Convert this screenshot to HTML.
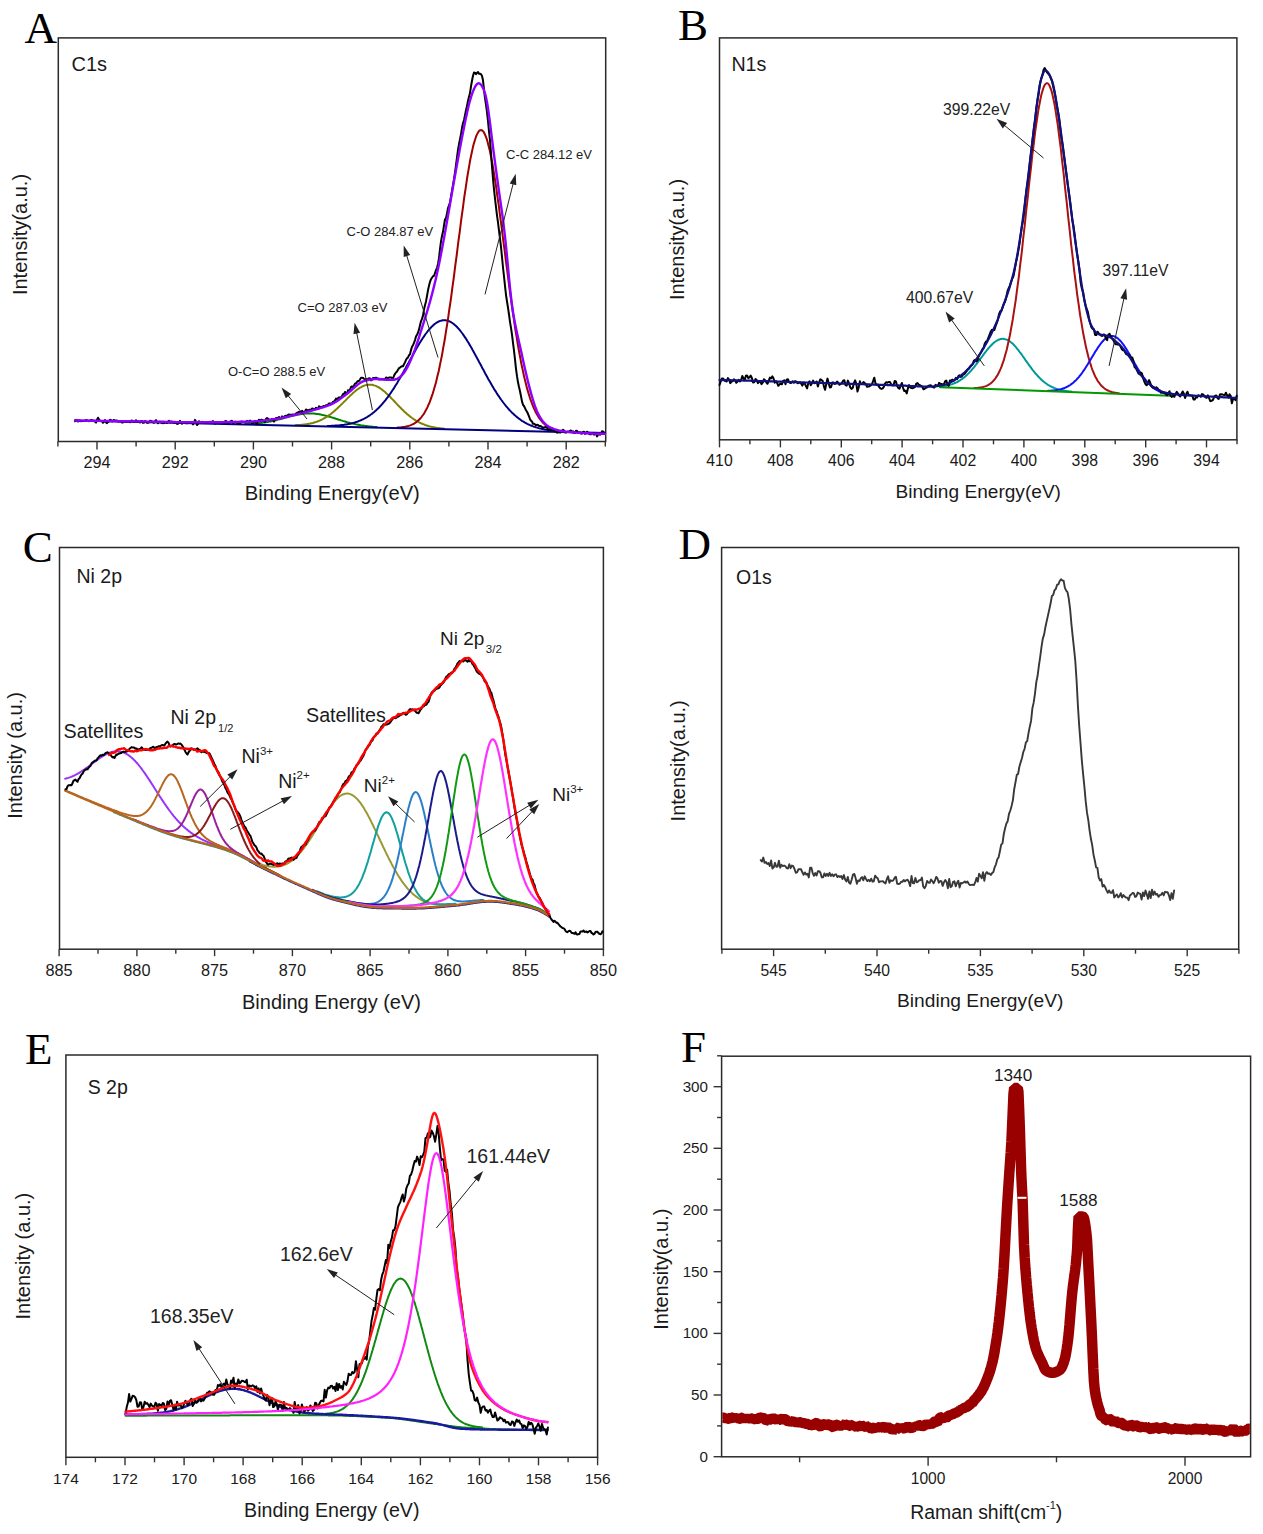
<!DOCTYPE html><html><head><meta charset="utf-8"><style>html,body{margin:0;padding:0;background:#fff;}svg{display:block}</style></head><body>
<svg width="1263" height="1534" viewBox="0 0 1263 1534">
<rect width="1263" height="1534" fill="#fff"/>
<rect x="58.3" y="37.9" width="547.4000000000001" height="403.6" fill="none" stroke="#2a2a2a" stroke-width="1.5"/>
<line x1="605.3" y1="441.5" x2="605.3" y2="446.5" stroke="#333" stroke-width="1.4"/>
<line x1="566.2" y1="441.5" x2="566.2" y2="449.5" stroke="#333" stroke-width="1.4"/>
<line x1="527.1" y1="441.5" x2="527.1" y2="446.5" stroke="#333" stroke-width="1.4"/>
<line x1="488" y1="441.5" x2="488" y2="449.5" stroke="#333" stroke-width="1.4"/>
<line x1="448.9" y1="441.5" x2="448.9" y2="446.5" stroke="#333" stroke-width="1.4"/>
<line x1="409.8" y1="441.5" x2="409.8" y2="449.5" stroke="#333" stroke-width="1.4"/>
<line x1="370.7" y1="441.5" x2="370.7" y2="446.5" stroke="#333" stroke-width="1.4"/>
<line x1="331.6" y1="441.5" x2="331.6" y2="449.5" stroke="#333" stroke-width="1.4"/>
<line x1="292.5" y1="441.5" x2="292.5" y2="446.5" stroke="#333" stroke-width="1.4"/>
<line x1="253.4" y1="441.5" x2="253.4" y2="449.5" stroke="#333" stroke-width="1.4"/>
<line x1="214.3" y1="441.5" x2="214.3" y2="446.5" stroke="#333" stroke-width="1.4"/>
<line x1="175.2" y1="441.5" x2="175.2" y2="449.5" stroke="#333" stroke-width="1.4"/>
<line x1="136.1" y1="441.5" x2="136.1" y2="446.5" stroke="#333" stroke-width="1.4"/>
<line x1="97" y1="441.5" x2="97" y2="449.5" stroke="#333" stroke-width="1.4"/>
<line x1="57.9" y1="441.5" x2="57.9" y2="446.5" stroke="#333" stroke-width="1.4"/>
<text x="566.2" y="468.4" font-family='"Liberation Sans", sans-serif' font-size="16.2" text-anchor="middle" fill="#1a1a1a">282</text>
<text x="488" y="468.4" font-family='"Liberation Sans", sans-serif' font-size="16.2" text-anchor="middle" fill="#1a1a1a">284</text>
<text x="409.8" y="468.4" font-family='"Liberation Sans", sans-serif' font-size="16.2" text-anchor="middle" fill="#1a1a1a">286</text>
<text x="331.6" y="468.4" font-family='"Liberation Sans", sans-serif' font-size="16.2" text-anchor="middle" fill="#1a1a1a">288</text>
<text x="253.4" y="468.4" font-family='"Liberation Sans", sans-serif' font-size="16.2" text-anchor="middle" fill="#1a1a1a">290</text>
<text x="175.2" y="468.4" font-family='"Liberation Sans", sans-serif' font-size="16.2" text-anchor="middle" fill="#1a1a1a">292</text>
<text x="97" y="468.4" font-family='"Liberation Sans", sans-serif' font-size="16.2" text-anchor="middle" fill="#1a1a1a">294</text>
<text x="332.3" y="500.4" font-family='"Liberation Sans", sans-serif' font-size="20.2" text-anchor="middle" fill="#1a1a1a">Binding Energy(eV)</text>
<text x="27.2" y="234.5" font-family='"Liberation Sans", sans-serif' font-size="20" text-anchor="middle" fill="#1a1a1a" transform="rotate(-90 27.2 234.5)">Intensity(a.u.)</text>
<text x="24.5" y="42.6" font-family='"Liberation Serif", serif' font-size="45" text-anchor="start" fill="#000">A</text>
<text x="71.5" y="70.5" font-family='"Liberation Sans", sans-serif' font-size="20" text-anchor="start" fill="#1a1a1a">C1s</text>
<polyline points="245.2,424.0 246.0,424.0 246.8,424.0 247.5,423.9 248.2,423.9 249.0,423.9 249.8,423.9 250.5,423.8 251.2,423.8 252.0,423.7 252.8,423.7 253.5,423.6 254.2,423.6 255.0,423.5 255.8,423.5 256.5,423.4 257.2,423.3 258.0,423.3 258.8,423.2 259.5,423.1 260.2,423.0 261.0,422.9 261.8,422.8 262.5,422.7 263.2,422.6 264.0,422.5 264.8,422.4 265.5,422.3 266.2,422.2 267.0,422.1 267.8,421.9 268.5,421.8 269.2,421.6 270.0,421.5 270.8,421.4 271.5,421.2 272.2,421.0 273.0,420.9 273.8,420.7 274.5,420.5 275.2,420.4 276.0,420.2 276.8,420.0 277.5,419.8 278.2,419.6 279.0,419.4 279.8,419.2 280.5,419.0 281.2,418.9 282.0,418.7 282.8,418.5 283.5,418.2 284.2,418.0 285.0,417.8 285.8,417.6 286.5,417.4 287.2,417.2 288.0,417.0 288.8,416.8 289.5,416.6 290.2,416.4 291.0,416.2 291.8,416.1 292.5,415.9 293.2,415.7 294.0,415.5 294.8,415.3 295.5,415.2 296.2,415.0 297.0,414.9 297.8,414.7 298.5,414.6 299.2,414.4 300.0,414.3 300.8,414.2 301.5,414.1 302.2,414.0 303.0,413.9 303.8,413.8 304.5,413.7 305.2,413.6 306.0,413.6 306.8,413.5 307.5,413.5 308.2,413.5 309.0,413.5 309.8,413.5 310.5,413.5 311.2,413.5 312.0,413.5 312.8,413.5 313.5,413.6 314.2,413.6 315.0,413.7 315.8,413.8 316.5,413.9 317.2,414.0 318.0,414.1 318.8,414.2 319.5,414.3 320.2,414.5 321.0,414.6 321.8,414.8 322.5,414.9 323.2,415.1 324.0,415.3 324.8,415.4 325.5,415.6 326.2,415.8 327.0,416.0 327.8,416.2 328.5,416.5 329.2,416.7 330.0,416.9 330.8,417.1 331.5,417.3 332.2,417.6 333.0,417.8 333.8,418.0 334.5,418.3 335.2,418.5 336.0,418.8 336.8,419.0 337.5,419.2 338.2,419.5 339.0,419.7 339.8,419.9 340.5,420.2 341.2,420.4 342.0,420.6 342.8,420.9 343.5,421.1 344.2,421.3 345.0,421.5 345.8,421.8 346.5,422.0 347.2,422.2 348.0,422.4 348.8,422.6 349.5,422.8 350.2,423.0 351.0,423.2 351.8,423.4 352.5,423.6 353.2,423.7 354.0,423.9 354.8,424.1 355.5,424.2 356.2,424.4 357.0,424.6 357.8,424.7 358.5,424.8 359.2,425.0 360.0,425.1 360.8,425.3 361.5,425.4 362.2,425.5 363.0,425.6 363.8,425.7 364.5,425.8 365.2,425.9 366.0,426.0 366.8,426.1 367.5,426.2 368.2,426.3 369.0,426.4 369.8,426.5 370.5,426.6 371.2,426.6 372.0,426.7 372.8,426.8 373.5,426.9 374.2,426.9 375.0,427.0 375.8,427.0 376.5,427.1" fill="none" stroke="#008000" stroke-width="2" stroke-linejoin="round" stroke-linecap="round"/>
<polyline points="295.5,425.2 296.2,425.2 297.0,425.1 297.8,425.1 298.5,425.0 299.2,425.0 300.0,424.9 300.8,424.9 301.5,424.8 302.2,424.8 303.0,424.7 303.8,424.6 304.5,424.5 305.2,424.4 306.0,424.3 306.8,424.2 307.5,424.1 308.2,424.0 309.0,423.8 309.8,423.7 310.5,423.5 311.2,423.3 312.0,423.2 312.8,423.0 313.5,422.8 314.2,422.5 315.0,422.3 315.8,422.1 316.5,421.8 317.2,421.6 318.0,421.3 318.8,421.0 319.5,420.7 320.2,420.3 321.0,420.0 321.8,419.6 322.5,419.2 323.2,418.9 324.0,418.4 324.8,418.0 325.5,417.6 326.2,417.1 327.0,416.6 327.8,416.1 328.5,415.6 329.2,415.1 330.0,414.6 330.8,414.0 331.5,413.4 332.2,412.8 333.0,412.2 333.8,411.6 334.5,410.9 335.2,410.3 336.0,409.6 336.8,408.9 337.5,408.2 338.2,407.5 339.0,406.8 339.8,406.1 340.5,405.4 341.2,404.6 342.0,403.9 342.8,403.1 343.5,402.4 344.2,401.6 345.0,400.9 345.8,400.1 346.5,399.3 347.2,398.6 348.0,397.8 348.8,397.1 349.5,396.4 350.2,395.6 351.0,394.9 351.8,394.2 352.5,393.5 353.2,392.8 354.0,392.2 354.8,391.5 355.5,390.9 356.2,390.3 357.0,389.7 357.8,389.2 358.5,388.7 359.2,388.2 360.0,387.7 360.8,387.3 361.5,386.9 362.2,386.5 363.0,386.1 363.8,385.8 364.5,385.6 365.2,385.3 366.0,385.1 366.8,384.9 367.5,384.8 368.2,384.7 369.0,384.7 369.8,384.7 370.5,384.7 371.2,384.7 372.0,384.8 372.8,385.0 373.5,385.2 374.2,385.4 375.0,385.6 375.8,385.9 376.5,386.2 377.2,386.6 378.0,387.0 378.8,387.4 379.5,387.9 380.2,388.3 381.0,388.9 381.8,389.4 382.5,390.0 383.2,390.6 384.0,391.2 384.8,391.8 385.5,392.5 386.2,393.2 387.0,393.9 387.8,394.6 388.5,395.3 389.2,396.1 390.0,396.8 390.8,397.6 391.5,398.4 392.2,399.1 393.0,399.9 393.8,400.7 394.5,401.5 395.2,402.3 396.0,403.1 396.8,403.9 397.5,404.7 398.2,405.5 399.0,406.2 399.8,407.0 400.5,407.8 401.2,408.5 402.0,409.3 402.8,410.0 403.5,410.7 404.2,411.5 405.0,412.2 405.8,412.8 406.5,413.5 407.2,414.2 408.0,414.8 408.8,415.4 409.5,416.0 410.2,416.6 411.0,417.2 411.8,417.8 412.5,418.3 413.2,418.8 414.0,419.3 414.8,419.8 415.5,420.3 416.2,420.8 417.0,421.2 417.8,421.6 418.5,422.0 419.2,422.4 420.0,422.8 420.8,423.2 421.5,423.5 422.2,423.8 423.0,424.1 423.8,424.4 424.5,424.7 425.2,425.0 426.0,425.3 426.8,425.5 427.5,425.7 428.2,426.0 429.0,426.2 429.8,426.4 430.5,426.6 431.2,426.8 432.0,426.9 432.8,427.1 433.5,427.2 434.2,427.4 435.0,427.5 435.8,427.6 436.5,427.8 437.2,427.9 438.0,428.0 438.8,428.1 439.5,428.2 440.2,428.3 441.0,428.4 441.8,428.4 442.5,428.5 443.2,428.6 444.0,428.7" fill="none" stroke="#808000" stroke-width="2" stroke-linejoin="round" stroke-linecap="round"/>
<polyline points="327.8,426.0 328.5,425.9 329.2,425.9 330.0,425.9 330.8,425.9 331.5,425.8 332.2,425.8 333.0,425.8 333.8,425.7 334.5,425.7 335.2,425.6 336.0,425.6 336.8,425.5 337.5,425.5 338.2,425.4 339.0,425.4 339.8,425.3 340.5,425.2 341.2,425.1 342.0,425.0 342.8,425.0 343.5,424.9 344.2,424.8 345.0,424.6 345.8,424.5 346.5,424.4 347.2,424.3 348.0,424.1 348.8,424.0 349.5,423.8 350.2,423.7 351.0,423.5 351.8,423.3 352.5,423.1 353.2,422.9 354.0,422.7 354.8,422.5 355.5,422.3 356.2,422.0 357.0,421.8 357.8,421.5 358.5,421.2 359.2,420.9 360.0,420.6 360.8,420.3 361.5,420.0 362.2,419.6 363.0,419.3 363.8,418.9 364.5,418.5 365.2,418.1 366.0,417.7 366.8,417.3 367.5,416.8 368.2,416.3 369.0,415.8 369.8,415.3 370.5,414.8 371.2,414.3 372.0,413.7 372.8,413.1 373.5,412.5 374.2,411.9 375.0,411.2 375.8,410.6 376.5,409.9 377.2,409.2 378.0,408.5 378.8,407.7 379.5,407.0 380.2,406.2 381.0,405.4 381.8,404.5 382.5,403.7 383.2,402.8 384.0,401.9 384.8,401.0 385.5,400.1 386.2,399.1 387.0,398.1 387.8,397.1 388.5,396.1 389.2,395.1 390.0,394.0 390.8,392.9 391.5,391.8 392.2,390.7 393.0,389.6 393.8,388.4 394.5,387.2 395.2,386.0 396.0,384.8 396.8,383.6 397.5,382.4 398.2,381.1 399.0,379.8 399.8,378.5 400.5,377.2 401.2,375.9 402.0,374.6 402.8,373.3 403.5,371.9 404.2,370.6 405.0,369.2 405.8,367.9 406.5,366.5 407.2,365.2 408.0,363.8 408.8,362.4 409.5,361.0 410.2,359.7 411.0,358.3 411.8,356.9 412.5,355.6 413.2,354.2 414.0,352.9 414.8,351.5 415.5,350.2 416.2,348.9 417.0,347.6 417.8,346.3 418.5,345.0 419.2,343.8 420.0,342.5 420.8,341.3 421.5,340.1 422.2,339.0 423.0,337.8 423.8,336.7 424.5,335.6 425.2,334.5 426.0,333.5 426.8,332.5 427.5,331.5 428.2,330.6 429.0,329.7 429.8,328.8 430.5,328.0 431.2,327.2 432.0,326.4 432.8,325.7 433.5,325.0 434.2,324.4 435.0,323.8 435.8,323.2 436.5,322.7 437.2,322.3 438.0,321.9 438.8,321.5 439.5,321.2 440.2,320.9 441.0,320.7 441.8,320.5 442.5,320.3 443.2,320.3 444.0,320.2 444.8,320.2 445.5,320.3 446.2,320.4 447.0,320.5 447.8,320.7 448.5,321.0 449.2,321.3 450.0,321.6 450.8,322.0 451.5,322.5 452.2,322.9 453.0,323.5 453.8,324.0 454.5,324.7 455.2,325.3 456.0,326.0 456.8,326.8 457.5,327.5 458.2,328.3 459.0,329.2 459.8,330.1 460.5,331.0 461.2,332.0 462.0,333.0 462.8,334.0 463.5,335.1 464.2,336.2 465.0,337.3 465.8,338.4 466.5,339.6 467.2,340.8 468.0,342.0 468.8,343.3 469.5,344.5 470.2,345.8 471.0,347.1 471.8,348.4 472.5,349.8 473.2,351.1 474.0,352.5 474.8,353.9 475.5,355.2 476.2,356.6 477.0,358.0 477.8,359.4 478.5,360.8 479.2,362.2 480.0,363.6 480.8,365.0 481.5,366.4 482.2,367.8 483.0,369.2 483.8,370.6 484.5,372.0 485.2,373.4 486.0,374.8 486.8,376.2 487.5,377.5 488.2,378.9 489.0,380.2 489.8,381.5 490.5,382.8 491.2,384.1 492.0,385.4 492.8,386.7 493.5,387.9 494.2,389.2 495.0,390.4 495.8,391.6 496.5,392.8 497.2,393.9 498.0,395.1 498.8,396.2 499.5,397.3 500.2,398.4 501.0,399.5 501.8,400.5 502.5,401.5 503.2,402.5 504.0,403.5 504.8,404.5 505.5,405.4 506.2,406.3 507.0,407.2 507.8,408.1 508.5,408.9 509.2,409.8 510.0,410.6 510.8,411.4 511.5,412.1 512.2,412.9 513.0,413.6 513.8,414.3 514.5,415.0 515.2,415.6 516.0,416.3 516.8,416.9 517.5,417.5 518.2,418.1 519.0,418.7 519.8,419.2 520.5,419.7 521.2,420.3 522.0,420.8 522.8,421.2 523.5,421.7 524.2,422.1 525.0,422.6 525.8,423.0 526.5,423.4 527.2,423.8 528.0,424.2 528.8,424.5 529.5,424.9 530.2,425.2 531.0,425.5 531.8,425.8 532.5,426.1 533.2,426.4 534.0,426.7 534.8,426.9 535.5,427.2 536.2,427.4 537.0,427.6 537.8,427.8 538.5,428.1 539.2,428.3 540.0,428.4 540.8,428.6 541.5,428.8 542.2,429.0 543.0,429.1 543.8,429.3 544.5,429.4 545.2,429.6 546.0,429.7 546.8,429.8 547.5,430.0 548.2,430.1 549.0,430.2 549.8,430.3 550.5,430.4 551.2,430.5 552.0,430.6 552.8,430.7 553.5,430.8 554.2,430.9 555.0,430.9 555.8,431.0 556.5,431.1 557.2,431.1 558.0,431.2 558.8,431.3 559.5,431.3 560.2,431.4 561.0,431.4" fill="none" stroke="#000080" stroke-width="2" stroke-linejoin="round" stroke-linecap="round"/>
<polyline points="397.5,427.6 398.2,427.6 399.0,427.5 399.8,427.5 400.5,427.4 401.2,427.3 402.0,427.2 402.8,427.1 403.5,427.0 404.2,426.9 405.0,426.8 405.8,426.6 406.5,426.5 407.2,426.3 408.0,426.1 408.8,425.9 409.5,425.6 410.2,425.4 411.0,425.1 411.8,424.7 412.5,424.4 413.2,424.0 414.0,423.6 414.8,423.1 415.5,422.7 416.2,422.1 417.0,421.5 417.8,420.9 418.5,420.2 419.2,419.5 420.0,418.7 420.8,417.9 421.5,417.0 422.2,416.0 423.0,415.0 423.8,413.9 424.5,412.7 425.2,411.4 426.0,410.0 426.8,408.6 427.5,407.1 428.2,405.4 429.0,403.7 429.8,401.9 430.5,399.9 431.2,397.9 432.0,395.7 432.8,393.4 433.5,391.0 434.2,388.5 435.0,385.9 435.8,383.1 436.5,380.2 437.2,377.1 438.0,374.0 438.8,370.7 439.5,367.2 440.2,363.6 441.0,359.9 441.8,356.1 442.5,352.1 443.2,347.9 444.0,343.7 444.8,339.3 445.5,334.7 446.2,330.1 447.0,325.3 447.8,320.4 448.5,315.4 449.2,310.2 450.0,305.0 450.8,299.7 451.5,294.3 452.2,288.8 453.0,283.2 453.8,277.5 454.5,271.8 455.2,266.1 456.0,260.3 456.8,254.5 457.5,248.7 458.2,242.9 459.0,237.0 459.8,231.3 460.5,225.5 461.2,219.8 462.0,214.1 462.8,208.6 463.5,203.1 464.2,197.7 465.0,192.4 465.8,187.3 466.5,182.3 467.2,177.5 468.0,172.8 468.8,168.3 469.5,164.1 470.2,160.0 471.0,156.1 471.8,152.5 472.5,149.1 473.2,146.0 474.0,143.1 474.8,140.5 475.5,138.2 476.2,136.1 477.0,134.4 477.8,132.9 478.5,131.7 479.2,130.9 480.0,130.3 480.8,130.1 481.5,130.2 482.2,130.5 483.0,131.2 483.8,132.2 484.5,133.5 485.2,135.1 486.0,137.0 486.8,139.2 487.5,141.6 488.2,144.4 489.0,147.4 489.8,150.6 490.5,154.1 491.2,157.9 492.0,161.8 492.8,166.0 493.5,170.4 494.2,175.0 495.0,179.7 495.8,184.7 496.5,189.7 497.2,195.0 498.0,200.3 498.8,205.7 499.5,211.3 500.2,216.9 501.0,222.6 501.8,228.4 502.5,234.2 503.2,240.0 504.0,245.9 504.8,251.7 505.5,257.6 506.2,263.4 507.0,269.2 507.8,275.0 508.5,280.7 509.2,286.4 510.0,292.0 510.8,297.5 511.5,302.9 512.2,308.2 513.0,313.5 513.8,318.6 514.5,323.6 515.2,328.5 516.0,333.3 516.8,337.9 517.5,342.5 518.2,346.9 519.0,351.1 519.8,355.2 520.5,359.2 521.2,363.1 522.0,366.8 522.8,370.4 523.5,373.8 524.2,377.1 525.0,380.2 525.8,383.3 526.5,386.2 527.2,388.9 528.0,391.6 528.8,394.1 529.5,396.5 530.2,398.8 531.0,400.9 531.8,403.0 532.5,404.9 533.2,406.7 534.0,408.5 534.8,410.1 535.5,411.7 536.2,413.1 537.0,414.5 537.8,415.7 538.5,416.9 539.2,418.1 540.0,419.1 540.8,420.1 541.5,421.0 542.2,421.9 543.0,422.7 543.8,423.4 544.5,424.1 545.2,424.8 546.0,425.4 546.8,425.9 547.5,426.4 548.2,426.9 549.0,427.4 549.8,427.8 550.5,428.1 551.2,428.5 552.0,428.8 552.8,429.1 553.5,429.4 554.2,429.6 555.0,429.8 555.8,430.1 556.5,430.2 557.2,430.4 558.0,430.6 558.8,430.7 559.5,430.9 560.2,431.0 561.0,431.1 561.8,431.2 562.5,431.3 563.2,431.4 564.0,431.5" fill="none" stroke="#a00000" stroke-width="2" stroke-linejoin="round" stroke-linecap="round"/>
<polyline points="75.0,420.5 605.0,433.0" fill="none" stroke="#000080" stroke-width="2" stroke-linejoin="round" stroke-linecap="round"/>
<polyline points="75.0,421.3 76.0,419.8 77.0,420.3 78.0,421.5 79.0,420.5 80.0,420.6 81.0,421.3 82.0,421.1 83.0,420.9 84.0,421.1 85.0,420.6 86.0,420.1 87.0,420.3 88.0,420.9 89.0,421.3 90.0,420.6 91.0,420.1 92.0,420.1 93.0,420.7 94.0,420.7 95.0,421.7 96.0,422.6 97.0,419.7 98.0,417.7 99.0,419.5 100.0,420.6 101.0,420.9 102.0,421.4 103.0,422.8 104.0,421.8 105.0,420.1 106.0,422.4 107.0,423.1 108.0,422.1 109.0,421.3 110.0,419.7 111.0,420.2 112.0,421.5 113.0,420.5 114.0,419.9 115.0,420.8 116.0,420.6 117.0,420.6 118.0,421.4 119.0,421.5 120.0,421.1 121.0,421.5 122.0,422.6 123.0,422.4 124.0,421.2 125.0,421.5 126.0,421.7 127.0,421.9 128.0,421.5 129.0,421.5 130.0,422.3 131.0,420.7 132.0,420.5 133.0,421.5 134.0,421.9 135.0,421.2 136.0,420.2 137.0,421.1 138.0,421.6 139.0,421.6 140.0,422.5 141.0,421.2 142.0,420.9 143.0,422.9 144.0,422.6 145.0,421.1 146.0,421.9 147.0,422.7 148.0,422.8 149.0,422.4 150.0,420.7 151.0,420.9 152.0,421.6 153.0,422.3 154.0,422.8 155.0,421.1 156.0,420.1 157.0,421.9 158.0,423.3 159.0,422.2 160.0,421.7 161.0,422.5 162.0,422.9 163.0,423.2 164.0,423.1 165.0,422.4 166.0,422.1 167.0,422.9 168.0,421.5 169.0,420.7 170.0,422.3 171.0,421.4 172.0,421.7 173.0,422.2 174.0,422.6 175.0,423.0 176.0,422.9 177.0,423.9 178.0,423.7 179.0,422.2 180.0,420.9 181.0,422.8 182.0,423.8 183.0,422.1 184.0,422.3 185.0,422.6 186.0,423.2 187.0,423.3 188.0,422.8 189.0,422.2 190.0,422.6 191.0,422.3 192.0,422.5 193.0,424.4 194.0,422.8 195.0,419.9 196.0,421.5 197.0,425.1 198.0,423.9 199.0,421.2 200.0,422.3 201.0,422.6 202.0,421.8 203.0,422.2 204.0,422.9 205.0,422.9 206.0,422.7 207.0,422.9 208.0,422.0 209.0,421.9 210.0,421.8 211.0,422.1 212.0,421.9 213.0,421.1 214.0,423.0 215.0,423.7 216.0,422.6 217.0,423.0 218.0,422.7 219.0,422.2 220.0,422.8 221.0,423.1 222.0,422.0 223.0,422.3 224.0,422.7 225.0,421.3 226.0,421.1 227.0,421.6 228.0,423.4 229.0,422.8 230.0,421.7 231.0,421.0 232.0,420.8 233.0,423.0 234.0,422.8 235.0,421.7 236.0,422.0 237.0,422.9 238.0,423.2 239.0,424.1 240.0,423.7 241.0,421.8 242.0,421.6 243.0,421.9 244.0,422.0 245.0,422.0 246.0,422.0 247.0,420.8 248.0,421.3 249.0,422.0 250.0,420.5 251.0,421.4 252.0,423.1 253.0,422.9 254.0,422.0 255.0,420.9 256.0,422.8 257.0,424.0 258.0,421.0 259.0,419.7 260.0,420.5 261.0,419.8 262.0,419.7 263.0,420.4 264.0,421.0 265.0,421.9 266.0,418.9 267.0,418.1 268.0,418.7 269.0,419.3 270.0,420.4 271.0,419.9 272.0,418.8 273.0,419.5 274.0,421.6 275.0,419.3 276.0,418.0 277.0,418.1 278.0,417.6 279.0,417.0 280.0,418.2 281.0,418.2 282.0,416.4 283.0,417.3 284.0,416.8 285.0,416.0 286.0,415.8 287.0,415.7 288.0,415.0 289.0,414.5 290.0,414.9 291.0,414.7 292.0,414.7 293.0,414.4 294.0,414.7 295.0,414.4 296.0,413.5 297.0,412.9 298.0,412.4 299.0,411.7 300.0,412.2 301.0,412.0 302.0,410.9 303.0,411.7 304.0,412.3 305.0,411.5 306.0,409.5 307.0,409.9 308.0,411.3 309.0,409.7 310.0,409.8 311.0,410.1 312.0,408.5 313.0,408.8 314.0,409.2 315.0,409.0 316.0,407.7 317.0,408.6 318.0,409.0 319.0,406.3 320.0,406.8 321.0,407.4 322.0,406.8 323.0,406.5 324.0,405.9 325.0,406.0 326.0,405.2 327.0,405.1 328.0,404.9 329.0,403.4 330.0,403.4 331.0,403.9 332.0,403.2 333.0,401.7 334.0,401.7 335.0,400.5 336.0,398.6 337.0,399.2 338.0,398.2 339.0,397.4 340.0,397.6 341.0,397.4 342.0,396.0 343.0,394.1 344.0,394.2 345.0,392.0 346.0,393.2 347.0,393.7 348.0,390.2 349.0,390.4 350.0,389.9 351.0,387.0 352.0,386.5 353.0,387.3 354.0,385.5 355.0,383.6 356.0,383.3 357.0,381.9 358.0,381.0 359.0,381.0 360.0,379.5 361.0,377.8 362.0,377.8 363.0,377.9 364.0,378.7 365.0,379.4 366.0,379.3 367.0,379.3 368.0,378.9 369.0,378.2 370.0,378.5 371.0,380.4 372.0,379.7 373.0,377.9 374.0,378.1 375.0,378.1 376.0,377.7 377.0,378.2 378.0,378.5 379.0,379.4 380.0,379.6 381.0,378.8 382.0,379.5 383.0,379.1 384.0,379.4 385.0,379.2 386.0,377.6 387.0,377.8 388.0,378.3 389.0,377.5 390.0,377.6 391.0,377.4 392.0,378.1 393.0,378.5 394.0,375.8 395.0,373.8 396.0,372.5 397.0,371.6 398.0,369.8 399.0,368.2 400.0,367.6 401.0,366.7 402.0,366.3 403.0,366.3 404.0,364.3 405.0,362.4 406.0,359.9 407.0,358.3 408.0,357.4 409.0,355.3 410.0,354.3 411.0,350.1 412.0,346.8 413.0,345.2 414.0,342.9 415.0,340.1 416.0,336.6 417.0,334.8 418.0,332.7 419.0,329.4 420.0,325.2 421.0,321.3 422.0,318.9 423.0,315.6 424.0,309.6 425.0,305.3 426.0,301.4 427.0,296.0 428.0,290.3 429.0,285.8 430.0,281.8 431.0,279.2 432.0,277.7 433.0,276.2 434.0,275.8 435.0,273.0 436.0,270.1 437.0,267.8 438.0,264.0 439.0,258.1 440.0,249.1 441.0,241.4 442.0,236.0 443.0,231.8 444.0,225.5 445.0,219.5 446.0,217.9 447.0,213.6 448.0,208.0 449.0,205.4 450.0,202.5 451.0,196.6 452.0,190.6 453.0,185.0 454.0,179.2 455.0,172.3 456.0,165.1 457.0,157.5 458.0,150.0 459.0,144.1 460.0,139.1 461.0,134.1 462.0,127.8 463.0,123.3 464.0,120.0 465.0,115.2 466.0,110.3 467.0,106.1 468.0,100.8 469.0,96.7 470.0,93.1 471.0,86.4 472.0,80.8 473.0,75.8 474.0,72.6 475.0,72.7 476.0,74.1 477.0,73.0 478.0,72.0 479.0,73.8 480.0,73.8 481.0,74.1 482.0,76.0 483.0,80.3 484.0,89.9 485.0,98.2 486.0,104.6 487.0,112.1 488.0,121.1 489.0,131.4 490.0,140.4 491.0,152.9 492.0,166.8 493.0,178.7 494.0,189.4 495.0,198.5 496.0,207.2 497.0,215.4 498.0,222.4 499.0,230.6 500.0,238.6 501.0,246.9 502.0,257.0 503.0,267.5 504.0,276.4 505.0,285.8 506.0,295.0 507.0,301.5 508.0,307.6 509.0,314.5 510.0,321.8 511.0,327.9 512.0,334.7 513.0,342.8 514.0,350.6 515.0,359.4 516.0,368.8 517.0,376.2 518.0,382.3 519.0,387.0 520.0,391.2 521.0,396.2 522.0,401.4 523.0,404.8 524.0,406.0 525.0,408.1 526.0,410.2 527.0,411.7 528.0,413.8 529.0,416.3 530.0,419.3 531.0,420.7 532.0,421.5 533.0,423.8 534.0,423.7 535.0,424.4 536.0,425.5 537.0,424.7 538.0,425.0 539.0,425.9 540.0,426.0 541.0,426.3 542.0,427.0 543.0,427.8 544.0,427.3 545.0,427.3 546.0,427.1 547.0,427.6 548.0,429.4 549.0,429.6 550.0,429.6 551.0,430.1 552.0,429.6 553.0,429.2 554.0,430.2 555.0,431.3 556.0,431.4 557.0,432.7 558.0,432.5 559.0,431.5 560.0,432.6 561.0,431.9 562.0,430.5 563.0,429.8 564.0,430.6 565.0,432.4 566.0,432.6 567.0,432.0 568.0,431.6 569.0,432.0 570.0,430.8 571.0,430.6 572.0,432.3 573.0,431.2 574.0,432.9 575.0,432.9 576.0,430.7 577.0,430.9 578.0,432.5 579.0,432.8 580.0,432.6 581.0,433.7 582.0,433.5 583.0,432.2 584.0,431.7 585.0,433.9 586.0,433.4 587.0,431.7 588.0,432.6 589.0,433.8 590.0,434.2 591.0,434.2 592.0,433.2 593.0,433.4 594.0,434.7 595.0,432.9 596.0,433.6 597.0,436.4 598.0,434.8 599.0,433.2 600.0,434.8 601.0,433.7 602.0,431.3 603.0,431.4 604.0,432.5 605.0,433.0" fill="none" stroke="#000" stroke-width="2" stroke-linejoin="round" stroke-linecap="round"/>
<polyline points="75.0,420.5 76.0,420.5 77.0,420.5 78.0,420.5 79.0,420.6 80.0,420.6 81.0,420.6 82.0,420.6 83.0,420.6 84.0,420.6 85.0,420.7 86.0,420.7 87.0,420.7 88.0,420.7 89.0,420.7 90.0,420.7 91.0,420.7 92.0,420.8 93.0,420.8 94.0,420.8 95.0,420.8 96.0,420.8 97.0,420.8 98.0,420.8 99.0,420.9 100.0,420.9 101.0,420.9 102.0,420.9 103.0,420.9 104.0,420.9 105.0,420.9 106.0,421.0 107.0,421.0 108.0,421.0 109.0,421.0 110.0,421.0 111.0,421.0 112.0,421.0 113.0,421.1 114.0,421.1 115.0,421.1 116.0,421.1 117.0,421.1 118.0,421.1 119.0,421.2 120.0,421.2 121.0,421.2 122.0,421.2 123.0,421.2 124.0,421.2 125.0,421.2 126.0,421.3 127.0,421.3 128.0,421.3 129.0,421.3 130.0,421.3 131.0,421.3 132.0,421.3 133.0,421.4 134.0,421.4 135.0,421.4 136.0,421.4 137.0,421.4 138.0,421.4 139.0,421.4 140.0,421.5 141.0,421.5 142.0,421.5 143.0,421.5 144.0,421.5 145.0,421.5 146.0,421.5 147.0,421.6 148.0,421.6 149.0,421.6 150.0,421.6 151.0,421.6 152.0,421.6 153.0,421.6 154.0,421.7 155.0,421.7 156.0,421.7 157.0,421.7 158.0,421.7 159.0,421.7 160.0,421.8 161.0,421.8 162.0,421.8 163.0,421.8 164.0,421.8 165.0,421.9 166.0,421.9 167.0,421.9 168.0,421.9 169.0,421.9 170.0,421.9 171.0,422.0 172.0,422.0 173.0,422.0 174.0,422.0 175.0,422.0 176.0,422.1 177.0,422.1 178.0,422.1 179.0,422.1 180.0,422.1 181.0,422.1 182.0,422.2 183.0,422.2 184.0,422.2 185.0,422.2 186.0,422.2 187.0,422.2 188.0,422.2 189.0,422.2 190.0,422.2 191.0,422.3 192.0,422.3 193.0,422.3 194.0,422.3 195.0,422.3 196.0,422.3 197.0,422.3 198.0,422.3 199.0,422.3 200.0,422.3 201.0,422.3 202.0,422.3 203.0,422.3 204.0,422.3 205.0,422.3 206.0,422.3 207.0,422.3 208.0,422.3 209.0,422.3 210.0,422.3 211.0,422.3 212.0,422.3 213.0,422.2 214.0,422.2 215.0,422.2 216.0,422.2 217.0,422.2 218.0,422.2 219.0,422.2 220.0,422.2 221.0,422.2 222.0,422.2 223.0,422.1 224.0,422.1 225.0,422.1 226.0,422.1 227.0,422.1 228.0,422.1 229.0,422.1 230.0,422.0 231.0,422.0 232.0,422.0 233.0,422.0 234.0,422.0 235.0,421.9 236.0,421.9 237.0,421.9 238.0,421.9 239.0,421.9 240.0,421.8 241.0,421.8 242.0,421.8 243.0,421.8 244.0,421.8 245.0,421.7 246.0,421.7 247.0,421.7 248.0,421.6 249.0,421.6 250.0,421.6 251.0,421.6 252.0,421.5 253.0,421.5 254.0,421.4 255.0,421.4 256.0,421.3 257.0,421.2 258.0,421.1 259.0,421.0 260.0,420.9 261.0,420.8 262.0,420.7 263.0,420.6 264.0,420.5 265.0,420.4 266.0,420.3 267.0,420.2 268.0,420.0 269.0,419.9 270.0,419.8 271.0,419.6 272.0,419.5 273.0,419.3 274.0,419.2 275.0,419.0 276.0,418.9 277.0,418.7 278.0,418.6 279.0,418.4 280.0,418.3 281.0,418.1 282.0,417.9 283.0,417.7 284.0,417.5 285.0,417.3 286.0,417.1 287.0,416.8 288.0,416.6 289.0,416.3 290.0,416.1 291.0,415.8 292.0,415.6 293.0,415.3 294.0,415.1 295.0,414.8 296.0,414.6 297.0,414.3 298.0,414.1 299.0,413.8 300.0,413.6 301.0,413.3 302.0,413.1 303.0,412.8 304.0,412.6 305.0,412.3 306.0,412.0 307.0,411.8 308.0,411.5 309.0,411.3 310.0,411.0 311.0,410.8 312.0,410.5 313.0,410.2 314.0,409.9 315.0,409.7 316.0,409.4 317.0,409.1 318.0,408.8 319.0,408.5 320.0,408.2 321.0,407.9 322.0,407.6 323.0,407.3 324.0,407.0 325.0,406.6 326.0,406.3 327.0,405.9 328.0,405.6 329.0,405.2 330.0,404.8 331.0,404.4 332.0,403.9 333.0,403.4 334.0,402.9 335.0,402.3 336.0,401.7 337.0,401.1 338.0,400.4 339.0,399.7 340.0,399.0 341.0,398.3 342.0,397.6 343.0,396.8 344.0,396.1 345.0,395.4 346.0,394.6 347.0,393.8 348.0,393.1 349.0,392.2 350.0,391.4 351.0,390.5 352.0,389.6 353.0,388.7 354.0,387.8 355.0,386.9 356.0,386.0 357.0,385.2 358.0,384.4 359.0,383.6 360.0,383.0 361.0,382.4 362.0,381.9 363.0,381.4 364.0,381.0 365.0,380.7 366.0,380.5 367.0,380.2 368.0,380.0 369.0,379.8 370.0,379.6 371.0,379.5 372.0,379.3 373.0,379.2 374.0,379.1 375.0,379.0 376.0,379.0 377.0,379.0 378.0,379.0 379.0,379.0 380.0,379.1 381.0,379.1 382.0,379.2 383.0,379.3 384.0,379.5 385.0,379.6 386.0,379.7 387.0,379.8 388.0,379.8 389.0,379.9 390.0,379.9 391.0,379.9 392.0,379.9 393.0,379.8 394.0,379.7 395.0,379.5 396.0,379.2 397.0,378.9 398.0,378.4 399.0,377.7 400.0,377.0 401.0,376.1 402.0,375.1 403.0,374.0 404.0,372.7 405.0,371.3 406.0,369.7 407.0,368.0 408.0,366.1 409.0,364.0 410.0,361.8 411.0,359.5 412.0,357.1 413.0,354.6 414.0,352.0 415.0,349.3 416.0,346.4 417.0,343.5 418.0,340.4 419.0,337.3 420.0,334.2 421.0,331.0 422.0,327.9 423.0,324.7 424.0,321.6 425.0,318.4 426.0,315.1 427.0,311.8 428.0,308.5 429.0,305.1 430.0,301.6 431.0,297.9 432.0,294.2 433.0,290.4 434.0,286.4 435.0,282.3 436.0,278.1 437.0,273.6 438.0,269.0 439.0,264.2 440.0,259.2 441.0,254.1 442.0,248.9 443.0,243.6 444.0,238.2 445.0,232.6 446.0,227.1 447.0,221.4 448.0,215.7 449.0,209.9 450.0,204.2 451.0,198.4 452.0,192.7 453.0,187.0 454.0,181.3 455.0,175.7 456.0,170.1 457.0,164.5 458.0,159.0 459.0,153.5 460.0,148.1 461.0,142.8 462.0,137.6 463.0,132.5 464.0,127.4 465.0,122.4 466.0,117.5 467.0,112.9 468.0,108.4 469.0,104.3 470.0,100.6 471.0,97.2 472.0,94.1 473.0,91.4 474.0,89.0 475.0,86.9 476.0,85.2 477.0,84.1 478.0,83.4 479.0,83.3 480.0,83.8 481.0,84.7 482.0,86.1 483.0,88.0 484.0,90.4 485.0,93.4 486.0,97.3 487.0,102.2 488.0,108.2 489.0,115.3 490.0,123.0 491.0,131.1 492.0,139.1 493.0,147.0 494.0,154.7 495.0,162.3 496.0,169.7 497.0,177.0 498.0,184.2 499.0,191.4 500.0,198.4 501.0,205.4 502.0,212.5 503.0,219.9 504.0,227.9 505.0,236.6 506.0,246.1 507.0,256.4 508.0,267.2 509.0,277.8 510.0,287.9 511.0,297.0 512.0,304.9 513.0,311.8 514.0,317.9 515.0,323.3 516.0,328.3 517.0,332.9 518.0,337.5 519.0,341.9 520.0,346.3 521.0,350.8 522.0,355.3 523.0,359.9 524.0,364.4 525.0,368.9 526.0,373.3 527.0,377.6 528.0,381.7 529.0,385.6 530.0,389.4 531.0,393.1 532.0,396.7 533.0,400.0 534.0,403.2 535.0,406.2 536.0,408.8 537.0,411.3 538.0,413.4 539.0,415.4 540.0,417.1 541.0,418.8 542.0,420.2 543.0,421.5 544.0,422.7 545.0,423.7 546.0,424.6 547.0,425.4 548.0,426.1 549.0,426.7 550.0,427.2 551.0,427.7 552.0,428.2 553.0,428.6 554.0,429.0 555.0,429.4 556.0,429.7 557.0,430.0 558.0,430.3 559.0,430.6 560.0,430.8 561.0,431.0 562.0,431.1 563.0,431.3 564.0,431.4 565.0,431.5 566.0,431.6 567.0,431.7 568.0,431.8 569.0,431.9 570.0,432.0 571.0,432.1 572.0,432.2 573.0,432.3 574.0,432.4 575.0,432.5 576.0,432.6 577.0,432.6 578.0,432.7 579.0,432.8 580.0,432.9 581.0,432.9 582.0,433.0 583.0,433.1 584.0,433.1 585.0,433.2 586.0,433.2 587.0,433.3 588.0,433.3 589.0,433.4 590.0,433.4 591.0,433.5 592.0,433.5 593.0,433.6 594.0,433.6 595.0,433.6 596.0,433.7 597.0,433.7 598.0,433.7 599.0,433.7 600.0,433.7 601.0,433.8 602.0,433.8 603.0,433.8 604.0,433.8 605.0,433.8" fill="none" stroke="#8f00ff" stroke-width="2.4" stroke-linejoin="round" stroke-linecap="round"/>
<text x="506" y="159.3" font-family='"Liberation Sans", sans-serif' font-size="13" text-anchor="start" fill="#222">C-C 284.12 eV</text>
<line x1="485" y1="294.4" x2="513.2" y2="183.5" stroke="#222" stroke-width="1"/>
<polygon points="515.7,173.8 516.3,185.3 509.7,183.6" fill="#222"/>
<text x="346.5" y="236.3" font-family='"Liberation Sans", sans-serif' font-size="13" text-anchor="start" fill="#222">C-O 284.87 eV</text>
<line x1="438" y1="357.5" x2="406.6" y2="255.2" stroke="#222" stroke-width="1"/>
<polygon points="403.7,245.6 410.2,255.1 403.7,257.1" fill="#222"/>
<text x="297.5" y="311.7" font-family='"Liberation Sans", sans-serif' font-size="13" text-anchor="start" fill="#222">C=O 287.03 eV</text>
<line x1="372.4" y1="410" x2="356.6" y2="332.5" stroke="#222" stroke-width="1"/>
<polygon points="354.6,322.7 360.1,332.8 353.5,334.2" fill="#222"/>
<text x="228" y="375.5" font-family='"Liberation Sans", sans-serif' font-size="13" text-anchor="start" fill="#222">O-C=O 288.5 eV</text>
<line x1="307" y1="419" x2="287.8" y2="395.3" stroke="#222" stroke-width="1"/>
<polygon points="281.5,387.5 291.1,393.9 285.8,398.2" fill="#222"/>
<rect x="719.5" y="37.9" width="517.4000000000001" height="401.90000000000003" fill="none" stroke="#2a2a2a" stroke-width="1.5"/>
<line x1="1206.5" y1="439.8" x2="1206.5" y2="447.4" stroke="#333" stroke-width="1.4"/>
<line x1="1145.7" y1="439.8" x2="1145.7" y2="447.4" stroke="#333" stroke-width="1.4"/>
<line x1="1084.8" y1="439.8" x2="1084.8" y2="447.4" stroke="#333" stroke-width="1.4"/>
<line x1="1023.9" y1="439.8" x2="1023.9" y2="447.4" stroke="#333" stroke-width="1.4"/>
<line x1="963" y1="439.8" x2="963" y2="447.4" stroke="#333" stroke-width="1.4"/>
<line x1="902.1" y1="439.8" x2="902.1" y2="447.4" stroke="#333" stroke-width="1.4"/>
<line x1="841.3" y1="439.8" x2="841.3" y2="447.4" stroke="#333" stroke-width="1.4"/>
<line x1="780.4" y1="439.8" x2="780.4" y2="447.4" stroke="#333" stroke-width="1.4"/>
<line x1="719.5" y1="439.8" x2="719.5" y2="447.4" stroke="#333" stroke-width="1.4"/>
<line x1="1237" y1="439.8" x2="1237" y2="444.3" stroke="#333" stroke-width="1.4"/>
<line x1="1176.1" y1="439.8" x2="1176.1" y2="444.3" stroke="#333" stroke-width="1.4"/>
<line x1="1115.2" y1="439.8" x2="1115.2" y2="444.3" stroke="#333" stroke-width="1.4"/>
<line x1="1054.3" y1="439.8" x2="1054.3" y2="444.3" stroke="#333" stroke-width="1.4"/>
<line x1="993.5" y1="439.8" x2="993.5" y2="444.3" stroke="#333" stroke-width="1.4"/>
<line x1="932.6" y1="439.8" x2="932.6" y2="444.3" stroke="#333" stroke-width="1.4"/>
<line x1="871.7" y1="439.8" x2="871.7" y2="444.3" stroke="#333" stroke-width="1.4"/>
<line x1="810.8" y1="439.8" x2="810.8" y2="444.3" stroke="#333" stroke-width="1.4"/>
<line x1="749.9" y1="439.8" x2="749.9" y2="444.3" stroke="#333" stroke-width="1.4"/>
<text x="1206.5" y="466.4" font-family='"Liberation Sans", sans-serif' font-size="15.8" text-anchor="middle" fill="#1a1a1a">394</text>
<text x="1145.7" y="466.4" font-family='"Liberation Sans", sans-serif' font-size="15.8" text-anchor="middle" fill="#1a1a1a">396</text>
<text x="1084.8" y="466.4" font-family='"Liberation Sans", sans-serif' font-size="15.8" text-anchor="middle" fill="#1a1a1a">398</text>
<text x="1023.9" y="466.4" font-family='"Liberation Sans", sans-serif' font-size="15.8" text-anchor="middle" fill="#1a1a1a">400</text>
<text x="963" y="466.4" font-family='"Liberation Sans", sans-serif' font-size="15.8" text-anchor="middle" fill="#1a1a1a">402</text>
<text x="902.1" y="466.4" font-family='"Liberation Sans", sans-serif' font-size="15.8" text-anchor="middle" fill="#1a1a1a">404</text>
<text x="841.3" y="466.4" font-family='"Liberation Sans", sans-serif' font-size="15.8" text-anchor="middle" fill="#1a1a1a">406</text>
<text x="780.4" y="466.4" font-family='"Liberation Sans", sans-serif' font-size="15.8" text-anchor="middle" fill="#1a1a1a">408</text>
<text x="719.5" y="466.4" font-family='"Liberation Sans", sans-serif' font-size="15.8" text-anchor="middle" fill="#1a1a1a">410</text>
<text x="978.2" y="498.3" font-family='"Liberation Sans", sans-serif' font-size="19.1" text-anchor="middle" fill="#1a1a1a">Binding Energy(eV)</text>
<text x="683.6" y="239.5" font-family='"Liberation Sans", sans-serif' font-size="20" text-anchor="middle" fill="#1a1a1a" transform="rotate(-90 683.6 239.5)">Intensity(a.u.)</text>
<text x="678" y="40" font-family='"Liberation Serif", serif' font-size="45" text-anchor="start" fill="#000">B</text>
<text x="731.4" y="70.5" font-family='"Liberation Sans", sans-serif' font-size="19.7" text-anchor="start" fill="#1a1a1a">N1s</text>
<polyline points="940.0,386.3 940.8,386.3 941.5,386.2 942.2,386.1 943.0,386.1 943.8,386.0 944.5,385.9 945.2,385.8 946.0,385.6 946.8,385.5 947.5,385.3 948.2,385.2 949.0,385.0 949.8,384.8 950.5,384.6 951.2,384.4 952.0,384.2 952.8,383.9 953.5,383.6 954.2,383.3 955.0,383.0 955.8,382.7 956.5,382.3 957.2,382.0 958.0,381.6 958.8,381.1 959.5,380.7 960.2,380.2 961.0,379.7 961.8,379.2 962.5,378.7 963.2,378.1 964.0,377.5 964.8,376.9 965.5,376.2 966.2,375.6 967.0,374.9 967.8,374.1 968.5,373.4 969.2,372.6 970.0,371.8 970.8,371.0 971.5,370.2 972.2,369.3 973.0,368.4 973.8,367.5 974.5,366.6 975.2,365.6 976.0,364.7 976.8,363.7 977.5,362.7 978.2,361.7 979.0,360.7 979.8,359.7 980.5,358.7 981.2,357.7 982.0,356.6 982.8,355.6 983.5,354.6 984.2,353.6 985.0,352.6 985.8,351.7 986.5,350.7 987.2,349.8 988.0,348.8 988.8,348.0 989.5,347.1 990.2,346.3 991.0,345.5 991.8,344.7 992.5,344.0 993.2,343.3 994.0,342.6 994.8,342.0 995.5,341.5 996.2,341.0 997.0,340.5 997.8,340.1 998.5,339.8 999.2,339.5 1000.0,339.2 1000.8,339.0 1001.5,338.9 1002.2,338.8 1003.0,338.8 1003.8,338.9 1004.5,339.0 1005.2,339.2 1006.0,339.4 1006.8,339.7 1007.5,340.0 1008.2,340.4 1009.0,340.8 1009.8,341.3 1010.5,341.9 1011.2,342.5 1012.0,343.1 1012.8,343.8 1013.5,344.5 1014.2,345.3 1015.0,346.1 1015.8,347.0 1016.5,347.9 1017.2,348.8 1018.0,349.7 1018.8,350.7 1019.5,351.7 1020.2,352.7 1021.0,353.7 1021.8,354.7 1022.5,355.8 1023.2,356.8 1024.0,357.9 1024.8,359.0 1025.5,360.1 1026.2,361.1 1027.0,362.2 1027.8,363.3 1028.5,364.3 1029.2,365.4 1030.0,366.4 1030.8,367.4 1031.5,368.4 1032.2,369.4 1033.0,370.4 1033.8,371.3 1034.5,372.2 1035.2,373.2 1036.0,374.0 1036.8,374.9 1037.5,375.7 1038.2,376.6 1039.0,377.3 1039.8,378.1 1040.5,378.8 1041.2,379.5 1042.0,380.2 1042.8,380.9 1043.5,381.5 1044.2,382.1 1045.0,382.7 1045.8,383.3 1046.5,383.8 1047.2,384.3 1048.0,384.8 1048.8,385.2 1049.5,385.7 1050.2,386.1 1051.0,386.5 1051.8,386.9 1052.5,387.2 1053.2,387.5 1054.0,387.9 1054.8,388.2 1055.5,388.4 1056.2,388.7 1057.0,389.0 1057.8,389.2 1058.5,389.4 1059.2,389.6 1060.0,389.8 1060.8,390.0 1061.5,390.2 1062.2,390.3 1063.0,390.5 1063.8,390.6 1064.5,390.7 1065.2,390.9 1066.0,391.0 1066.8,391.1 1067.5,391.2 1068.2,391.3 1069.0,391.4 1069.8,391.5 1070.5,391.5 1071.2,391.6" fill="none" stroke="#009999" stroke-width="2" stroke-linejoin="round" stroke-linecap="round"/>
<polyline points="974.5,388.1 975.2,388.0 976.0,388.0 976.8,387.9 977.5,387.9 978.2,387.8 979.0,387.7 979.8,387.6 980.5,387.5 981.2,387.4 982.0,387.2 982.8,387.1 983.5,386.9 984.2,386.6 985.0,386.4 985.8,386.1 986.5,385.8 987.2,385.5 988.0,385.1 988.8,384.6 989.5,384.2 990.2,383.7 991.0,383.1 991.8,382.4 992.5,381.7 993.2,381.0 994.0,380.1 994.8,379.2 995.5,378.2 996.2,377.1 997.0,375.9 997.8,374.7 998.5,373.3 999.2,371.8 1000.0,370.2 1000.8,368.4 1001.5,366.6 1002.2,364.6 1003.0,362.4 1003.8,360.1 1004.5,357.7 1005.2,355.1 1006.0,352.3 1006.8,349.4 1007.5,346.2 1008.2,342.9 1009.0,339.5 1009.8,335.8 1010.5,332.0 1011.2,327.9 1012.0,323.7 1012.8,319.2 1013.5,314.6 1014.2,309.8 1015.0,304.8 1015.8,299.6 1016.5,294.2 1017.2,288.6 1018.0,282.9 1018.8,277.0 1019.5,270.9 1020.2,264.7 1021.0,258.4 1021.8,251.9 1022.5,245.3 1023.2,238.5 1024.0,231.7 1024.8,224.9 1025.5,217.9 1026.2,211.0 1027.0,204.0 1027.8,197.0 1028.5,190.0 1029.2,183.1 1030.0,176.2 1030.8,169.4 1031.5,162.8 1032.2,156.2 1033.0,149.8 1033.8,143.6 1034.5,137.5 1035.2,131.7 1036.0,126.1 1036.8,120.8 1037.5,115.8 1038.2,111.1 1039.0,106.6 1039.8,102.6 1040.5,98.8 1041.2,95.5 1042.0,92.5 1042.8,89.9 1043.5,87.7 1044.2,86.0 1045.0,84.6 1045.8,83.7 1046.5,83.2 1047.2,83.2 1048.0,83.6 1048.8,84.4 1049.5,85.7 1050.2,87.3 1051.0,89.4 1051.8,91.9 1052.5,94.8 1053.2,98.1 1054.0,101.8 1054.8,105.8 1055.5,110.2 1056.2,114.9 1057.0,119.9 1057.8,125.1 1058.5,130.7 1059.2,136.5 1060.0,142.5 1060.8,148.7 1061.5,155.1 1062.2,161.7 1063.0,168.4 1063.8,175.2 1064.5,182.1 1065.2,189.1 1066.0,196.1 1066.8,203.1 1067.5,210.2 1068.2,217.2 1069.0,224.2 1069.8,231.1 1070.5,238.0 1071.2,244.8 1072.0,251.5 1072.8,258.1 1073.5,264.6 1074.2,270.9 1075.0,277.1 1075.8,283.1 1076.5,288.9 1077.2,294.6 1078.0,300.1 1078.8,305.4 1079.5,310.6 1080.2,315.5 1081.0,320.2 1081.8,324.8 1082.5,329.1 1083.2,333.3 1084.0,337.3 1084.8,341.1 1085.5,344.7 1086.2,348.1 1087.0,351.3 1087.8,354.4 1088.5,357.2 1089.2,359.9 1090.0,362.5 1090.8,364.9 1091.5,367.2 1092.2,369.3 1093.0,371.2 1093.8,373.1 1094.5,374.8 1095.2,376.4 1096.0,377.8 1096.8,379.2 1097.5,380.5 1098.2,381.7 1099.0,382.7 1099.8,383.7 1100.5,384.7 1101.2,385.5 1102.0,386.3 1102.8,387.0 1103.5,387.6 1104.2,388.2 1105.0,388.8 1105.8,389.3 1106.5,389.7 1107.2,390.2 1108.0,390.5 1108.8,390.9 1109.5,391.2 1110.2,391.5 1111.0,391.7 1111.8,392.0 1112.5,392.2 1113.2,392.4 1114.0,392.5 1114.8,392.7 1115.5,392.8 1116.2,393.0 1117.0,393.1 1117.8,393.2 1118.5,393.3 1119.2,393.4" fill="none" stroke="#aa1111" stroke-width="2" stroke-linejoin="round" stroke-linecap="round"/>
<polyline points="1048.0,390.8 1048.8,390.8 1049.5,390.7 1050.2,390.7 1051.0,390.7 1051.8,390.6 1052.5,390.5 1053.2,390.5 1054.0,390.4 1054.8,390.3 1055.5,390.2 1056.2,390.1 1057.0,390.0 1057.8,389.9 1058.5,389.7 1059.2,389.6 1060.0,389.4 1060.8,389.2 1061.5,389.0 1062.2,388.8 1063.0,388.5 1063.8,388.3 1064.5,388.0 1065.2,387.7 1066.0,387.3 1066.8,387.0 1067.5,386.6 1068.2,386.2 1069.0,385.7 1069.8,385.3 1070.5,384.8 1071.2,384.2 1072.0,383.7 1072.8,383.1 1073.5,382.5 1074.2,381.8 1075.0,381.1 1075.8,380.4 1076.5,379.6 1077.2,378.8 1078.0,378.0 1078.8,377.1 1079.5,376.2 1080.2,375.3 1081.0,374.3 1081.8,373.3 1082.5,372.3 1083.2,371.2 1084.0,370.1 1084.8,369.0 1085.5,367.8 1086.2,366.7 1087.0,365.5 1087.8,364.3 1088.5,363.1 1089.2,361.8 1090.0,360.6 1090.8,359.3 1091.5,358.1 1092.2,356.8 1093.0,355.6 1093.8,354.3 1094.5,353.1 1095.2,351.8 1096.0,350.6 1096.8,349.5 1097.5,348.3 1098.2,347.2 1099.0,346.1 1099.8,345.0 1100.5,344.0 1101.2,343.0 1102.0,342.1 1102.8,341.3 1103.5,340.4 1104.2,339.7 1105.0,339.0 1105.8,338.4 1106.5,337.8 1107.2,337.3 1108.0,336.9 1108.8,336.6 1109.5,336.3 1110.2,336.1 1111.0,336.0 1111.8,336.0 1112.5,336.0 1113.2,336.1 1114.0,336.3 1114.8,336.6 1115.5,336.9 1116.2,337.4 1117.0,337.9 1117.8,338.4 1118.5,339.1 1119.2,339.8 1120.0,340.5 1120.8,341.4 1121.5,342.2 1122.2,343.2 1123.0,344.2 1123.8,345.2 1124.5,346.3 1125.2,347.4 1126.0,348.6 1126.8,349.8 1127.5,351.0 1128.2,352.2 1129.0,353.5 1129.8,354.8 1130.5,356.1 1131.2,357.4 1132.0,358.7 1132.8,360.0 1133.5,361.3 1134.2,362.6 1135.0,363.9 1135.8,365.2 1136.5,366.5 1137.2,367.8 1138.0,369.0 1138.8,370.2 1139.5,371.4 1140.2,372.6 1141.0,373.7 1141.8,374.8 1142.5,375.9 1143.2,376.9 1144.0,377.9 1144.8,378.9 1145.5,379.9 1146.2,380.8 1147.0,381.7 1147.8,382.5 1148.5,383.3 1149.2,384.1 1150.0,384.8 1150.8,385.5 1151.5,386.2 1152.2,386.9 1153.0,387.5 1153.8,388.0 1154.5,388.6 1155.2,389.1 1156.0,389.6 1156.8,390.0 1157.5,390.5 1158.2,390.9 1159.0,391.3 1159.8,391.6 1160.5,392.0 1161.2,392.3 1162.0,392.6 1162.8,392.8 1163.5,393.1 1164.2,393.3 1165.0,393.6 1165.8,393.8 1166.5,394.0 1167.2,394.1 1168.0,394.3 1168.8,394.5 1169.5,394.6" fill="none" stroke="#1010ff" stroke-width="2" stroke-linejoin="round" stroke-linecap="round"/>
<polyline points="940.0,387.2 1170.0,395.7" fill="none" stroke="#009900" stroke-width="2" stroke-linejoin="round" stroke-linecap="round"/>
<polyline points="719.5,385.0 720.7,381.4 721.9,378.5 723.1,378.5 724.3,380.2 725.5,381.1 726.7,381.5 727.9,378.1 729.1,379.7 730.3,383.1 731.5,381.4 732.7,381.3 733.9,379.3 735.1,380.5 736.3,382.8 737.5,381.6 738.7,379.8 739.9,381.5 741.1,380.1 742.3,376.0 743.5,378.4 744.7,380.1 745.9,375.7 747.1,375.4 748.3,378.2 749.5,377.5 750.7,375.6 751.9,378.0 753.1,382.6 754.3,382.1 755.5,379.0 756.7,380.2 757.9,383.1 759.1,381.8 760.3,381.5 761.5,384.1 762.7,382.7 763.9,379.2 765.1,380.3 766.3,382.3 767.5,383.8 768.7,380.9 769.9,377.6 771.1,378.5 772.3,376.4 773.5,378.3 774.7,382.7 775.9,381.1 777.1,382.8 778.3,385.8 779.5,384.4 780.7,383.6 781.9,384.3 783.1,381.0 784.3,380.4 785.5,384.2 786.7,379.6 787.9,379.2 789.1,382.1 790.3,383.0 791.5,382.7 792.7,381.2 793.9,382.7 795.1,381.1 796.3,381.7 797.5,383.2 798.7,383.0 799.9,382.2 801.1,383.4 802.3,385.6 803.5,383.2 804.7,383.3 805.9,386.1 807.1,388.4 808.3,383.0 809.5,381.3 810.7,385.2 811.9,383.4 813.1,380.6 814.3,383.2 815.5,382.8 816.7,381.5 817.9,386.4 819.1,382.3 820.3,379.3 821.5,379.9 822.7,380.9 823.9,386.4 825.1,389.8 826.3,383.6 827.5,378.6 828.7,383.4 829.9,387.6 831.1,387.1 832.3,382.6 833.5,382.4 834.7,383.9 835.9,382.9 837.1,381.6 838.3,382.8 839.5,384.8 840.7,383.9 841.9,382.9 843.1,380.7 844.3,380.2 845.5,385.0 846.7,385.6 847.9,380.6 849.1,383.6 850.3,387.4 851.5,388.9 852.7,388.0 853.9,383.2 855.1,380.3 856.3,383.8 857.5,391.5 858.7,387.4 859.9,381.3 861.1,384.1 862.3,383.8 863.5,382.1 864.7,383.1 865.9,384.0 867.1,386.8 868.3,386.5 869.5,386.2 870.7,385.4 871.9,384.3 873.1,381.1 874.3,377.7 875.5,383.4 876.7,385.1 877.9,384.7 879.1,386.9 880.3,388.4 881.5,388.9 882.7,388.4 883.9,386.7 885.1,383.4 886.3,382.3 887.5,382.7 888.7,382.0 889.9,381.9 891.1,384.0 892.3,385.5 893.5,385.1 894.7,381.0 895.9,381.5 897.1,385.7 898.3,387.9 899.5,388.7 900.7,385.4 901.9,383.0 903.1,388.1 904.3,391.0 905.5,390.7 906.7,393.4 907.9,388.4 909.1,385.1 910.3,387.6 911.5,388.0 912.7,388.2 913.9,387.6 915.1,386.9 916.3,383.7 917.5,383.1 918.7,384.6 919.9,385.2 921.1,385.8 922.3,386.8 923.5,389.3 924.7,388.7 925.9,387.8 927.1,387.4 928.3,385.9 929.5,385.4 930.7,385.3 931.9,386.3 933.1,387.2 934.3,387.5 935.5,384.8 936.7,385.3 937.9,386.2 939.1,382.9 940.3,383.8 941.5,383.9 942.7,384.6 943.9,384.3 945.1,381.4 946.3,380.5 947.5,384.7 948.7,385.9 949.9,380.5 951.1,380.8 952.3,379.6 953.5,380.9 954.7,380.1 955.9,377.8 957.1,379.3 958.3,376.3 959.5,375.2 960.7,377.0 961.9,376.3 963.1,374.5 964.3,374.0 965.5,372.8 966.7,370.9 967.9,369.4 969.1,368.5 970.3,366.3 971.5,365.1 972.7,364.2 973.9,360.6 975.1,360.0 976.3,361.4 977.5,360.4 978.7,356.2 979.9,354.1 981.1,352.3 982.3,349.5 983.5,348.2 984.7,343.7 985.9,341.7 987.1,341.0 988.3,337.8 989.5,335.0 990.7,331.7 991.9,329.8 993.1,329.9 994.3,330.1 995.5,326.5 996.7,323.1 997.9,320.0 999.1,313.8 1000.3,311.2 1001.5,310.8 1002.7,307.0 1003.9,303.7 1005.1,301.6 1006.3,296.9 1007.5,291.2 1008.7,288.2 1009.9,285.8 1011.1,281.6 1012.3,278.5 1013.5,276.1 1014.7,269.5 1015.9,262.6 1017.1,257.7 1018.3,250.9 1019.5,243.7 1020.7,234.7 1021.9,226.1 1023.1,220.0 1024.3,210.8 1025.5,198.3 1026.7,188.3 1027.9,180.6 1029.1,170.4 1030.3,158.3 1031.5,149.6 1032.7,138.9 1033.9,128.0 1035.1,119.8 1036.3,108.2 1037.5,100.2 1038.7,93.5 1039.9,83.9 1041.1,78.9 1042.3,75.7 1043.5,70.1 1044.7,68.1 1045.9,70.2 1047.1,72.4 1048.3,73.8 1049.5,75.2 1050.7,78.0 1051.9,80.8 1053.1,85.7 1054.3,91.5 1055.5,97.2 1056.7,104.9 1057.9,111.0 1059.1,117.5 1060.3,128.6 1061.5,138.4 1062.7,145.5 1063.9,154.8 1065.1,164.0 1066.3,173.2 1067.5,182.2 1068.7,191.3 1069.9,199.5 1071.1,209.8 1072.3,220.1 1073.5,225.9 1074.7,235.0 1075.9,244.9 1077.1,253.7 1078.3,261.1 1079.5,269.6 1080.7,282.9 1081.9,288.7 1083.1,292.2 1084.3,299.6 1085.5,305.3 1086.7,308.9 1087.9,312.2 1089.1,318.8 1090.3,323.5 1091.5,327.5 1092.7,329.0 1093.9,329.3 1095.1,334.9 1096.3,335.1 1097.5,331.7 1098.7,333.1 1099.9,334.4 1101.1,335.6 1102.3,336.0 1103.5,334.4 1104.7,334.7 1105.9,338.7 1107.1,340.2 1108.3,334.7 1109.5,333.7 1110.7,336.4 1111.9,338.1 1113.1,339.7 1114.3,342.1 1115.5,344.3 1116.7,344.2 1117.9,344.5 1119.1,344.5 1120.3,345.9 1121.5,348.7 1122.7,350.2 1123.9,349.8 1125.1,352.2 1126.3,354.3 1127.5,354.4 1128.7,355.0 1129.9,356.1 1131.1,358.1 1132.3,357.6 1133.5,361.5 1134.7,367.3 1135.9,368.0 1137.1,370.5 1138.3,373.2 1139.5,374.2 1140.7,372.6 1141.9,373.4 1143.1,378.1 1144.3,381.5 1145.5,384.2 1146.7,385.3 1147.9,383.1 1149.1,380.1 1150.3,383.0 1151.5,386.4 1152.7,387.6 1153.9,388.2 1155.1,388.1 1156.3,387.3 1157.5,388.2 1158.7,390.0 1159.9,390.5 1161.1,392.7 1162.3,392.2 1163.5,392.4 1164.7,392.9 1165.9,394.1 1167.1,395.3 1168.3,393.1 1169.5,391.2 1170.7,395.8 1171.9,396.9 1173.1,395.7 1174.3,396.8 1175.5,394.0 1176.7,391.9 1177.9,393.4 1179.1,395.4 1180.3,396.5 1181.5,393.7 1182.7,391.5 1183.9,393.8 1185.1,398.1 1186.3,393.8 1187.5,391.7 1188.7,395.2 1189.9,395.3 1191.1,395.5 1192.3,395.4 1193.5,399.4 1194.7,399.4 1195.9,397.3 1197.1,397.4 1198.3,395.2 1199.5,395.6 1200.7,396.7 1201.9,394.1 1203.1,394.5 1204.3,395.7 1205.5,397.3 1206.7,397.7 1207.9,395.3 1209.1,398.2 1210.3,401.2 1211.5,400.9 1212.7,400.2 1213.9,397.7 1215.1,395.8 1216.3,395.5 1217.5,398.2 1218.7,399.0 1219.9,394.4 1221.1,394.2 1222.3,394.4 1223.5,394.9 1224.7,395.3 1225.9,392.7 1227.1,395.3 1228.3,397.6 1229.5,394.3 1230.7,395.9 1231.9,403.3 1233.1,399.1 1234.3,398.5 1235.5,400.1 1236.7,395.7" fill="none" stroke="#000" stroke-width="2" stroke-linejoin="round" stroke-linecap="round"/>
<polyline points="719.5,380.0 720.5,380.0 721.5,380.0 722.5,380.1 723.5,380.1 724.5,380.1 725.5,380.1 726.5,380.2 727.5,380.2 728.5,380.2 729.5,380.2 730.5,380.2 731.5,380.3 732.5,380.3 733.5,380.3 734.5,380.3 735.5,380.4 736.5,380.4 737.5,380.4 738.5,380.4 739.5,380.5 740.5,380.5 741.5,380.5 742.5,380.5 743.5,380.6 744.5,380.6 745.5,380.6 746.5,380.6 747.5,380.7 748.5,380.7 749.5,380.7 750.5,380.7 751.5,380.8 752.5,380.8 753.5,380.8 754.5,380.8 755.5,380.9 756.5,380.9 757.5,380.9 758.5,381.0 759.5,381.0 760.5,381.0 761.5,381.0 762.5,381.1 763.5,381.1 764.5,381.1 765.5,381.2 766.5,381.2 767.5,381.2 768.5,381.3 769.5,381.3 770.5,381.3 771.5,381.4 772.5,381.4 773.5,381.4 774.5,381.4 775.5,381.5 776.5,381.5 777.5,381.5 778.5,381.6 779.5,381.6 780.5,381.7 781.5,381.7 782.5,381.7 783.5,381.8 784.5,381.8 785.5,381.8 786.5,381.9 787.5,381.9 788.5,381.9 789.5,382.0 790.5,382.0 791.5,382.0 792.5,382.1 793.5,382.1 794.5,382.1 795.5,382.2 796.5,382.2 797.5,382.2 798.5,382.3 799.5,382.3 800.5,382.3 801.5,382.3 802.5,382.4 803.5,382.4 804.5,382.4 805.5,382.5 806.5,382.5 807.5,382.5 808.5,382.6 809.5,382.6 810.5,382.6 811.5,382.6 812.5,382.7 813.5,382.7 814.5,382.7 815.5,382.8 816.5,382.8 817.5,382.8 818.5,382.9 819.5,382.9 820.5,382.9 821.5,382.9 822.5,383.0 823.5,383.0 824.5,383.0 825.5,383.1 826.5,383.1 827.5,383.1 828.5,383.1 829.5,383.2 830.5,383.2 831.5,383.2 832.5,383.3 833.5,383.3 834.5,383.3 835.5,383.4 836.5,383.4 837.5,383.4 838.5,383.4 839.5,383.5 840.5,383.5 841.5,383.5 842.5,383.6 843.5,383.6 844.5,383.6 845.5,383.7 846.5,383.7 847.5,383.7 848.5,383.8 849.5,383.8 850.5,383.8 851.5,383.8 852.5,383.9 853.5,383.9 854.5,383.9 855.5,384.0 856.5,384.0 857.5,384.0 858.5,384.1 859.5,384.1 860.5,384.1 861.5,384.2 862.5,384.2 863.5,384.2 864.5,384.3 865.5,384.3 866.5,384.3 867.5,384.4 868.5,384.4 869.5,384.4 870.5,384.5 871.5,384.5 872.5,384.5 873.5,384.6 874.5,384.6 875.5,384.6 876.5,384.7 877.5,384.7 878.5,384.7 879.5,384.8 880.5,384.8 881.5,384.9 882.5,384.9 883.5,384.9 884.5,385.0 885.5,385.0 886.5,385.0 887.5,385.1 888.5,385.1 889.5,385.1 890.5,385.2 891.5,385.2 892.5,385.2 893.5,385.3 894.5,385.3 895.5,385.3 896.5,385.4 897.5,385.4 898.5,385.4 899.5,385.5 900.5,385.5 901.5,385.6 902.5,385.6 903.5,385.6 904.5,385.7 905.5,385.7 906.5,385.8 907.5,385.8 908.5,385.9 909.5,385.9 910.5,386.0 911.5,386.0 912.5,386.1 913.5,386.1 914.5,386.2 915.5,386.2 916.5,386.2 917.5,386.3 918.5,386.3 919.5,386.4 920.5,386.4 921.5,386.4 922.5,386.5 923.5,386.5 924.5,386.5 925.5,386.6 926.5,386.6 927.5,386.6 928.5,386.6 929.5,386.6 930.5,386.6 931.5,386.6 932.5,386.5 933.5,386.4 934.5,386.4 935.5,386.3 936.5,386.1 937.5,386.0 938.5,385.8 939.5,385.7 940.5,385.5 941.5,385.3 942.5,385.1 943.5,384.9 944.5,384.7 945.5,384.5 946.5,384.2 947.5,383.8 948.5,383.4 949.5,382.9 950.5,382.4 951.5,381.8 952.5,381.2 953.5,380.6 954.5,379.9 955.5,379.3 956.5,378.6 957.5,377.9 958.5,377.2 959.5,376.5 960.5,375.8 961.5,375.0 962.5,374.2 963.5,373.3 964.5,372.5 965.5,371.5 966.5,370.6 967.5,369.6 968.5,368.6 969.5,367.5 970.5,366.4 971.5,365.3 972.5,364.1 973.5,362.9 974.5,361.6 975.5,360.3 976.5,358.9 977.5,357.5 978.5,356.0 979.5,354.6 980.5,353.0 981.5,351.5 982.5,349.8 983.5,348.2 984.5,346.5 985.5,344.8 986.5,343.0 987.5,341.2 988.5,339.3 989.5,337.4 990.5,335.4 991.5,333.4 992.5,331.3 993.5,329.2 994.5,327.0 995.5,324.7 996.5,322.4 997.5,320.1 998.5,317.7 999.5,315.2 1000.5,312.7 1001.5,310.2 1002.5,307.6 1003.5,304.9 1004.5,302.2 1005.5,299.5 1006.5,296.7 1007.5,293.8 1008.5,290.8 1009.5,287.6 1010.5,284.3 1011.5,280.8 1012.5,277.1 1013.5,273.2 1014.5,269.0 1015.5,264.4 1016.5,259.3 1017.5,253.8 1018.5,247.9 1019.5,241.8 1020.5,235.4 1021.5,228.6 1022.5,221.5 1023.5,214.0 1024.5,206.1 1025.5,198.1 1026.5,190.0 1027.5,181.9 1028.5,173.7 1029.5,165.3 1030.5,156.9 1031.5,148.4 1032.5,140.1 1033.5,132.1 1034.5,124.1 1035.5,116.0 1036.5,107.9 1037.5,100.0 1038.5,92.8 1039.5,86.6 1040.5,81.7 1041.5,77.9 1042.5,74.8 1043.5,72.5 1044.5,70.9 1045.5,70.4 1046.5,70.8 1047.5,71.7 1048.5,73.1 1049.5,74.9 1050.5,76.9 1051.5,79.3 1052.5,82.2 1053.5,86.1 1054.5,90.9 1055.5,96.6 1056.5,102.7 1057.5,109.0 1058.5,115.5 1059.5,122.1 1060.5,129.0 1061.5,136.3 1062.5,143.8 1063.5,151.6 1064.5,159.4 1065.5,167.2 1066.5,175.0 1067.5,182.6 1068.5,190.2 1069.5,197.9 1070.5,205.5 1071.5,213.2 1072.5,220.8 1073.5,228.2 1074.5,235.6 1075.5,242.7 1076.5,249.8 1077.5,256.7 1078.5,263.6 1079.5,270.5 1080.5,277.2 1081.5,283.7 1082.5,289.8 1083.5,295.5 1084.5,300.7 1085.5,305.5 1086.5,309.9 1087.5,314.0 1088.5,317.7 1089.5,321.0 1090.5,323.6 1091.5,325.8 1092.5,327.7 1093.5,329.3 1094.5,330.7 1095.5,332.0 1096.5,332.9 1097.5,333.6 1098.5,334.1 1099.5,334.4 1100.5,334.6 1101.5,334.8 1102.5,335.0 1103.5,335.1 1104.5,335.3 1105.5,335.5 1106.5,335.7 1107.5,336.0 1108.5,336.4 1109.5,336.9 1110.5,337.4 1111.5,338.1 1112.5,338.8 1113.5,339.5 1114.5,340.3 1115.5,341.2 1116.5,342.0 1117.5,342.9 1118.5,343.8 1119.5,344.8 1120.5,345.8 1121.5,346.8 1122.5,348.0 1123.5,349.1 1124.5,350.4 1125.5,351.6 1126.5,353.0 1127.5,354.3 1128.5,355.6 1129.5,357.0 1130.5,358.5 1131.5,360.1 1132.5,361.7 1133.5,363.4 1134.5,365.2 1135.5,366.9 1136.5,368.6 1137.5,370.3 1138.5,371.9 1139.5,373.3 1140.5,374.7 1141.5,375.9 1142.5,377.1 1143.5,378.2 1144.5,379.4 1145.5,380.4 1146.5,381.5 1147.5,382.4 1148.5,383.3 1149.5,384.2 1150.5,385.0 1151.5,385.7 1152.5,386.4 1153.5,387.0 1154.5,387.7 1155.5,388.3 1156.5,388.8 1157.5,389.4 1158.5,389.9 1159.5,390.4 1160.5,390.9 1161.5,391.3 1162.5,391.7 1163.5,392.0 1164.5,392.3 1165.5,392.5 1166.5,392.8 1167.5,393.0 1168.5,393.2 1169.5,393.4 1170.5,393.6 1171.5,393.7 1172.5,393.9 1173.5,394.0 1174.5,394.2 1175.5,394.3 1176.5,394.4 1177.5,394.6 1178.5,394.7 1179.5,394.8 1180.5,394.8 1181.5,394.9 1182.5,395.0 1183.5,395.1 1184.5,395.2 1185.5,395.2 1186.5,395.3 1187.5,395.4 1188.5,395.4 1189.5,395.5 1190.5,395.5 1191.5,395.6 1192.5,395.6 1193.5,395.7 1194.5,395.7 1195.5,395.8 1196.5,395.8 1197.5,395.9 1198.5,395.9 1199.5,396.0 1200.5,396.0 1201.5,396.1 1202.5,396.1 1203.5,396.2 1204.5,396.2 1205.5,396.3 1206.5,396.3 1207.5,396.4 1208.5,396.4 1209.5,396.5 1210.5,396.5 1211.5,396.6 1212.5,396.6 1213.5,396.7 1214.5,396.8 1215.5,396.8 1216.5,396.9 1217.5,396.9 1218.5,397.0 1219.5,397.0 1220.5,397.1 1221.5,397.1 1222.5,397.2 1223.5,397.3 1224.5,397.3 1225.5,397.4 1226.5,397.4 1227.5,397.5 1228.5,397.5 1229.5,397.6 1230.5,397.6 1231.5,397.7 1232.5,397.8 1233.5,397.8 1234.5,397.9 1235.5,397.9 1236.5,398.0" fill="none" stroke="#101080" stroke-width="2.2" stroke-linejoin="round" stroke-linecap="round"/>
<text x="943" y="115.2" font-family='"Liberation Sans", sans-serif' font-size="15.7" text-anchor="start" fill="#222">399.22eV</text>
<line x1="1043.5" y1="158" x2="1004.2" y2="125.1" stroke="#222" stroke-width="1"/>
<polygon points="996.5,118.7 1007.1,123.1 1002.8,128.4" fill="#222"/>
<text x="906" y="303.1" font-family='"Liberation Sans", sans-serif' font-size="15.7" text-anchor="start" fill="#222">400.67eV</text>
<line x1="984.3" y1="365.9" x2="951.3" y2="319.6" stroke="#222" stroke-width="1"/>
<polygon points="945.5,311.5 954.7,318.5 949.1,322.4" fill="#222"/>
<text x="1102.5" y="275.6" font-family='"Liberation Sans", sans-serif' font-size="15.7" text-anchor="start" fill="#222">397.11eV</text>
<line x1="1109.1" y1="365.9" x2="1124" y2="298.1" stroke="#222" stroke-width="1"/>
<polygon points="1126.1,288.3 1127.1,299.8 1120.4,298.3" fill="#222"/>
<rect x="59.5" y="547.5" width="543.9" height="401.70000000000005" fill="none" stroke="#2a2a2a" stroke-width="1.5"/>
<line x1="603.4" y1="949.2" x2="603.4" y2="956.2" stroke="#333" stroke-width="1.4"/>
<line x1="525.6" y1="949.2" x2="525.6" y2="956.2" stroke="#333" stroke-width="1.4"/>
<line x1="447.9" y1="949.2" x2="447.9" y2="956.2" stroke="#333" stroke-width="1.4"/>
<line x1="370.1" y1="949.2" x2="370.1" y2="956.2" stroke="#333" stroke-width="1.4"/>
<line x1="292.4" y1="949.2" x2="292.4" y2="956.2" stroke="#333" stroke-width="1.4"/>
<line x1="214.6" y1="949.2" x2="214.6" y2="956.2" stroke="#333" stroke-width="1.4"/>
<line x1="136.9" y1="949.2" x2="136.9" y2="956.2" stroke="#333" stroke-width="1.4"/>
<line x1="59.1" y1="949.2" x2="59.1" y2="956.2" stroke="#333" stroke-width="1.4"/>
<line x1="564.5" y1="949.2" x2="564.5" y2="953.7" stroke="#333" stroke-width="1.4"/>
<line x1="486.8" y1="949.2" x2="486.8" y2="953.7" stroke="#333" stroke-width="1.4"/>
<line x1="409" y1="949.2" x2="409" y2="953.7" stroke="#333" stroke-width="1.4"/>
<line x1="331.3" y1="949.2" x2="331.3" y2="953.7" stroke="#333" stroke-width="1.4"/>
<line x1="253.5" y1="949.2" x2="253.5" y2="953.7" stroke="#333" stroke-width="1.4"/>
<line x1="175.8" y1="949.2" x2="175.8" y2="953.7" stroke="#333" stroke-width="1.4"/>
<line x1="98" y1="949.2" x2="98" y2="953.7" stroke="#333" stroke-width="1.4"/>
<text x="603.4" y="976.3" font-family='"Liberation Sans", sans-serif' font-size="16.3" text-anchor="middle" fill="#1a1a1a">850</text>
<text x="525.6" y="976.3" font-family='"Liberation Sans", sans-serif' font-size="16.3" text-anchor="middle" fill="#1a1a1a">855</text>
<text x="447.9" y="976.3" font-family='"Liberation Sans", sans-serif' font-size="16.3" text-anchor="middle" fill="#1a1a1a">860</text>
<text x="370.1" y="976.3" font-family='"Liberation Sans", sans-serif' font-size="16.3" text-anchor="middle" fill="#1a1a1a">865</text>
<text x="292.4" y="976.3" font-family='"Liberation Sans", sans-serif' font-size="16.3" text-anchor="middle" fill="#1a1a1a">870</text>
<text x="214.6" y="976.3" font-family='"Liberation Sans", sans-serif' font-size="16.3" text-anchor="middle" fill="#1a1a1a">875</text>
<text x="136.9" y="976.3" font-family='"Liberation Sans", sans-serif' font-size="16.3" text-anchor="middle" fill="#1a1a1a">880</text>
<text x="59.1" y="976.3" font-family='"Liberation Sans", sans-serif' font-size="16.3" text-anchor="middle" fill="#1a1a1a">885</text>
<text x="331.5" y="1008.5" font-family='"Liberation Sans", sans-serif' font-size="20" text-anchor="middle" fill="#1a1a1a">Binding Energy (eV)</text>
<text x="21.7" y="755.4" font-family='"Liberation Sans", sans-serif' font-size="20" text-anchor="middle" fill="#1a1a1a" transform="rotate(-90 21.7 755.4)">Intensity (a.u.)</text>
<text x="22.7" y="562" font-family='"Liberation Serif", serif' font-size="45" text-anchor="start" fill="#000">C</text>
<text x="76.5" y="583" font-family='"Liberation Sans", sans-serif' font-size="19.5" text-anchor="start" fill="#1a1a1a">Ni 2p</text>
<polyline points="114.0,812.2 115.0,812.6 116.0,813.0 117.0,813.4 118.0,813.8 119.0,814.3 120.0,814.7 121.0,815.1 122.0,815.5 123.0,815.9 124.0,816.3 125.0,816.7 126.0,817.2 127.0,817.6 128.0,818.0 129.0,818.4 130.0,818.8 131.0,819.2 132.0,819.7 133.0,820.1 134.0,820.5 135.0,820.9 136.0,821.3 137.0,821.8 138.0,822.2 139.0,822.6 140.0,823.0 141.0,823.4 142.0,823.9 143.0,824.3 144.0,824.7 145.0,825.1 146.0,825.5 147.0,825.9 148.0,826.4 149.0,826.8 150.0,827.2 151.0,827.6 152.0,828.0 153.0,828.4 154.0,828.8 155.0,829.2 156.0,829.6 157.0,829.9 158.0,830.3 159.0,830.7 160.0,831.1 161.0,831.5 162.0,831.8 163.0,832.2 164.0,832.6 165.0,832.9 166.0,833.3 167.0,833.6 168.0,834.0 169.0,834.3 170.0,834.6 171.0,835.0 172.0,835.3 173.0,835.6 174.0,835.9 175.0,836.2 176.0,836.5 177.0,836.8 178.0,837.1 179.0,837.4 180.0,837.7 181.0,838.0 182.0,838.2 183.0,838.5 184.0,838.8 185.0,839.0 186.0,839.3 187.0,839.6 188.0,839.8 189.0,840.1 190.0,840.3 191.0,840.6 192.0,840.9 193.0,841.1 194.0,841.4 195.0,841.6 196.0,841.9 197.0,842.1 198.0,842.4 199.0,842.6 200.0,842.9 201.0,843.1 202.0,843.4 203.0,843.6 204.0,843.9 205.0,844.1 206.0,844.4 207.0,844.6 208.0,844.9 209.0,845.2 210.0,845.4 211.0,845.7 212.0,846.0 213.0,846.3 214.0,846.5 215.0,846.8 216.0,847.1 217.0,847.4 218.0,847.7 219.0,848.0 220.0,848.3 221.0,848.6 222.0,848.9 223.0,849.3 224.0,849.6 225.0,849.9 226.0,850.3 227.0,850.6 228.0,851.0 229.0,851.3 230.0,851.7 231.0,852.1 232.0,852.5 233.0,852.9 234.0,853.3 235.0,853.7 236.0,854.2 237.0,854.6 238.0,855.1 239.0,855.6 240.0,856.1 241.0,856.6 242.0,857.1 243.0,857.6 244.0,858.1 245.0,858.6 246.0,859.2 247.0,859.7 248.0,860.2 249.0,860.8 250.0,861.3 251.0,861.8 252.0,862.4 253.0,862.9 254.0,863.5 255.0,864.0 256.0,864.6 257.0,865.1 258.0,865.6 259.0,866.2 260.0,866.7 261.0,867.2 262.0,867.7 263.0,868.2 264.0,868.7 265.0,869.2 266.0,869.7 267.0,870.2" fill="none" stroke="#119999" stroke-width="2" stroke-linejoin="round" stroke-linecap="round"/>
<polyline points="250.0,861.5 251.0,862.0 252.0,862.6 253.0,863.1 254.0,863.7 255.0,864.2 256.0,864.8 257.0,865.3 258.0,865.8 259.0,866.4 260.0,866.9 261.0,867.4 262.0,867.9 263.0,868.4 264.0,868.9 265.0,869.4 266.0,869.9 267.0,870.4 268.0,870.9 269.0,871.3 270.0,871.8 271.0,872.3 272.0,872.8 273.0,873.3 274.0,873.7 275.0,874.2 276.0,874.7 277.0,875.2 278.0,875.7 279.0,876.1 280.0,876.6 281.0,877.1 282.0,877.5 283.0,878.0 284.0,878.5 285.0,879.0 286.0,879.4 287.0,879.9 288.0,880.3 289.0,880.8 290.0,881.3 291.0,881.7 292.0,882.2 293.0,882.6 294.0,883.1 295.0,883.5 296.0,884.0 297.0,884.4 298.0,884.9 299.0,885.3 300.0,885.7 301.0,886.2 302.0,886.6 303.0,887.0 304.0,887.5 305.0,887.9 306.0,888.4 307.0,888.8 308.0,889.3 309.0,889.7 310.0,890.2 311.0,890.6 312.0,891.1 313.0,891.5 314.0,892.0 315.0,892.4 316.0,892.9 317.0,893.3 318.0,893.8 319.0,894.2 320.0,894.6 321.0,895.1 322.0,895.5 323.0,895.9 324.0,896.3 325.0,896.7 326.0,897.1 327.0,897.5 328.0,897.8 329.0,898.2 330.0,898.5 331.0,898.9 332.0,899.2 333.0,899.5 334.0,899.8 335.0,900.1 336.0,900.4 337.0,900.6 338.0,900.9 339.0,901.1 340.0,901.4 341.0,901.6 342.0,901.9 343.0,902.1 344.0,902.4 345.0,902.6 346.0,902.9 347.0,903.1 348.0,903.4 349.0,903.6 350.0,903.8 351.0,904.1 352.0,904.3 353.0,904.5 354.0,904.7 355.0,905.0 356.0,905.2 357.0,905.4 358.0,905.6 359.0,905.8 360.0,906.0 361.0,906.2 362.0,906.4 363.0,906.5 364.0,906.7 365.0,906.9 366.0,907.0 367.0,907.2 368.0,907.3 369.0,907.4 370.0,907.6 371.0,907.7 372.0,907.8 373.0,907.9 374.0,908.0 375.0,908.1 376.0,908.1 377.0,908.2 378.0,908.2 379.0,908.3 380.0,908.3 381.0,908.3 382.0,908.3 383.0,908.4 384.0,908.4 385.0,908.4 386.0,908.4 387.0,908.4 388.0,908.5 389.0,908.5 390.0,908.5 391.0,908.5 392.0,908.5 393.0,908.5 394.0,908.6 395.0,908.6 396.0,908.6 397.0,908.6 398.0,908.6 399.0,908.6 400.0,908.6 401.0,908.6 402.0,908.7 403.0,908.7 404.0,908.7 405.0,908.7 406.0,908.7 407.0,908.7 408.0,908.7 409.0,908.7 410.0,908.7 411.0,908.7 412.0,908.7 413.0,908.7 414.0,908.7 415.0,908.7 416.0,908.7 417.0,908.6 418.0,908.6 419.0,908.6 420.0,908.6 421.0,908.5 422.0,908.5 423.0,908.4 424.0,908.4 425.0,908.3 426.0,908.3 427.0,908.2 428.0,908.1 429.0,908.1 430.0,908.0 431.0,907.9 432.0,907.8 433.0,907.8 434.0,907.7 435.0,907.6 436.0,907.5 437.0,907.4 438.0,907.3 439.0,907.3 440.0,907.2 441.0,907.1 442.0,907.0 443.0,906.9 444.0,906.8 445.0,906.7 446.0,906.6 447.0,906.5 448.0,906.4 449.0,906.3 450.0,906.3 451.0,906.2 452.0,906.1 453.0,906.0 454.0,905.9 455.0,905.8 456.0,905.7 457.0,905.6 458.0,905.5 459.0,905.4 460.0,905.2 461.0,905.1 462.0,905.0 463.0,904.8 464.0,904.7 465.0,904.5 466.0,904.4 467.0,904.2 468.0,904.0 469.0,903.9 470.0,903.7 471.0,903.6 472.0,903.4 473.0,903.3 474.0,903.1 475.0,903.0 476.0,902.8 477.0,902.7 478.0,902.6 479.0,902.4 480.0,902.3 481.0,902.2 482.0,902.1 483.0,902.0 484.0,901.9 485.0,901.9 486.0,901.8 487.0,901.8 488.0,901.7 489.0,901.7 490.0,901.7 491.0,901.7 492.0,901.7 493.0,901.8 494.0,901.8 495.0,901.9 496.0,901.9 497.0,902.0 498.0,902.1 499.0,902.2 500.0,902.3 501.0,902.4 502.0,902.5 503.0,902.7 504.0,902.8 505.0,903.0 506.0,903.1 507.0,903.2 508.0,903.4 509.0,903.6 510.0,903.7 511.0,903.9 512.0,904.0 513.0,904.2 514.0,904.3 515.0,904.5 516.0,904.7 517.0,904.8 518.0,905.0 519.0,905.2 520.0,905.4 521.0,905.6 522.0,905.8 523.0,906.0 524.0,906.2 525.0,906.5 526.0,906.7 527.0,907.0 528.0,907.2 529.0,907.5 530.0,907.8 531.0,908.1 532.0,908.4 533.0,908.7 534.0,909.0 535.0,909.4 536.0,909.7 537.0,910.1 538.0,910.4 539.0,910.9 540.0,911.3 541.0,911.8 542.0,912.3 543.0,912.9 544.0,913.5 545.0,914.1 546.0,914.7 547.0,915.3 548.0,916.0 549.0,916.6" fill="none" stroke="#2020a0" stroke-width="2" stroke-linejoin="round" stroke-linecap="round"/>
<polyline points="65.2,778.7 66.0,778.5 66.7,778.3 67.5,778.1 68.2,777.9 69.0,777.6 69.7,777.4 70.5,777.1 71.2,776.8 72.0,776.5 72.7,776.2 73.5,775.8 74.2,775.5 75.0,775.1 75.7,774.7 76.5,774.3 77.2,773.9 78.0,773.5 78.7,773.1 79.5,772.6 80.2,772.2 81.0,771.7 81.7,771.2 82.5,770.7 83.2,770.2 84.0,769.7 84.7,769.2 85.5,768.6 86.2,768.1 87.0,767.6 87.7,767.0 88.5,766.5 89.2,765.9 90.0,765.3 90.7,764.8 91.5,764.2 92.2,763.6 93.0,763.1 93.7,762.5 94.5,761.9 95.2,761.4 96.0,760.8 96.7,760.3 97.5,759.7 98.2,759.2 99.0,758.7 99.7,758.1 100.5,757.6 101.2,757.1 102.0,756.7 102.7,756.2 103.5,755.7 104.2,755.3 105.0,754.9 105.7,754.5 106.5,754.1 107.2,753.7 108.0,753.4 108.7,753.1 109.5,752.8 110.2,752.5 111.0,752.3 111.7,752.0 112.5,751.8 113.2,751.7 114.0,751.5 114.7,751.4 115.5,751.4 116.2,751.3 117.0,751.3 117.7,751.3 118.5,751.4 119.2,751.4 120.0,751.5 120.7,751.7 121.5,751.9 122.2,752.1 123.0,752.3 123.7,752.6 124.5,752.9 125.2,753.3 126.0,753.6 126.7,754.1 127.5,754.5 128.2,755.0 128.9,755.5 129.7,756.1 130.4,756.7 131.2,757.3 131.9,757.9 132.7,758.6 133.4,759.3 134.2,760.1 134.9,760.8 135.7,761.6 136.4,762.5 137.2,763.3 137.9,764.2 138.7,765.1 139.4,766.0 140.2,767.0 140.9,767.9 141.7,768.9 142.4,770.0 143.2,771.0 143.9,772.0 144.7,773.1 145.4,774.2 146.2,775.3 146.9,776.4 147.7,777.5 148.4,778.7 149.2,779.8 149.9,780.9 150.7,782.1 151.4,783.3 152.2,784.4 152.9,785.6 153.7,786.8 154.4,788.0 155.2,789.2 155.9,790.3 156.7,791.5 157.4,792.7 158.2,793.9 158.9,795.0 159.7,796.2 160.4,797.4 161.2,798.5 161.9,799.7 162.7,800.8 163.4,801.9 164.2,803.0 164.9,804.1 165.7,805.2 166.4,806.3 167.2,807.4 167.9,808.4 168.7,809.5 169.4,810.5 170.2,811.5 170.9,812.5 171.7,813.5 172.4,814.4 173.2,815.4 173.9,816.3 174.7,817.2 175.4,818.1 176.2,818.9 176.9,819.8 177.7,820.6 178.4,821.5 179.2,822.3 179.9,823.0 180.7,823.8 181.4,824.6 182.2,825.3 182.9,826.0 183.7,826.7 184.4,827.4 185.2,828.1 185.9,828.7 186.7,829.3 187.4,830.0 188.2,830.6 188.9,831.2 189.7,831.7 190.4,832.3 191.2,832.8 191.9,833.4 192.7,833.9 193.4,834.4 194.2,834.9 194.9,835.4 195.7,835.8 196.4,836.3 197.2,836.7 197.9,837.2 198.7,837.6 199.4,838.0 200.2,838.4 200.9,838.8 201.7,839.2 202.4,839.6 203.2,840.0 203.9,840.3 204.7,840.7 205.4,841.0 206.2,841.4 206.9,841.7 207.7,842.0 208.4,842.4 209.2,842.7 209.9,843.0 210.7,843.3 211.4,843.6 212.2,843.9 212.9,844.2 213.7,844.5 214.4,844.8 215.2,845.1 215.9,845.4 216.7,845.7 217.4,846.0 218.2,846.3 218.9,846.6 219.7,846.8 220.4,847.1 221.2,847.4 221.9,847.7 222.7,848.0 223.4,848.3 224.2,848.6 224.9,848.8 225.7,849.1 226.4,849.4" fill="none" stroke="#9933ff" stroke-width="2" stroke-linejoin="round" stroke-linecap="round"/>
<polyline points="65.2,790.3 66.0,790.6 66.7,790.9 67.5,791.3 68.2,791.6 69.0,791.9 69.7,792.2 70.5,792.5 71.2,792.9 72.0,793.2 72.7,793.5 73.5,793.8 74.2,794.1 75.0,794.5 75.7,794.8 76.5,795.1 77.2,795.4 78.0,795.7 78.7,796.1 79.5,796.4 80.2,796.7 81.0,797.0 81.7,797.3 82.5,797.6 83.2,797.9 84.0,798.3 84.7,798.6 85.5,798.9 86.2,799.2 87.0,799.5 87.7,799.8 88.5,800.1 89.2,800.4 90.0,800.7 90.7,801.0 91.5,801.4 92.2,801.7 93.0,802.0 93.7,802.3 94.5,802.6 95.2,802.9 96.0,803.2 96.7,803.5 97.5,803.8 98.2,804.1 99.0,804.4 99.7,804.7 100.5,805.0 101.2,805.3 102.0,805.6 102.7,805.9 103.5,806.2 104.2,806.5 105.0,806.8 105.7,807.1 106.5,807.4 107.2,807.6 108.0,807.9 108.7,808.2 109.5,808.5 110.2,808.8 111.0,809.1 111.7,809.4 112.5,809.6 113.2,809.9 114.0,810.2 114.7,810.5 115.5,810.8 116.2,811.0 117.0,811.3 117.7,811.6 118.5,811.8 119.2,812.1 120.0,812.4 120.7,812.6 121.5,812.9 122.2,813.1 123.0,813.4 123.7,813.6 124.5,813.8 125.2,814.1 126.0,814.3 126.7,814.5 127.5,814.7 128.2,814.9 128.9,815.1 129.7,815.3 130.4,815.4 131.2,815.6 131.9,815.7 132.7,815.8 133.4,815.9 134.2,816.0 134.9,816.0 135.7,816.0 136.4,816.0 137.2,816.0 137.9,815.9 138.7,815.8 139.4,815.7 140.2,815.5 140.9,815.2 141.7,814.9 142.4,814.6 143.2,814.2 143.9,813.7 144.7,813.2 145.4,812.6 146.2,812.0 146.9,811.3 147.7,810.5 148.4,809.7 149.2,808.8 149.9,807.8 150.7,806.8 151.4,805.7 152.2,804.5 152.9,803.2 153.7,801.9 154.4,800.6 155.2,799.2 155.9,797.7 156.7,796.2 157.4,794.7 158.2,793.2 158.9,791.6 159.7,790.0 160.4,788.5 161.2,786.9 161.9,785.4 162.7,783.9 163.4,782.5 164.2,781.1 164.9,779.8 165.7,778.6 166.4,777.5 167.2,776.6 167.9,775.8 168.7,775.1 169.4,774.7 170.2,774.4 170.9,774.2 171.7,774.3 172.4,774.6 173.2,775.0 173.9,775.7 174.7,776.5 175.4,777.5 176.2,778.6 176.9,779.9 177.7,781.4 178.4,783.0 179.2,784.7 179.9,786.4 180.7,788.3 181.4,790.2 182.2,792.2 182.9,794.2 183.7,796.3 184.4,798.3 185.2,800.4 185.9,802.4 186.7,804.5 187.4,806.5 188.2,808.4 188.9,810.4 189.7,812.2 190.4,814.1 191.2,815.9 191.9,817.6 192.7,819.2 193.4,820.8 194.2,822.3 194.9,823.8 195.7,825.2 196.4,826.5 197.2,827.8 197.9,828.9 198.7,830.1 199.4,831.1 200.2,832.1 200.9,833.1 201.7,834.0 202.4,834.8 203.2,835.6 203.9,836.3 204.7,837.0 205.4,837.7 206.2,838.3 206.9,838.9 207.7,839.4 208.4,839.9 209.2,840.4 209.9,840.9 210.7,841.3 211.4,841.7 212.2,842.1 212.9,842.5 213.7,842.9 214.4,843.3 215.2,843.6 215.9,844.0 216.7,844.3 217.4,844.6 218.2,844.9 218.9,845.2 219.7,845.6 220.4,845.9 221.2,846.2 221.9,846.5 222.7,846.8 223.4,847.1 224.2,847.4 224.9,847.7 225.7,848.0 226.4,848.3 227.2,848.6 227.9,848.9 228.7,849.2 229.4,849.5 230.2,849.8 230.9,850.1 231.7,850.5 232.4,850.8 233.2,851.1 233.9,851.5 234.7,851.8 235.4,852.2 236.2,852.6 236.9,852.9 237.7,853.3 238.4,853.7 239.2,854.1 239.9,854.4 240.7,854.8 241.4,855.2 242.2,855.6 242.9,856.0 243.7,856.4 244.4,856.8 245.2,857.3 245.9,857.7 246.7,858.1 247.4,858.5 248.2,858.9 248.9,859.3 249.7,859.8 250.4,860.2 251.2,860.6 251.9,861.0 252.7,861.4 253.4,861.9 254.2,862.3 254.9,862.7 255.7,863.1 256.4,863.5 257.2,863.9 257.9,864.4 258.7,864.8 259.4,865.2 260.2,865.6 260.9,866.0 261.7,866.4 262.4,866.8 263.2,867.1 263.9,867.5 264.7,867.9 265.4,868.3 266.2,868.7 266.9,869.0 267.7,869.4 268.4,869.8 269.2,870.1 269.9,870.5 270.7,870.9 271.4,871.2 272.2,871.6 272.9,872.0 273.7,872.3 274.4,872.7 275.2,873.1 275.9,873.4 276.7,873.8 277.4,874.2 278.2,874.5 278.9,874.9 279.7,875.2 280.4,875.6 281.2,876.0" fill="none" stroke="#b8661e" stroke-width="2" stroke-linejoin="round" stroke-linecap="round"/>
<polyline points="133.6,819.3 134.3,819.6 135.1,819.9 135.8,820.2 136.6,820.6 137.3,820.9 138.1,821.2 138.8,821.5 139.6,821.8 140.3,822.1 141.1,822.4 141.8,822.7 142.6,823.0 143.3,823.3 144.1,823.6 144.8,823.9 145.6,824.2 146.3,824.5 147.1,824.8 147.8,825.0 148.6,825.3 149.3,825.6 150.1,825.9 150.8,826.2 151.6,826.5 152.3,826.8 153.1,827.0 153.8,827.3 154.6,827.6 155.3,827.8 156.1,828.1 156.8,828.4 157.6,828.6 158.3,828.9 159.1,829.1 159.8,829.3 160.6,829.6 161.3,829.8 162.1,830.0 162.8,830.2 163.6,830.4 164.3,830.6 165.1,830.7 165.8,830.9 166.6,831.0 167.3,831.1 168.1,831.2 168.8,831.3 169.6,831.3 170.3,831.3 171.1,831.2 171.8,831.1 172.6,831.0 173.3,830.8 174.1,830.6 174.8,830.3 175.6,829.9 176.3,829.5 177.1,829.0 177.8,828.4 178.6,827.7 179.3,827.0 180.1,826.1 180.8,825.2 181.6,824.1 182.3,823.0 183.1,821.8 183.8,820.5 184.6,819.1 185.3,817.6 186.1,816.0 186.8,814.4 187.6,812.7 188.3,810.9 189.1,809.1 189.8,807.3 190.6,805.5 191.3,803.7 192.1,801.9 192.8,800.1 193.6,798.4 194.3,796.8 195.1,795.3 195.8,793.9 196.6,792.7 197.3,791.7 198.1,790.8 198.8,790.2 199.6,789.7 200.3,789.6 201.1,789.6 201.8,789.9 202.6,790.5 203.3,791.3 204.1,792.3 204.8,793.6 205.6,795.0 206.3,796.6 207.1,798.3 207.8,800.2 208.6,802.2 209.3,804.3 210.1,806.4 210.8,808.6 211.6,810.9 212.3,813.1 213.1,815.3 213.8,817.5 214.6,819.7 215.3,821.8 216.1,823.8 216.8,825.8 217.6,827.7 218.3,829.5 219.1,831.3 219.8,832.9 220.6,834.5 221.3,836.0 222.1,837.4 222.8,838.7 223.6,839.9 224.3,841.0 225.1,842.1 225.8,843.1 226.6,844.0 227.3,844.8 228.1,845.6 228.8,846.4 229.6,847.1 230.3,847.7 231.1,848.4 231.8,848.9 232.6,849.5 233.3,850.0 234.1,850.6 234.8,851.1 235.6,851.5 236.3,852.0 237.1,852.5 237.8,852.9 238.6,853.4 239.3,853.8 240.1,854.3 240.8,854.7 241.6,855.1 242.3,855.6 243.1,856.0 243.8,856.4 244.6,856.9 245.3,857.3 246.1,857.7 246.8,858.1 247.6,858.6 248.3,859.0 249.1,859.4 249.8,859.9 250.6,860.3 251.3,860.7 252.1,861.1 252.8,861.6 253.6,862.0 254.3,862.4 255.1,862.8 255.8,863.3 256.6,863.7 257.4,864.1 258.1,864.5 258.9,864.9 259.6,865.3 260.4,865.7 261.1,866.1 261.9,866.5 262.6,866.9 263.4,867.3 264.1,867.7 264.9,868.1 265.6,868.5 266.4,868.8 267.1,869.2 267.9,869.6 268.6,869.9" fill="none" stroke="#9b1f9b" stroke-width="2" stroke-linejoin="round" stroke-linecap="round"/>
<polyline points="168.7,833.2 169.4,833.4 170.2,833.7 170.9,833.9 171.7,834.1 172.4,834.3 173.2,834.5 173.9,834.8 174.7,835.0 175.4,835.2 176.2,835.4 176.9,835.5 177.7,835.7 178.4,835.9 179.2,836.1 179.9,836.2 180.7,836.4 181.4,836.5 182.2,836.6 182.9,836.7 183.7,836.8 184.4,836.9 185.2,837.0 185.9,837.0 186.7,837.0 187.4,837.0 188.2,837.0 188.9,836.9 189.7,836.8 190.4,836.7 191.2,836.6 191.9,836.4 192.7,836.1 193.4,835.8 194.2,835.5 194.9,835.1 195.7,834.7 196.4,834.2 197.2,833.7 197.9,833.0 198.7,832.4 199.4,831.6 200.2,830.8 200.9,830.0 201.7,829.0 202.4,828.0 203.2,827.0 203.9,825.9 204.7,824.7 205.4,823.4 206.2,822.2 206.9,820.8 207.7,819.4 208.4,818.0 209.2,816.6 209.9,815.2 210.7,813.7 211.4,812.2 212.2,810.8 212.9,809.4 213.7,808.0 214.4,806.6 215.2,805.4 215.9,804.1 216.7,803.0 217.4,802.0 218.2,801.0 218.9,800.2 219.7,799.5 220.4,799.0 221.2,798.5 221.9,798.3 222.7,798.2 223.4,798.2 224.2,798.5 224.9,798.8 225.7,799.4 226.4,800.1 227.2,801.0 227.9,802.0 228.7,803.1 229.4,804.4 230.2,805.8 230.9,807.3 231.7,808.9 232.4,810.6 233.2,812.4 233.9,814.3 234.7,816.2 235.4,818.1 236.2,820.1 236.9,822.1 237.7,824.1 238.4,826.1 239.2,828.1 239.9,830.1 240.7,832.1 241.4,834.0 242.2,835.9 242.9,837.7 243.7,839.5 244.4,841.2 245.2,842.9 245.9,844.5 246.7,846.0 247.4,847.5 248.2,848.9 248.9,850.2 249.7,851.5 250.4,852.8 251.2,853.9 251.9,855.0 252.7,856.1 253.4,857.1 254.2,858.0 254.9,858.9 255.7,859.8 256.4,860.6 257.1,861.3 257.9,862.1 258.6,862.8 259.4,863.4 260.1,864.0 260.9,864.6 261.6,865.2 262.4,865.7 263.1,866.3 263.9,866.8 264.6,867.3 265.4,867.7 266.1,868.2 266.9,868.6 267.6,869.0 268.4,869.5 269.1,869.9 269.9,870.3 270.6,870.7 271.4,871.1 272.1,871.5 272.9,871.9 273.6,872.2 274.4,872.6 275.1,873.0 275.9,873.4 276.6,873.8 277.4,874.1 278.1,874.5 278.9,874.9" fill="none" stroke="#8b1a1a" stroke-width="2" stroke-linejoin="round" stroke-linecap="round"/>
<polyline points="261.0,864.5 261.8,864.7 262.5,864.9 263.2,865.2 264.0,865.4 264.8,865.5 265.5,865.7 266.2,865.9 267.0,866.0 267.8,866.1 268.5,866.3 269.2,866.4 270.0,866.5 270.8,866.5 271.5,866.6 272.2,866.7 273.0,866.7 273.8,866.7 274.5,866.7 275.2,866.7 276.0,866.7 276.8,866.6 277.5,866.5 278.2,866.4 279.0,866.3 279.8,866.2 280.5,866.0 281.2,865.9 282.0,865.7 282.8,865.4 283.5,865.2 284.2,864.9 285.0,864.6 285.8,864.3 286.5,864.0 287.2,863.6 288.0,863.2 288.8,862.8 289.5,862.3 290.2,861.8 291.0,861.3 291.8,860.8 292.5,860.2 293.2,859.6 294.0,859.0 294.8,858.3 295.5,857.6 296.2,856.9 297.0,856.2 297.8,855.4 298.5,854.6 299.2,853.8 300.0,852.9 300.8,852.1 301.5,851.1 302.2,850.2 303.0,849.2 303.8,848.3 304.5,847.3 305.2,846.2 306.0,845.2 306.8,844.1 307.5,843.1 308.2,842.0 309.0,840.8 309.8,839.7 310.5,838.5 311.2,837.4 312.0,836.2 312.8,835.0 313.5,833.8 314.2,832.6 315.0,831.4 315.8,830.1 316.5,828.9 317.2,827.6 318.0,826.4 318.8,825.1 319.5,823.9 320.2,822.6 321.0,821.4 321.8,820.2 322.5,818.9 323.2,817.7 324.0,816.5 324.8,815.3 325.5,814.1 326.2,812.9 327.0,811.7 327.8,810.6 328.5,809.5 329.2,808.4 330.0,807.3 330.8,806.2 331.5,805.2 332.2,804.2 333.0,803.3 333.8,802.3 334.5,801.5 335.2,800.6 336.0,799.8 336.8,799.0 337.5,798.2 338.2,797.6 339.0,796.9 339.8,796.3 340.5,795.8 341.2,795.3 342.0,794.9 342.8,794.5 343.5,794.2 344.2,794.0 345.0,793.8 345.8,793.7 346.5,793.6 347.2,793.6 348.0,793.6 348.8,793.7 349.5,793.9 350.2,794.1 351.0,794.4 351.8,794.8 352.5,795.2 353.2,795.7 354.0,796.2 354.8,796.8 355.5,797.4 356.2,798.1 357.0,798.9 357.8,799.7 358.5,800.6 359.2,801.5 360.0,802.4 360.8,803.4 361.5,804.5 362.2,805.6 363.0,806.7 363.8,807.9 364.5,809.2 365.2,810.4 366.0,811.7 366.8,813.1 367.5,814.4 368.2,815.8 369.0,817.3 369.8,818.7 370.5,820.2 371.2,821.7 372.0,823.2 372.8,824.7 373.5,826.3 374.2,827.9 375.0,829.4 375.8,831.0 376.5,832.6 377.2,834.2 378.0,835.8 378.8,837.4 379.5,839.0 380.2,840.6 381.0,842.2 381.8,843.8 382.5,845.4 383.2,847.0 384.0,848.5 384.8,850.1 385.5,851.7 386.2,853.2 387.0,854.8 387.8,856.3 388.5,857.8 389.2,859.3 390.0,860.8 390.8,862.2 391.5,863.7 392.2,865.1 393.0,866.5 393.8,867.9 394.5,869.2 395.2,870.5 396.0,871.8 396.8,873.1 397.5,874.4 398.2,875.6 399.0,876.8 399.8,877.9 400.5,879.1 401.2,880.2 402.0,881.3 402.8,882.3 403.5,883.4 404.2,884.4 405.0,885.3 405.8,886.3 406.5,887.2 407.2,888.1 408.0,889.0 408.8,889.8 409.5,890.6 410.2,891.4 411.0,892.1 411.8,892.9 412.5,893.6 413.2,894.2 414.0,894.9 414.8,895.5 415.5,896.1 416.2,896.7 417.0,897.2 417.8,897.7 418.5,898.2 419.2,898.7 420.0,899.1 420.8,899.6 421.5,900.0 422.2,900.3 423.0,900.7 423.8,901.0 424.5,901.4 425.2,901.7 426.0,902.0 426.8,902.2 427.5,902.5 428.2,902.7 429.0,902.9 429.8,903.1 430.5,903.3 431.2,903.5 432.0,903.7 432.8,903.8 433.5,903.9 434.2,904.1 435.0,904.2 435.8,904.3 436.5,904.4 437.2,904.5 438.0,904.5 438.8,904.6 439.5,904.7 440.2,904.7 441.0,904.7 441.8,904.8 442.5,904.8 443.2,904.8 444.0,904.9 444.8,904.9 445.5,904.9 446.2,904.9 447.0,904.9 447.8,904.9 448.5,904.8 449.2,904.8 450.0,904.8 450.8,904.8 451.5,904.8 452.2,904.7 453.0,904.7 453.8,904.7" fill="none" stroke="#999933" stroke-width="2" stroke-linejoin="round" stroke-linecap="round"/>
<polyline points="317.5,891.5 318.2,891.8 319.0,892.1 319.8,892.4 320.5,892.7 321.2,893.0 322.0,893.3 322.8,893.6 323.5,893.8 324.2,894.1 325.0,894.4 325.8,894.6 326.5,894.9 327.2,895.1 328.0,895.3 328.8,895.6 329.5,895.8 330.2,896.0 331.0,896.2 331.8,896.3 332.5,896.5 333.2,896.7 334.0,896.8 334.8,896.9 335.5,897.0 336.2,897.1 337.0,897.2 337.8,897.3 338.5,897.3 339.2,897.4 340.0,897.4 340.8,897.4 341.5,897.4 342.2,897.3 343.0,897.2 343.8,897.2 344.5,897.0 345.2,896.9 346.0,896.7 346.8,896.5 347.5,896.2 348.2,895.9 349.0,895.5 349.8,895.1 350.5,894.7 351.2,894.1 352.0,893.5 352.8,892.9 353.5,892.2 354.2,891.4 355.0,890.5 355.8,889.5 356.5,888.5 357.2,887.4 358.0,886.1 358.8,884.8 359.5,883.4 360.2,881.9 361.0,880.3 361.8,878.6 362.5,876.8 363.2,874.9 364.0,872.9 364.8,870.9 365.5,868.7 366.2,866.5 367.0,864.1 367.8,861.7 368.5,859.3 369.2,856.8 370.0,854.2 370.8,851.6 371.5,848.9 372.2,846.3 373.0,843.6 373.8,841.0 374.5,838.4 375.2,835.8 376.0,833.2 376.8,830.8 377.5,828.4 378.2,826.1 379.0,823.9 379.8,821.9 380.5,820.0 381.2,818.3 382.0,816.8 382.8,815.5 383.5,814.4 384.2,813.5 385.0,812.9 385.8,812.5 386.5,812.3 387.2,812.4 388.0,812.8 388.8,813.4 389.5,814.2 390.2,815.3 391.0,816.6 391.8,818.1 392.5,819.8 393.2,821.6 394.0,823.6 394.8,825.8 395.5,828.1 396.2,830.5 397.0,833.0 397.8,835.6 398.5,838.2 399.2,840.9 400.0,843.6 400.8,846.4 401.5,849.1 402.2,851.9 403.0,854.6 403.8,857.2 404.5,859.9 405.2,862.5 406.0,865.0 406.8,867.4 407.5,869.8 408.2,872.1 409.0,874.4 409.8,876.5 410.5,878.5 411.2,880.5 412.0,882.4 412.8,884.1 413.5,885.8 414.2,887.4 415.0,888.8 415.8,890.2 416.5,891.5 417.2,892.7 418.0,893.9 418.8,894.9 419.5,895.9 420.2,896.7 421.0,897.6 421.8,898.3 422.5,899.0 423.2,899.6 424.0,900.2 424.8,900.7 425.5,901.1 426.2,901.5 427.0,901.9 427.8,902.2 428.5,902.5 429.2,902.8 430.0,903.0 430.8,903.2 431.5,903.4 432.2,903.6 433.0,903.7 433.8,903.8 434.5,903.9 435.2,904.0 436.0,904.1 436.8,904.1 437.5,904.2 438.2,904.2 439.0,904.2 439.8,904.2 440.5,904.3 441.2,904.3 442.0,904.3 442.8,904.3 443.5,904.2 444.2,904.2 445.0,904.2 445.8,904.2 446.5,904.2 447.2,904.1 448.0,904.1 448.8,904.1 449.5,904.0 450.2,904.0 451.0,904.0 451.8,903.9 452.5,903.9 453.2,903.9 454.0,903.8 454.8,903.8 455.5,903.7" fill="none" stroke="#11a0a0" stroke-width="2" stroke-linejoin="round" stroke-linecap="round"/>
<polyline points="347.7,901.3 348.4,901.4 349.2,901.6 349.9,901.7 350.7,901.9 351.4,902.0 352.2,902.2 352.9,902.3 353.7,902.4 354.4,902.6 355.2,902.7 355.9,902.8 356.7,902.9 357.4,903.0 358.2,903.2 358.9,903.3 359.7,903.4 360.4,903.5 361.2,903.5 361.9,903.6 362.7,903.7 363.4,903.8 364.2,903.8 364.9,903.9 365.7,903.9 366.4,903.9 367.2,904.0 367.9,904.0 368.7,904.0 369.4,903.9 370.2,903.9 370.9,903.8 371.7,903.8 372.4,903.7 373.2,903.5 373.9,903.4 374.7,903.2 375.4,903.0 376.2,902.7 376.9,902.4 377.7,902.1 378.4,901.7 379.2,901.2 379.9,900.7 380.7,900.2 381.4,899.5 382.2,898.8 382.9,898.0 383.7,897.2 384.4,896.2 385.2,895.1 385.9,894.0 386.7,892.7 387.4,891.4 388.2,889.9 388.9,888.2 389.7,886.5 390.4,884.6 391.2,882.6 391.9,880.4 392.7,878.1 393.4,875.6 394.2,873.0 394.9,870.3 395.7,867.4 396.4,864.4 397.2,861.2 397.9,858.0 398.7,854.6 399.4,851.1 400.2,847.6 400.9,843.9 401.7,840.2 402.4,836.5 403.2,832.8 403.9,829.1 404.7,825.4 405.4,821.8 406.2,818.2 406.9,814.8 407.7,811.5 408.4,808.3 409.2,805.4 409.9,802.7 410.7,800.2 411.4,798.0 412.2,796.2 412.9,794.6 413.7,793.4 414.4,792.6 415.2,792.2 415.9,792.1 416.7,792.4 417.4,793.1 418.2,794.1 418.9,795.5 419.7,797.3 420.4,799.3 421.2,801.6 421.9,804.2 422.7,807.1 423.4,810.1 424.2,813.3 424.9,816.7 425.7,820.2 426.4,823.7 427.2,827.4 427.9,831.0 428.7,834.7 429.4,838.4 430.2,842.0 430.9,845.6 431.7,849.2 432.4,852.6 433.2,856.0 433.9,859.2 434.7,862.4 435.4,865.4 436.2,868.2 436.9,871.0 437.7,873.6 438.4,876.0 439.2,878.3 439.9,880.5 440.7,882.5 441.4,884.4 442.2,886.1 442.9,887.8 443.7,889.2 444.4,890.6 445.2,891.8 445.9,893.0 446.7,894.0 447.4,895.0 448.2,895.8 448.9,896.6 449.7,897.2 450.4,897.8 451.2,898.4 451.9,898.9 452.7,899.3 453.4,899.7 454.2,900.0 454.9,900.3 455.7,900.5 456.4,900.7 457.2,900.9 457.9,901.0 458.7,901.2 459.4,901.3 460.2,901.3 460.9,901.4 461.7,901.4 462.4,901.4 463.2,901.4 463.9,901.4 464.7,901.4 465.4,901.4 466.2,901.3 466.9,901.3 467.7,901.2 468.4,901.2 469.2,901.1 469.9,901.0 470.7,901.0 471.4,900.9 472.2,900.8 472.9,900.8 473.7,900.7 474.4,900.6 475.2,900.6 475.9,900.5 476.7,900.4 477.4,900.4 478.2,900.3 478.9,900.2 479.7,900.2 480.4,900.1 481.2,900.1 481.9,900.0 482.7,900.0 483.4,900.0" fill="none" stroke="#2a7fc8" stroke-width="2" stroke-linejoin="round" stroke-linecap="round"/>
<polyline points="312.7,889.9 313.4,890.2 314.2,890.5 314.9,890.9 315.7,891.2 316.4,891.5 317.2,891.8 317.9,892.2 318.7,892.5 319.4,892.8 320.2,893.1 320.9,893.4 321.7,893.7 322.4,894.0 323.2,894.3 323.9,894.6 324.7,894.9 325.4,895.2 326.2,895.5 326.9,895.7 327.7,896.0 328.4,896.3 329.2,896.5 329.9,896.8 330.7,897.0 331.4,897.2 332.2,897.5 332.9,897.7 333.7,897.9 334.4,898.1 335.2,898.3 335.9,898.5 336.7,898.7 337.4,898.8 338.2,899.0 338.9,899.2 339.7,899.3 340.4,899.5 341.2,899.7 341.9,899.9 342.7,900.0 343.4,900.2 344.2,900.4 344.9,900.5 345.7,900.7 346.4,900.9 347.2,901.0 347.9,901.2 348.7,901.3 349.4,901.5 350.2,901.6 350.9,901.8 351.7,901.9 352.4,902.1 353.2,902.2 353.9,902.4 354.7,902.5 355.4,902.6 356.2,902.8 356.9,902.9 357.7,903.0 358.4,903.2 359.2,903.3 359.9,903.4 360.7,903.5 361.4,903.6 362.2,903.7 362.9,903.8 363.7,903.9 364.4,904.0 365.2,904.1 365.9,904.1 366.7,904.2 367.4,904.3 368.2,904.3 368.9,904.4 369.7,904.4 370.4,904.5 371.2,904.5 371.9,904.5 372.7,904.6 373.4,904.6 374.2,904.6 374.9,904.6 375.7,904.6 376.4,904.6 377.2,904.6 377.9,904.5 378.7,904.5 379.4,904.5 380.2,904.4 380.9,904.3 381.7,904.3 382.4,904.2 383.2,904.2 383.9,904.1 384.7,904.0 385.4,903.9 386.2,903.8 386.9,903.8 387.7,903.7 388.4,903.6 389.2,903.4 389.9,903.3 390.7,903.2 391.4,903.1 392.2,902.9 392.9,902.8 393.7,902.6 394.4,902.4 395.2,902.2 395.9,902.0 396.7,901.8 397.4,901.5 398.2,901.3 398.9,901.0 399.7,900.6 400.4,900.3 401.2,899.9 401.9,899.4 402.7,899.0 403.4,898.4 404.2,897.9 404.9,897.2 405.7,896.5 406.4,895.7 407.2,894.9 407.9,893.9 408.7,892.9 409.4,891.8 410.2,890.6 410.9,889.3 411.7,887.8 412.4,886.3 413.2,884.6 413.9,882.7 414.7,880.8 415.4,878.7 416.2,876.4 416.9,874.0 417.7,871.4 418.4,868.6 419.2,865.7 419.9,862.7 420.7,859.5 421.4,856.1 422.2,852.6 422.9,848.9 423.7,845.1 424.4,841.2 425.2,837.2 425.9,833.1 426.7,828.9 427.4,824.6 428.2,820.3 428.9,816.0 429.7,811.7 430.4,807.4 431.2,803.2 431.9,799.1 432.7,795.1 433.4,791.4 434.2,787.8 434.9,784.5 435.7,781.4 436.4,778.7 437.2,776.3 437.9,774.4 438.7,772.9 439.4,771.8 440.2,771.2 440.9,771.0 441.7,771.3 442.4,772.1 443.2,773.4 443.9,775.1 444.7,777.2 445.4,779.6 446.2,782.4 446.9,785.5 447.7,788.9 448.4,792.5 449.2,796.3 449.9,800.2 450.7,804.3 451.4,808.4 452.2,812.6 452.9,816.8 453.7,820.9 454.4,825.1 455.2,829.2 455.9,833.2 456.7,837.2 457.4,841.0 458.2,844.7 458.9,848.3 459.7,851.7 460.4,855.0 461.2,858.2 461.9,861.1 462.7,864.0 463.4,866.6 464.2,869.1 464.9,871.5 465.7,873.6 466.4,875.7 467.2,877.6 467.9,879.3 468.7,880.9 469.4,882.4 470.2,883.8 470.9,885.0 471.7,886.2 472.4,887.2 473.2,888.2 473.9,889.0 474.7,889.8 475.4,890.5 476.2,891.1 476.9,891.7 477.7,892.2 478.4,892.6 479.2,893.0 479.9,893.4 480.7,893.8 481.4,894.1 482.2,894.3 482.9,894.6 483.7,894.8 484.4,895.0 485.2,895.2 485.9,895.4 486.7,895.6 487.4,895.7 488.2,895.9 488.9,896.1 489.7,896.2 490.4,896.4 491.2,896.5 491.9,896.6 492.7,896.8 493.4,896.9 494.2,897.1 494.9,897.2 495.7,897.4 496.4,897.5 497.2,897.7 497.9,897.9 498.7,898.0 499.4,898.2 500.2,898.3 500.9,898.5 501.7,898.7 502.4,898.8 503.2,899.0 503.9,899.2 504.7,899.3 505.4,899.5 506.2,899.7 506.9,899.8 507.7,900.0 508.4,900.2 509.2,900.3 509.9,900.5 510.7,900.7 511.4,900.8 512.2,901.0 513.0,901.2 513.7,901.3 514.5,901.5 515.2,901.6 516.0,901.8 516.7,902.0 517.5,902.1 518.2,902.3 519.0,902.5 519.7,902.7 520.5,902.8 521.2,903.0 522.0,903.2 522.7,903.4 523.5,903.6 524.2,903.8 525.0,904.0 525.7,904.2 526.5,904.4 527.2,904.7 528.0,904.9 528.7,905.1 529.5,905.4 530.2,905.6 531.0,905.8 531.7,906.1 532.5,906.3 533.2,906.6 534.0,906.9 534.7,907.1 535.5,907.4 536.2,907.7 537.0,908.0 537.7,908.3 538.5,908.6 539.2,908.9 540.0,909.3 540.7,909.7 541.5,910.1 542.2,910.5 543.0,910.9 543.7,911.4 544.5,911.8 545.2,912.3 546.0,912.8 546.7,913.3 547.5,913.8 548.2,914.3 549.0,914.8" fill="none" stroke="#1a1a8c" stroke-width="2" stroke-linejoin="round" stroke-linecap="round"/>
<polyline points="342.2,900.7 342.9,900.9 343.7,901.0 344.4,901.2 345.2,901.4 345.9,901.6 346.7,901.7 347.4,901.9 348.2,902.1 348.9,902.3 349.7,902.4 350.4,902.6 351.2,902.8 351.9,902.9 352.7,903.1 353.4,903.3 354.2,903.4 354.9,903.6 355.7,903.7 356.4,903.9 357.2,904.0 357.9,904.2 358.7,904.3 359.4,904.5 360.2,904.6 360.9,904.7 361.7,904.9 362.4,905.0 363.2,905.1 363.9,905.2 364.7,905.3 365.4,905.4 366.2,905.5 366.9,905.6 367.7,905.7 368.4,905.8 369.2,905.9 369.9,906.0 370.7,906.1 371.4,906.1 372.2,906.2 372.9,906.3 373.7,906.3 374.4,906.4 375.2,906.4 375.9,906.5 376.7,906.5 377.4,906.5 378.2,906.5 378.9,906.5 379.7,906.6 380.4,906.6 381.2,906.6 381.9,906.5 382.7,906.5 383.4,906.5 384.2,906.5 384.9,906.5 385.7,906.5 386.4,906.5 387.2,906.5 387.9,906.5 388.7,906.5 389.4,906.5 390.2,906.5 390.9,906.5 391.7,906.5 392.4,906.4 393.2,906.4 393.9,906.4 394.7,906.4 395.4,906.4 396.2,906.4 396.9,906.3 397.7,906.3 398.4,906.3 399.2,906.3 399.9,906.2 400.7,906.2 401.4,906.2 402.2,906.1 402.9,906.1 403.7,906.1 404.4,906.0 405.2,906.0 405.9,906.0 406.7,905.9 407.4,905.9 408.2,905.8 408.9,905.8 409.7,905.7 410.4,905.7 411.2,905.6 411.9,905.5 412.7,905.4 413.4,905.4 414.2,905.3 414.9,905.2 415.7,905.1 416.4,905.0 417.2,904.8 417.9,904.7 418.7,904.5 419.4,904.4 420.2,904.2 420.9,904.0 421.7,903.7 422.4,903.5 423.2,903.2 423.9,902.9 424.7,902.5 425.4,902.1 426.2,901.7 426.9,901.2 427.7,900.7 428.4,900.0 429.2,899.4 429.9,898.6 430.7,897.8 431.4,896.9 432.2,895.8 432.9,894.7 433.7,893.5 434.4,892.1 435.2,890.6 435.9,888.9 436.7,887.1 437.4,885.1 438.2,882.9 438.9,880.6 439.7,878.1 440.4,875.4 441.2,872.4 441.9,869.3 442.7,866.0 443.4,862.5 444.2,858.7 444.9,854.8 445.7,850.7 446.4,846.4 447.2,841.9 447.9,837.2 448.7,832.5 449.4,827.6 450.2,822.6 450.9,817.5 451.7,812.4 452.4,807.3 453.2,802.2 453.9,797.1 454.7,792.2 455.4,787.4 456.2,782.7 456.9,778.2 457.7,774.1 458.4,770.2 459.2,766.6 459.9,763.5 460.7,760.7 461.4,758.4 462.2,756.6 462.9,755.4 463.7,754.6 464.4,754.4 465.2,754.8 465.9,755.6 466.7,757.0 467.4,758.9 468.2,761.3 468.9,764.1 469.7,767.3 470.4,770.9 471.2,774.8 471.9,778.9 472.7,783.3 473.4,787.9 474.2,792.7 474.9,797.5 475.7,802.4 476.4,807.4 477.2,812.3 477.9,817.3 478.7,822.1 479.4,826.9 480.2,831.5 480.9,836.1 481.7,840.5 482.4,844.7 483.2,848.7 483.9,852.6 484.7,856.3 485.4,859.8 486.2,863.1 486.9,866.1 487.7,869.0 488.4,871.7 489.2,874.2 489.9,876.6 490.7,878.7 491.4,880.7 492.2,882.5 492.9,884.2 493.7,885.8 494.4,887.2 495.2,888.4 495.9,889.6 496.7,890.7 497.4,891.6 498.2,892.5 498.9,893.3 499.7,894.0 500.4,894.7 501.2,895.3 501.9,895.8 502.7,896.3 503.4,896.8 504.2,897.2 504.9,897.6 505.7,898.0 506.4,898.3 507.2,898.7 507.9,899.0 508.7,899.2 509.4,899.5 510.2,899.8 510.9,900.0 511.7,900.2 512.5,900.5 513.2,900.7 514.0,900.9 514.7,901.1 515.5,901.3 516.2,901.5 517.0,901.7 517.7,901.9 518.5,902.1 519.2,902.3 520.0,902.5 520.7,902.7 521.5,902.9 522.2,903.1 523.0,903.3 523.7,903.5 524.5,903.7 525.2,904.0 526.0,904.2 526.7,904.4 527.5,904.7 528.2,904.9 529.0,905.1 529.7,905.4 530.5,905.6 531.2,905.9 532.0,906.1 532.7,906.4 533.5,906.7 534.2,906.9 535.0,907.2 535.7,907.5 536.5,907.8 537.2,908.1 538.0,908.4 538.7,908.7 539.5,909.1 540.2,909.5 541.0,909.8 541.7,910.3 542.5,910.7 543.2,911.1 544.0,911.6 544.7,912.0 545.5,912.5 546.2,913.0 547.0,913.5 547.7,914.0 548.5,914.5 549.2,915.0" fill="none" stroke="#119911" stroke-width="2" stroke-linejoin="round" stroke-linecap="round"/>
<polyline points="348.8,902.0 349.6,902.2 350.3,902.3 351.1,902.5 351.8,902.7 352.6,902.8 353.3,903.0 354.1,903.2 354.8,903.3 355.6,903.5 356.3,903.6 357.1,903.8 357.8,903.9 358.6,904.0 359.3,904.2 360.1,904.3 360.8,904.4 361.6,904.6 362.3,904.7 363.1,904.8 363.8,904.9 364.6,905.1 365.3,905.2 366.1,905.3 366.8,905.4 367.6,905.5 368.3,905.6 369.1,905.6 369.8,905.7 370.6,905.8 371.3,905.9 372.1,905.9 372.8,906.0 373.6,906.1 374.3,906.1 375.1,906.2 375.8,906.2 376.6,906.2 377.3,906.3 378.1,906.3 378.8,906.3 379.6,906.3 380.3,906.3 381.1,906.3 381.8,906.3 382.6,906.3 383.3,906.3 384.1,906.3 384.8,906.3 385.6,906.3 386.3,906.3 387.1,906.3 387.8,906.3 388.6,906.3 389.3,906.3 390.1,906.3 390.8,906.2 391.6,906.2 392.3,906.2 393.1,906.2 393.8,906.2 394.6,906.2 395.3,906.2 396.1,906.2 396.8,906.2 397.6,906.1 398.3,906.1 399.1,906.1 399.8,906.1 400.6,906.1 401.3,906.0 402.1,906.0 402.8,906.0 403.6,906.0 404.3,905.9 405.1,905.9 405.8,905.9 406.6,905.9 407.3,905.8 408.1,905.8 408.8,905.8 409.6,905.7 410.3,905.7 411.1,905.7 411.8,905.6 412.6,905.6 413.3,905.5 414.1,905.5 414.8,905.4 415.6,905.4 416.3,905.3 417.1,905.3 417.8,905.2 418.6,905.1 419.3,905.0 420.1,905.0 420.8,904.9 421.6,904.8 422.3,904.7 423.1,904.6 423.8,904.5 424.6,904.4 425.3,904.3 426.1,904.2 426.8,904.0 427.6,903.9 428.3,903.8 429.1,903.7 429.8,903.5 430.6,903.4 431.3,903.2 432.1,903.1 432.8,902.9 433.6,902.8 434.3,902.6 435.1,902.4 435.8,902.2 436.6,902.0 437.3,901.8 438.1,901.6 438.8,901.4 439.6,901.2 440.3,900.9 441.1,900.7 441.8,900.4 442.6,900.1 443.3,899.8 444.1,899.5 444.8,899.1 445.6,898.8 446.3,898.4 447.1,897.9 447.8,897.5 448.6,897.0 449.3,896.5 450.1,895.9 450.8,895.3 451.6,894.6 452.3,893.9 453.1,893.1 453.8,892.2 454.6,891.3 455.3,890.3 456.1,889.2 456.8,888.1 457.6,886.8 458.3,885.4 459.1,883.9 459.8,882.3 460.6,880.6 461.3,878.8 462.1,876.8 462.8,874.7 463.6,872.5 464.3,870.1 465.1,867.6 465.8,864.9 466.6,862.1 467.3,859.1 468.1,856.0 468.8,852.7 469.6,849.2 470.3,845.7 471.1,841.9 471.8,838.1 472.6,834.1 473.3,830.0 474.1,825.7 474.8,821.4 475.6,817.0 476.3,812.5 477.1,807.9 477.8,803.3 478.6,798.6 479.3,794.0 480.1,789.3 480.8,784.7 481.6,780.2 482.3,775.8 483.1,771.4 483.8,767.2 484.6,763.2 485.3,759.4 486.1,755.9 486.8,752.6 487.6,749.6 488.3,747.0 489.1,744.7 489.8,742.8 490.6,741.3 491.3,740.2 492.1,739.5 492.8,739.4 493.6,739.6 494.3,740.3 495.1,741.4 495.8,743.0 496.6,744.9 497.3,747.3 498.1,750.0 498.8,753.0 499.6,756.3 500.3,759.9 501.1,763.8 501.8,767.8 502.6,772.0 503.3,776.4 504.1,780.9 504.8,785.4 505.6,790.1 506.3,794.7 507.1,799.4 507.8,804.1 508.6,808.7 509.3,813.3 510.1,817.8 510.8,822.2 511.6,826.6 512.3,830.8 513.0,834.9 513.8,838.9 514.5,842.8 515.3,846.5 516.0,850.1 516.8,853.6 517.5,856.8 518.3,860.0 519.0,863.0 519.8,865.8 520.5,868.6 521.3,871.1 522.0,873.6 522.8,875.8 523.5,878.0 524.3,880.0 525.0,882.0 525.8,883.8 526.5,885.4 527.3,887.0 528.0,888.5 528.8,889.9 529.5,891.2 530.3,892.4 531.0,893.6 531.8,894.7 532.5,895.7 533.3,896.6 534.0,897.5 534.8,898.4 535.5,899.2 536.3,900.0 537.0,900.7 537.8,901.4 538.5,902.1 539.3,902.8 540.0,903.4 540.8,904.1 541.5,904.8 542.3,905.4 543.0,906.1 543.8,906.7 544.5,907.4 545.3,908.0 546.0,908.7 546.8,909.3 547.5,909.9 548.3,910.6 549.0,911.2" fill="none" stroke="#ff33ff" stroke-width="2.2" stroke-linejoin="round" stroke-linecap="round"/>
<polyline points="65.2,790.7 66.2,791.1 67.2,791.6 68.2,792.0 69.2,792.5 70.2,792.9 71.2,793.3 72.2,793.8 73.2,794.2 74.2,794.6 75.2,795.1 76.2,795.5 77.2,795.9 78.2,796.4 79.2,796.8 80.2,797.2 81.2,797.7 82.2,798.1 83.2,798.5 84.2,799.0 85.2,799.4 86.2,799.8 87.2,800.3 88.2,800.7 89.2,801.1 90.2,801.6 91.2,802.0 92.2,802.4 93.2,802.8 94.2,803.3 95.2,803.7 96.2,804.1 97.2,804.5 98.2,805.0 99.2,805.4 100.2,805.8 101.2,806.2 102.2,806.6 103.2,807.1 104.2,807.5 105.2,807.9 106.2,808.3 107.2,808.7 108.2,809.2 109.2,809.6 110.2,810.0 111.2,810.4 112.2,810.8 113.2,811.3 114.2,811.7 115.2,812.1 116.2,812.5 117.2,812.9 118.2,813.3 119.2,813.7 120.2,814.2 121.2,814.6 122.2,815.0 123.2,815.4 124.2,815.8 125.2,816.2 126.2,816.6 127.2,817.0 128.2,817.5 129.2,817.9 130.2,818.3 131.2,818.7 132.2,819.1 133.2,819.6 134.2,820.0 135.2,820.4 136.2,820.8 137.2,821.3 138.2,821.7 139.2,822.1 140.2,822.5 141.2,822.9 142.2,823.3 143.2,823.8 144.2,824.2 145.2,824.6 146.2,825.0 147.2,825.4 148.2,825.8 149.2,826.2 150.2,826.6 151.2,827.0 152.2,827.5 153.2,827.9 154.2,828.2 155.2,828.6 156.2,829.0 157.2,829.4 158.2,829.8 159.2,830.2 160.2,830.6 161.2,830.9 162.2,831.3 163.2,831.7 164.2,832.0 165.2,832.4 166.2,832.7 167.2,833.1 168.2,833.4 169.2,833.8 170.2,834.1 171.2,834.4 172.2,834.7 173.2,835.1 174.2,835.4 175.2,835.7 176.2,836.0 177.2,836.3 178.2,836.6 179.2,836.9 180.2,837.1 181.2,837.4 182.2,837.7 183.2,838.0 184.2,838.2 185.2,838.5 186.2,838.8 187.2,839.0 188.2,839.3 189.2,839.5 190.2,839.8 191.2,840.1 192.2,840.3 193.2,840.6 194.2,840.8 195.2,841.1 196.2,841.3 197.2,841.6 198.2,841.8 199.2,842.1 200.2,842.3 201.2,842.6 202.2,842.8 203.2,843.1 204.2,843.3 205.2,843.6 206.2,843.8 207.2,844.1 208.2,844.4 209.2,844.6 210.2,844.9 211.2,845.2 212.2,845.4 213.2,845.7 214.2,846.0 215.2,846.3 216.2,846.6 217.2,846.9 218.2,847.2 219.2,847.5 220.2,847.8 221.2,848.1 222.2,848.4 223.2,848.7 224.2,849.1 225.2,849.4 226.2,849.7 227.2,850.1 228.2,850.4 229.2,850.8 230.2,851.2 231.2,851.6 232.2,852.0 233.2,852.4 234.2,852.8 235.2,853.2 236.2,853.7 237.2,854.1 238.2,854.6 239.2,855.1 240.2,855.6 241.2,856.1 242.2,856.6 243.2,857.1 244.2,857.6 245.2,858.1 246.2,858.7 247.2,859.2 248.2,859.7 249.2,860.3 250.2,860.8 251.2,861.3 252.2,861.9 253.2,862.4 254.2,863.0 255.2,863.5 256.2,864.1 257.2,864.6 258.2,865.1 259.2,865.7 260.2,866.2 261.2,866.7 262.2,867.2 263.2,867.7 264.2,868.2 265.2,868.7 266.2,869.2 267.2,869.7 268.2,870.2 269.2,870.6 270.2,871.1 271.2,871.6 272.2,872.1 273.2,872.6 274.2,873.0 275.2,873.5 276.2,874.0 277.2,874.5 278.2,874.9 279.2,875.4 280.2,875.9 281.2,876.4 282.2,876.8 283.2,877.3 284.2,877.8 285.2,878.2 286.2,878.7 287.2,879.2 288.2,879.6 289.2,880.1 290.2,880.6 291.2,881.0 292.2,881.5 293.2,881.9 294.2,882.4 295.2,882.8 296.2,883.3 297.2,883.7 298.2,884.2 299.2,884.6 300.2,885.0 301.2,885.5 302.2,885.9 303.2,886.3 304.2,886.8 305.2,887.2 306.2,887.7 307.2,888.1 308.2,888.6 309.2,889.0 310.2,889.5 311.2,889.9 312.2,890.4 313.2,890.8 314.2,891.3 315.2,891.7 316.2,892.2 317.2,892.6 318.2,893.1 319.2,893.5 320.2,893.9 321.2,894.3 322.2,894.8 323.2,895.2 324.2,895.6 325.2,896.0 326.2,896.4 327.2,896.7 328.2,897.1 329.2,897.5 330.2,897.8 331.2,898.1 332.2,898.5 333.2,898.8 334.2,899.1 335.2,899.4 336.2,899.6 337.2,899.9 338.2,900.1 339.2,900.4 340.2,900.6 341.2,900.9 342.2,901.1 343.2,901.4 344.2,901.6 345.2,901.9 346.2,902.1 347.2,902.4 348.2,902.6 349.2,902.8 350.2,903.1 351.2,903.3 352.2,903.5 353.2,903.8 354.2,904.0 355.2,904.2 356.2,904.4 357.2,904.6 358.2,904.8 359.2,905.0 360.2,905.2 361.2,905.4 362.2,905.6 363.2,905.8 364.2,905.9 365.2,906.1 366.2,906.2 367.2,906.4 368.2,906.5 369.2,906.7 370.2,906.8 371.2,906.9 372.2,907.0 373.2,907.1 374.2,907.2 375.2,907.3 376.2,907.3 377.2,907.4 378.2,907.4 379.2,907.5 380.2,907.5 381.2,907.5 382.2,907.5 383.2,907.6 384.2,907.6 385.2,907.6 386.2,907.6 387.2,907.6 388.2,907.7 389.2,907.7 390.2,907.7 391.2,907.7 392.2,907.7 393.2,907.7 394.2,907.8 395.2,907.8 396.2,907.8 397.2,907.8 398.2,907.8 399.2,907.8 400.2,907.8 401.2,907.8 402.2,907.9 403.2,907.9 404.2,907.9 405.2,907.9 406.2,907.9 407.2,907.9 408.2,907.9 409.2,907.9 410.2,907.9 411.2,907.9 412.2,907.9 413.2,907.9 414.2,907.9 415.2,907.9 416.2,907.9 417.2,907.8 418.2,907.8 419.2,907.8 420.2,907.7 421.2,907.7 422.2,907.7 423.2,907.6 424.2,907.6 425.2,907.5 426.2,907.4 427.2,907.4 428.2,907.3 429.2,907.2 430.2,907.2 431.2,907.1 432.2,907.0 433.2,906.9 434.2,906.9 435.2,906.8 436.2,906.7 437.2,906.6 438.2,906.5 439.2,906.4 440.2,906.3 441.2,906.3 442.2,906.2 443.2,906.1 444.2,906.0 445.2,905.9 446.2,905.8 447.2,905.7 448.2,905.6 449.2,905.5 450.2,905.4 451.2,905.3 452.2,905.3 453.2,905.2 454.2,905.1 455.2,905.0 456.2,904.9 457.2,904.8 458.2,904.7 459.2,904.5 460.2,904.4 461.2,904.3 462.2,904.1 463.2,904.0 464.2,903.8 465.2,903.7 466.2,903.5 467.2,903.4 468.2,903.2 469.2,903.1 470.2,902.9 471.2,902.7 472.2,902.6 473.2,902.4 474.2,902.3 475.2,902.1 476.2,902.0 477.2,901.9 478.2,901.7 479.2,901.6 480.2,901.5 481.2,901.4 482.2,901.3 483.2,901.2 484.2,901.1 485.2,901.1 486.2,901.0 487.2,901.0 488.2,900.9 489.2,900.9 490.2,900.9 491.2,900.9 492.2,900.9 493.2,901.0 494.2,901.0 495.2,901.1 496.2,901.2 497.2,901.2 498.2,901.3 499.2,901.4 500.2,901.5 501.2,901.6 502.2,901.8 503.2,901.9 504.2,902.0 505.2,902.2 506.2,902.3 507.2,902.5 508.2,902.6 509.2,902.8 510.2,902.9 511.2,903.1 512.2,903.3 513.2,903.4 514.2,903.6 515.2,903.7 516.2,903.9 517.2,904.1 518.2,904.2 519.2,904.4 520.2,904.6 521.2,904.8 522.2,905.0 523.2,905.3 524.2,905.5 525.2,905.7 526.2,906.0 527.2,906.2 528.2,906.5 529.2,906.8 530.2,907.1 531.2,907.4 532.2,907.7 533.2,908.0 534.2,908.3 535.2,908.6 536.2,909.0 537.2,909.3 538.2,909.7 539.2,910.1 540.2,910.6 541.2,911.1 542.2,911.6 543.2,912.2 544.2,912.8 545.2,913.4 546.2,914.0 547.2,914.6 548.2,915.3 549.2,915.9" fill="none" stroke="#b8661e" stroke-width="2.2" stroke-linejoin="round" stroke-linecap="round"/>
<polyline points="65.5,789.2 66.5,789.1 67.5,786.3 68.5,785.2 69.5,785.2 70.5,785.1 71.5,785.2 72.5,783.3 73.5,780.7 74.5,780.3 75.5,779.5 76.5,781.0 77.5,781.8 78.5,779.2 79.5,778.3 80.5,776.3 81.5,774.6 82.5,773.7 83.5,771.8 84.5,770.3 85.5,769.7 86.5,769.3 87.5,769.3 88.5,767.9 89.5,766.7 90.5,766.0 91.5,763.5 92.5,762.4 93.5,761.8 94.5,761.0 95.5,760.5 96.5,760.5 97.5,758.5 98.5,757.4 99.5,756.2 100.5,755.3 101.5,755.7 102.5,754.7 103.5,755.2 104.5,754.2 105.5,753.2 106.5,752.6 107.5,752.3 108.5,753.3 109.5,753.7 110.5,754.9 111.5,756.2 112.5,757.4 113.5,757.0 114.5,758.0 115.5,756.0 116.5,754.4 117.5,754.7 118.5,753.6 119.5,753.6 120.5,753.1 121.5,752.9 122.5,751.9 123.5,751.6 124.5,751.9 125.5,751.8 126.5,751.5 127.5,751.3 128.5,750.3 129.5,748.8 130.5,748.1 131.5,747.1 132.5,747.4 133.5,747.6 134.5,747.8 135.5,748.6 136.5,748.5 137.5,749.5 138.5,749.4 139.5,749.0 140.5,748.8 141.5,747.3 142.5,748.3 143.5,749.2 144.5,749.5 145.5,750.0 146.5,749.6 147.5,749.7 148.5,749.6 149.5,749.5 150.5,747.9 151.5,747.8 152.5,747.2 153.5,746.8 154.5,748.3 155.5,747.8 156.5,746.9 157.5,747.2 158.5,746.2 159.5,746.3 160.5,745.8 161.5,745.3 162.5,745.1 163.5,745.2 164.5,745.4 165.5,743.5 166.5,742.5 167.5,741.6 168.5,742.6 169.5,745.5 170.5,746.5 171.5,745.7 172.5,745.6 173.5,744.4 174.5,743.9 175.5,744.3 176.5,744.5 177.5,743.9 178.5,743.4 179.5,743.7 180.5,743.6 181.5,744.7 182.5,746.1 183.5,747.7 184.5,749.8 185.5,751.9 186.5,753.6 187.5,754.5 188.5,752.4 189.5,750.9 190.5,750.0 191.5,748.4 192.5,748.9 193.5,749.9 194.5,749.4 195.5,749.8 196.5,749.0 197.5,748.3 198.5,749.9 199.5,749.7 200.5,751.2 201.5,752.2 202.5,751.0 203.5,751.8 204.5,751.9 205.5,752.3 206.5,753.0 207.5,752.7 208.5,753.0 209.5,753.4 210.5,755.5 211.5,757.7 212.5,759.8 213.5,761.9 214.5,764.2 215.5,766.0 216.5,769.4 217.5,771.0 218.5,772.1 219.5,775.4 220.5,777.0 221.5,779.5 222.5,781.9 223.5,783.0 224.5,785.3 225.5,788.2 226.5,789.8 227.5,792.5 228.5,793.8 229.5,795.4 230.5,797.9 231.5,799.3 232.5,801.8 233.5,804.2 234.5,806.4 235.5,809.5 236.5,811.1 237.5,811.8 238.5,813.2 239.5,814.6 240.5,816.8 241.5,820.0 242.5,822.8 243.5,824.6 244.5,826.5 245.5,827.5 246.5,829.7 247.5,831.6 248.5,833.0 249.5,834.9 250.5,836.0 251.5,839.0 252.5,842.1 253.5,843.5 254.5,845.3 255.5,846.1 256.5,847.5 257.5,850.3 258.5,851.4 259.5,853.0 260.5,853.7 261.5,853.6 262.5,855.0 263.5,855.7 264.5,858.1 265.5,861.5 266.5,862.5 267.5,864.1 268.5,864.5 269.5,863.7 270.5,863.7 271.5,864.0 272.5,864.3 273.5,864.9 274.5,864.4 275.5,864.3 276.5,863.7 277.5,863.3 278.5,864.5 279.5,863.5 280.5,863.7 281.5,864.0 282.5,863.4 283.5,863.9 284.5,863.0 285.5,861.4 286.5,861.2 287.5,860.1 288.5,858.4 289.5,858.4 290.5,858.3 291.5,857.5 292.5,858.9 293.5,859.8 294.5,858.4 295.5,858.3 296.5,857.8 297.5,855.3 298.5,853.9 299.5,852.1 300.5,848.7 301.5,846.8 302.5,846.4 303.5,845.0 304.5,844.7 305.5,844.5 306.5,842.2 307.5,840.8 308.5,838.8 309.5,836.3 310.5,834.7 311.5,833.4 312.5,832.0 313.5,831.2 314.5,831.1 315.5,830.1 316.5,828.1 317.5,825.9 318.5,823.7 319.5,821.7 320.5,821.8 321.5,820.3 322.5,818.8 323.5,817.4 324.5,816.2 325.5,816.3 326.5,814.4 327.5,812.4 328.5,809.4 329.5,807.4 330.5,806.7 331.5,805.0 332.5,803.4 333.5,801.4 334.5,800.2 335.5,798.4 336.5,797.0 337.5,795.4 338.5,793.2 339.5,792.5 340.5,790.5 341.5,788.4 342.5,785.4 343.5,783.7 344.5,783.6 345.5,781.1 346.5,780.5 347.5,779.6 348.5,777.2 349.5,775.8 350.5,775.5 351.5,772.3 352.5,771.8 353.5,771.1 354.5,768.3 355.5,767.7 356.5,765.1 357.5,764.3 358.5,763.5 359.5,761.6 360.5,760.8 361.5,759.1 362.5,757.2 363.5,755.6 364.5,752.8 365.5,750.4 366.5,748.9 367.5,747.4 368.5,745.9 369.5,745.0 370.5,742.8 371.5,741.2 372.5,740.4 373.5,737.6 374.5,736.3 375.5,735.9 376.5,733.5 377.5,733.8 378.5,732.1 379.5,730.1 380.5,728.9 381.5,726.5 382.5,725.9 383.5,724.2 384.5,724.7 385.5,724.7 386.5,724.6 387.5,724.3 388.5,723.9 389.5,723.2 390.5,722.0 391.5,720.5 392.5,719.1 393.5,718.2 394.5,717.5 395.5,718.2 396.5,717.7 397.5,716.5 398.5,716.4 399.5,715.7 400.5,714.9 401.5,714.5 402.5,713.3 403.5,712.8 404.5,713.2 405.5,714.7 406.5,714.5 407.5,713.4 408.5,711.9 409.5,709.4 410.5,709.1 411.5,709.9 412.5,709.3 413.5,710.1 414.5,710.7 415.5,711.2 416.5,712.7 417.5,712.7 418.5,713.3 419.5,711.5 420.5,709.8 421.5,708.6 422.5,706.5 423.5,706.6 424.5,705.1 425.5,705.1 426.5,704.4 427.5,702.7 428.5,702.0 429.5,698.7 430.5,694.8 431.5,693.1 432.5,691.6 433.5,691.1 434.5,690.7 435.5,689.2 436.5,689.0 437.5,688.2 438.5,688.2 439.5,687.2 440.5,685.4 441.5,684.6 442.5,683.6 443.5,682.4 444.5,680.9 445.5,678.3 446.5,676.5 447.5,676.1 448.5,674.4 449.5,673.8 450.5,674.0 451.5,672.4 452.5,672.3 453.5,671.3 454.5,668.6 455.5,667.7 456.5,665.8 457.5,663.5 458.5,662.4 459.5,661.0 460.5,661.3 461.5,661.3 462.5,661.3 463.5,661.4 464.5,660.0 465.5,659.9 466.5,661.0 467.5,661.6 468.5,660.0 469.5,661.3 470.5,661.1 471.5,661.6 472.5,664.1 473.5,665.0 474.5,667.0 475.5,668.7 476.5,671.0 477.5,672.5 478.5,673.1 479.5,673.9 480.5,673.3 481.5,675.6 482.5,676.7 483.5,678.1 484.5,681.0 485.5,682.1 486.5,682.9 487.5,685.5 488.5,687.2 489.5,688.9 490.5,691.8 491.5,693.2 492.5,697.3 493.5,700.5 494.5,704.7 495.5,708.9 496.5,710.9 497.5,714.1 498.5,716.9 499.5,720.5 500.5,723.7 501.5,728.3 502.5,734.5 503.5,740.9 504.5,748.9 505.5,755.5 506.5,760.3 507.5,766.2 508.5,771.7 509.5,777.3 510.5,782.9 511.5,788.3 512.5,794.7 513.5,800.9 514.5,807.5 515.5,813.4 516.5,818.2 517.5,823.4 518.5,829.6 519.5,834.7 520.5,839.7 521.5,844.6 522.5,847.8 523.5,850.9 524.5,854.9 525.5,857.9 526.5,862.4 527.5,865.2 528.5,869.0 529.5,872.4 530.5,876.2 531.5,878.7 532.5,879.5 533.5,883.2 534.5,884.7 535.5,889.1 536.5,892.7 537.5,894.1 538.5,896.5 539.5,897.6 540.5,899.4 541.5,902.0 542.5,903.6 543.5,905.6 544.5,907.5 545.5,908.9 546.5,910.3 547.5,912.1 548.5,913.9 549.5,915.3 550.5,918.0 551.5,919.5 552.5,920.7 553.5,922.0 554.5,920.7 555.5,921.8 556.5,922.8 557.5,922.8 558.5,924.2 559.5,925.3 560.5,926.5 561.5,927.1 562.5,928.1 563.5,928.2 564.5,929.1 565.5,930.8 566.5,931.9 567.5,932.2 568.5,931.1 569.5,930.8 570.5,931.2 571.5,932.7 572.5,933.1 573.5,933.3 574.5,933.8 575.5,932.2 576.5,934.3 577.5,934.5 578.5,934.1 579.5,934.0 580.5,931.4 581.5,931.4 582.5,931.4 583.5,930.5 584.5,931.9 585.5,931.7 586.5,931.5 587.5,932.5 588.5,931.9 589.5,930.9 590.5,930.9 591.5,933.0 592.5,933.3 593.5,934.5 594.5,933.9 595.5,932.0 596.5,931.7 597.5,931.8 598.5,933.1 599.5,933.9 600.5,934.2 601.5,933.4 602.5,931.3" fill="none" stroke="#000" stroke-width="2" stroke-linejoin="round" stroke-linecap="round"/>
<polyline points="109.2,754.9 110.2,754.1 111.2,753.4 112.2,752.9 113.2,752.7 114.2,752.6 115.2,752.4 116.2,750.8 117.2,750.1 118.2,749.5 119.2,749.3 120.2,749.2 121.2,748.7 122.2,748.6 123.2,748.5 124.2,748.2 125.2,749.3 126.2,750.1 127.2,750.1 128.2,750.3 129.2,750.9 130.2,751.1 131.2,751.4 132.2,751.3 133.2,751.5 134.2,751.5 135.2,750.5 136.2,751.0 137.2,751.3 138.2,750.8 139.2,750.3 140.2,750.1 141.2,750.4 142.2,750.1 143.2,749.4 144.2,749.5 145.2,749.3 146.2,749.3 147.2,749.4 148.2,749.9 149.2,750.0 150.2,750.4 151.2,750.2 152.2,750.3 153.2,750.2 154.2,749.9 155.2,749.7 156.2,749.2 157.2,748.8 158.2,748.3 159.2,748.6 160.2,748.1 161.2,748.3 162.2,748.4 163.2,748.0 164.2,747.8 165.2,747.9 166.2,747.7 167.2,747.5 168.2,746.2 169.2,746.2 170.2,745.9 171.2,745.8 172.2,746.2 173.2,746.6 174.2,746.6 175.2,746.6 176.2,747.2 177.2,747.4 178.2,747.8 179.2,747.7 180.2,748.0 181.2,748.3 182.2,748.4 183.2,748.4 184.2,748.6 185.2,748.4 186.2,748.6 187.2,749.0 188.2,748.7 189.2,749.2 190.2,748.6 191.2,748.8 192.2,748.9 193.2,749.2 194.2,749.6 195.2,749.8 196.2,750.1 197.2,751.6 198.2,751.2 199.2,751.3 200.2,750.8 201.2,751.0 202.2,751.1 203.2,750.7 204.2,750.3 205.2,750.3 206.2,750.9 207.2,752.2 208.2,753.4 209.2,755.0 210.2,757.3 211.2,759.1 212.2,761.1 213.2,763.9 214.2,765.9 215.2,767.0 216.2,768.5 217.2,770.7 218.2,773.0 219.2,774.3 220.2,776.0 221.2,777.9 222.2,778.9 223.2,780.5 224.2,782.1 225.2,784.2 226.2,786.1 227.2,787.8 228.2,790.4 229.2,792.1 230.2,794.5 231.2,797.5 232.2,800.4 233.2,803.3 234.2,805.6 235.2,808.2 236.2,811.0 237.2,813.4 238.2,815.9 239.2,818.4 240.2,820.6 241.2,822.7 242.2,824.8 243.2,827.2 244.2,829.4 245.2,830.9 246.2,833.3 247.2,836.0 248.2,838.1 249.2,840.2 250.2,842.7 251.2,845.2 252.2,847.6 253.2,849.2 254.2,850.9 255.2,852.1 256.2,853.8 257.2,855.4 258.2,856.3 259.2,857.3 260.2,857.6 261.2,858.0 262.2,859.0 263.2,860.6 264.2,860.9 265.2,860.8 266.2,860.4 267.2,860.9 268.2,860.4 269.2,861.3 270.2,861.4 271.2,861.4 272.2,861.9 273.2,862.8 274.2,863.3 275.2,864.4 276.2,865.0 277.2,866.0 278.2,865.6 279.2,865.9 280.2,865.9 281.2,865.0 282.2,864.4 283.2,864.4 284.2,864.0 285.2,862.8 286.2,861.7 287.2,861.4 288.2,861.0 289.2,860.5 290.2,860.2 291.2,859.6 292.2,858.5 293.2,857.5 294.2,857.6 295.2,856.7 296.2,855.7 297.2,854.2 298.2,853.1 299.2,852.1 300.2,851.1 301.2,850.0 302.2,848.6 303.2,846.6 304.2,845.3 305.2,843.1 306.2,841.8 307.2,840.1 308.2,838.3 309.2,836.7 310.2,835.1 311.2,833.4 312.2,832.5 313.2,831.3 314.2,830.3 315.2,828.9 316.2,828.1 317.2,826.7 318.2,825.0 319.2,823.1 320.2,822.4 321.2,820.4 322.2,818.1 323.2,817.4 324.2,816.1 325.2,814.1 326.2,812.6 327.2,811.3 328.2,810.4 329.2,808.4 330.2,807.1 331.2,806.1 332.2,804.3 333.2,802.3 334.2,800.7 335.2,798.5 336.2,796.9 337.2,795.6 338.2,794.0 339.2,792.3 340.2,790.6 341.2,789.1 342.2,787.6 343.2,786.5 344.2,785.5 345.2,784.2 346.2,783.0 347.2,782.1 348.2,780.5 349.2,778.9 350.2,777.1 351.2,775.8 352.2,774.1 353.2,772.3 354.2,770.6 355.2,768.0 356.2,766.2 357.2,765.1 358.2,763.0 359.2,761.4 360.2,759.6 361.2,757.5 362.2,756.0 363.2,754.2 364.2,752.9 365.2,750.6 366.2,748.9 367.2,748.1 368.2,745.7 369.2,744.4 370.2,742.8 371.2,740.8 372.2,739.3 373.2,737.9 374.2,737.0 375.2,735.7 376.2,734.1 377.2,733.5 378.2,732.4 379.2,731.2 380.2,730.3 381.2,728.7 382.2,727.7 383.2,726.4 384.2,724.9 385.2,724.1 386.2,722.7 387.2,721.6 388.2,721.1 389.2,720.7 390.2,720.3 391.2,719.2 392.2,718.2 393.2,717.6 394.2,717.1 395.2,717.3 396.2,716.4 397.2,715.3 398.2,714.1 399.2,714.6 400.2,714.1 401.2,714.2 402.2,714.0 403.2,713.6 404.2,713.1 405.2,712.8 406.2,712.9 407.2,712.5 408.2,711.4 409.2,711.9 410.2,711.3 411.2,710.6 412.2,710.1 413.2,709.5 414.2,710.0 415.2,709.4 416.2,709.6 417.2,709.5 418.2,709.1 419.2,708.6 420.2,708.5 421.2,707.8 422.2,707.2 423.2,705.2 424.2,704.3 425.2,703.5 426.2,701.8 427.2,700.0 428.2,698.6 429.2,696.7 430.2,695.9 431.2,694.3 432.2,693.1 433.2,691.4 434.2,690.1 435.2,688.9 436.2,687.9 437.2,686.9 438.2,686.2 439.2,684.8 440.2,684.2 441.2,683.9 442.2,683.2 443.2,681.9 444.2,680.8 445.2,679.4 446.2,678.9 447.2,678.1 448.2,676.9 449.2,675.7 450.2,674.4 451.2,673.5 452.2,672.9 453.2,671.4 454.2,671.0 455.2,669.4 456.2,668.0 457.2,666.7 458.2,665.3 459.2,664.0 460.2,662.6 461.2,661.0 462.2,660.3 463.2,659.3 464.2,658.6 465.2,658.1 466.2,658.4 467.2,658.1 468.2,657.8 469.2,658.1 470.2,659.0 471.2,660.4 472.2,661.3 473.2,662.8 474.2,663.8 475.2,665.3 476.2,667.4 477.2,669.4 478.2,670.6 479.2,671.6 480.2,672.8 481.2,674.0 482.2,675.3 483.2,677.6 484.2,679.3 485.2,680.6 486.2,682.5 487.2,685.5 488.2,688.5 489.2,691.6 490.2,695.2 491.2,697.8 492.2,700.3 493.2,702.7 494.2,706.3 495.2,709.4 496.2,712.0 497.2,714.9 498.2,717.5 499.2,720.3 500.2,724.4 501.2,729.0 502.2,734.2 503.2,739.1 504.2,745.3 505.2,751.3 506.2,757.8 507.2,764.3 508.2,770.2 509.2,775.8 510.2,781.4 511.2,787.4 512.2,793.5 513.2,798.3 514.2,804.4 515.2,809.8 516.2,815.6 517.2,821.5 518.2,827.0 519.2,832.3 520.2,837.0 521.2,841.4 522.2,846.4 523.2,850.9 524.2,855.0 525.2,858.5 526.2,862.2 527.2,866.3 528.2,869.7 529.2,873.2 530.2,876.2 531.2,879.3 532.2,882.4 533.2,884.9 534.2,887.4 535.2,890.1 536.2,891.7 537.2,894.2 538.2,896.3 539.2,898.2 540.2,899.8 541.2,901.2 542.2,903.0 543.2,905.4 544.2,907.2 545.2,908.9 546.2,910.1 547.2,911.5 548.2,912.9 549.2,914.3" fill="none" stroke="#ff0000" stroke-width="2.4" stroke-linejoin="round" stroke-linecap="round"/>
<text x="63.5" y="737.5" font-family='"Liberation Sans", sans-serif' font-size="19.7" text-anchor="start" fill="#1a1a1a">Satellites</text>
<text x="170.5" y="723.9" font-family='"Liberation Sans", sans-serif' font-size="19.5" fill="#1a1a1a">Ni 2p<tspan font-size="11" dx="2" dy="7.8">1/2</tspan></text>
<text x="241.5" y="763.4" font-family='"Liberation Sans", sans-serif' font-size="19.5" fill="#1a1a1a">Ni<tspan font-size="11.5" dy="-8.5">3+</tspan></text>
<line x1="200.2" y1="806.5" x2="230.5" y2="776.3" stroke="#222" stroke-width="1"/>
<polygon points="237.6,769.2 232.2,779.4 227.4,774.6" fill="#222"/>
<text x="278.2" y="787.5" font-family='"Liberation Sans", sans-serif' font-size="19.5" fill="#1a1a1a">Ni<tspan font-size="11.5" dy="-8.5">2+</tspan></text>
<line x1="230.3" y1="829.3" x2="283.2" y2="800.8" stroke="#222" stroke-width="1"/>
<polygon points="292.0,796.1 283.9,804.3 280.7,798.3" fill="#222"/>
<text x="306" y="722.2" font-family='"Liberation Sans", sans-serif' font-size="19.7" text-anchor="start" fill="#1a1a1a">Satellites</text>
<text x="440.0" y="644.6" font-family='"Liberation Sans", sans-serif' font-size="19" fill="#1a1a1a">Ni 2p<tspan font-size="11.5" dx="1.5" dy="8.4">3/2</tspan></text>
<text x="363.8" y="792.3" font-family='"Liberation Sans", sans-serif' font-size="19" fill="#1a1a1a">Ni<tspan font-size="11.5" dy="-8.5">2+</tspan></text>
<line x1="414.6" y1="822" x2="395.2" y2="803.2" stroke="#222" stroke-width="1"/>
<polygon points="388.0,796.2 398.3,801.4 393.5,806.3" fill="#222"/>
<text x="552.2" y="801.1" font-family='"Liberation Sans", sans-serif' font-size="19" fill="#1a1a1a">Ni<tspan font-size="11.5" dy="-8.5">3+</tspan></text>
<line x1="477.4" y1="837.2" x2="529.9" y2="805" stroke="#222" stroke-width="1"/>
<polygon points="538.4,799.8 530.8,808.4 527.2,802.7" fill="#222"/>
<line x1="506.5" y1="838.6" x2="532.4" y2="811.2" stroke="#222" stroke-width="1"/>
<polygon points="539.3,803.9 534.2,814.2 529.3,809.6" fill="#222"/>
<rect x="721.6" y="547.5" width="517.1" height="401.70000000000005" fill="none" stroke="#2a2a2a" stroke-width="1.5"/>
<line x1="1187.2" y1="949.2" x2="1187.2" y2="956.2" stroke="#333" stroke-width="1.4"/>
<line x1="1083.8" y1="949.2" x2="1083.8" y2="956.2" stroke="#333" stroke-width="1.4"/>
<line x1="980.4" y1="949.2" x2="980.4" y2="956.2" stroke="#333" stroke-width="1.4"/>
<line x1="877" y1="949.2" x2="877" y2="956.2" stroke="#333" stroke-width="1.4"/>
<line x1="773.6" y1="949.2" x2="773.6" y2="956.2" stroke="#333" stroke-width="1.4"/>
<line x1="1238.9" y1="949.2" x2="1238.9" y2="953.7" stroke="#333" stroke-width="1.4"/>
<line x1="1135.5" y1="949.2" x2="1135.5" y2="953.7" stroke="#333" stroke-width="1.4"/>
<line x1="1032.1" y1="949.2" x2="1032.1" y2="953.7" stroke="#333" stroke-width="1.4"/>
<line x1="928.7" y1="949.2" x2="928.7" y2="953.7" stroke="#333" stroke-width="1.4"/>
<line x1="825.3" y1="949.2" x2="825.3" y2="953.7" stroke="#333" stroke-width="1.4"/>
<line x1="721.9" y1="949.2" x2="721.9" y2="953.7" stroke="#333" stroke-width="1.4"/>
<text x="1187.2" y="976.2" font-family='"Liberation Sans", sans-serif' font-size="15.7" text-anchor="middle" fill="#1a1a1a">525</text>
<text x="1083.8" y="976.2" font-family='"Liberation Sans", sans-serif' font-size="15.7" text-anchor="middle" fill="#1a1a1a">530</text>
<text x="980.4" y="976.2" font-family='"Liberation Sans", sans-serif' font-size="15.7" text-anchor="middle" fill="#1a1a1a">535</text>
<text x="877" y="976.2" font-family='"Liberation Sans", sans-serif' font-size="15.7" text-anchor="middle" fill="#1a1a1a">540</text>
<text x="773.6" y="976.2" font-family='"Liberation Sans", sans-serif' font-size="15.7" text-anchor="middle" fill="#1a1a1a">545</text>
<text x="980.2" y="1006.8" font-family='"Liberation Sans", sans-serif' font-size="19.2" text-anchor="middle" fill="#1a1a1a">Binding Energy(eV)</text>
<text x="685.2" y="760.8" font-family='"Liberation Sans", sans-serif' font-size="20" text-anchor="middle" fill="#1a1a1a" transform="rotate(-90 685.2 760.8)">Intensity(a.u.)</text>
<text x="678.4" y="559.4" font-family='"Liberation Serif", serif' font-size="45" text-anchor="start" fill="#000">D</text>
<text x="736" y="584.2" font-family='"Liberation Sans", sans-serif' font-size="19.5" text-anchor="start" fill="#1a1a1a">O1s</text>
<polyline points="760.7,860.1 762.0,861.5 763.3,857.6 764.6,862.9 765.9,862.0 767.2,864.0 768.5,863.0 769.8,866.0 771.1,860.5 772.4,868.6 773.7,867.4 775.0,862.8 776.3,866.7 777.6,866.5 778.9,860.8 780.2,867.7 781.5,864.8 782.8,866.1 784.1,865.5 785.4,866.3 786.7,868.1 788.0,868.5 789.3,864.2 790.6,868.2 791.9,865.5 793.2,866.1 794.5,869.0 795.8,872.7 797.1,872.4 798.4,869.3 799.7,869.3 801.0,869.2 802.3,872.3 803.6,874.8 804.9,872.4 806.2,874.6 807.5,873.8 808.8,877.4 810.1,867.7 811.4,867.6 812.7,873.2 814.0,875.8 815.3,873.0 816.6,875.5 817.9,871.2 819.2,871.2 820.5,872.9 821.8,877.4 823.1,877.2 824.4,873.4 825.7,876.0 827.0,873.8 828.3,875.9 829.6,872.8 830.9,876.0 832.2,874.2 833.5,876.3 834.8,874.7 836.1,874.3 837.4,877.1 838.7,876.0 840.0,877.1 841.3,876.0 842.6,879.0 843.9,875.1 845.2,879.7 846.5,881.4 847.8,877.0 849.1,882.8 850.4,883.7 851.7,879.4 853.0,874.5 854.3,873.9 855.6,878.0 856.9,883.7 858.2,880.4 859.5,881.0 860.8,878.3 862.1,877.1 863.4,880.3 864.7,876.3 866.0,879.0 867.3,881.1 868.6,879.8 869.9,881.3 871.2,878.7 872.5,881.7 873.8,881.3 875.1,875.6 876.4,877.4 877.7,878.3 879.0,882.3 880.3,881.4 881.6,881.4 882.9,881.1 884.2,882.5 885.5,883.4 886.8,879.2 888.1,876.3 889.4,882.7 890.7,880.3 892.0,881.0 893.3,880.4 894.6,877.8 895.9,876.8 897.2,883.7 898.5,884.1 899.8,883.7 901.1,881.7 902.4,881.9 903.7,880.0 905.0,881.4 906.3,880.1 907.6,879.7 908.9,881.9 910.2,886.1 911.5,876.0 912.8,883.0 914.1,883.3 915.4,878.0 916.7,882.3 918.0,881.7 919.3,880.2 920.6,880.1 921.9,877.6 923.2,886.4 924.5,888.2 925.8,886.1 927.1,880.9 928.4,882.5 929.7,882.8 931.0,879.5 932.3,881.1 933.6,883.3 934.9,880.7 936.2,876.9 937.5,878.4 938.8,882.7 940.1,881.0 941.4,881.2 942.7,885.9 944.0,882.3 945.3,880.1 946.6,882.0 947.9,888.2 949.2,879.0 950.5,887.2 951.8,886.3 953.1,881.8 954.4,881.3 955.7,886.3 957.0,883.0 958.3,880.8 959.6,887.5 960.9,882.9 962.2,883.3 963.5,882.5 964.8,881.5 966.1,882.7 967.4,881.4 968.7,883.8 970.0,885.1 971.3,884.9 972.6,884.8 973.9,885.1 975.2,882.4 976.5,878.0 977.8,881.7 979.1,873.8 980.4,875.9 981.7,878.2 983.0,872.3 984.3,880.8 985.6,873.6 986.9,872.1 988.2,873.9 989.5,873.5 990.8,875.0 992.1,873.1 993.4,872.1 994.7,867.1 996.0,864.3 997.3,859.2 998.6,857.4 999.9,851.2 1001.2,844.6 1002.5,843.3 1003.8,834.0 1005.1,828.2 1006.4,823.5 1007.7,821.2 1009.0,813.8 1010.3,810.5 1011.6,805.9 1012.9,800.3 1014.2,789.2 1015.5,782.3 1016.8,774.9 1018.1,774.0 1019.4,766.5 1020.7,762.2 1022.0,758.0 1023.3,752.0 1024.6,748.8 1025.9,742.4 1027.2,741.1 1028.5,733.1 1029.8,726.6 1031.1,720.7 1032.4,708.2 1033.7,702.4 1035.0,693.6 1036.3,682.1 1037.6,675.8 1038.9,665.7 1040.2,656.9 1041.5,646.9 1042.8,638.6 1044.1,634.6 1045.4,627.2 1046.7,621.1 1048.0,615.4 1049.3,609.5 1050.6,603.3 1051.9,596.0 1053.2,595.0 1054.5,590.2 1055.8,589.1 1057.1,584.7 1058.4,584.4 1059.7,581.0 1061.0,579.3 1062.3,580.5 1063.6,580.6 1064.9,587.8 1066.2,590.7 1067.5,592.1 1068.8,598.8 1070.1,608.8 1071.4,623.8 1072.7,636.3 1074.0,648.3 1075.3,661.2 1076.6,680.7 1077.9,705.6 1079.2,725.9 1080.5,742.8 1081.8,760.1 1083.1,773.8 1084.4,786.8 1085.7,801.2 1087.0,812.7 1088.3,820.1 1089.6,830.6 1090.9,838.8 1092.2,845.1 1093.5,854.6 1094.8,860.5 1096.1,867.4 1097.4,867.8 1098.7,877.3 1100.0,880.5 1101.3,879.1 1102.6,886.6 1103.9,884.9 1105.2,887.2 1106.5,890.4 1107.8,892.8 1109.1,890.4 1110.4,892.7 1111.7,892.8 1113.0,890.2 1114.3,897.5 1115.6,895.7 1116.9,894.4 1118.2,897.4 1119.5,896.2 1120.8,893.2 1122.1,897.6 1123.4,895.0 1124.7,896.6 1126.0,897.6 1127.3,897.6 1128.6,900.2 1129.9,895.5 1131.2,894.5 1132.5,893.0 1133.8,893.3 1135.1,896.9 1136.4,896.3 1137.7,892.6 1139.0,893.4 1140.3,893.9 1141.6,899.5 1142.9,892.5 1144.2,896.1 1145.5,890.5 1146.8,894.4 1148.1,898.9 1149.4,891.4 1150.7,898.1 1152.0,889.6 1153.3,895.0 1154.6,891.6 1155.9,894.6 1157.2,893.9 1158.5,896.8 1159.8,895.2 1161.1,894.8 1162.4,892.7 1163.7,895.4 1165.0,891.8 1166.3,892.2 1167.6,892.1 1168.9,895.3 1170.2,900.0 1171.5,893.3 1172.8,898.8 1174.1,890.4" fill="none" stroke="#383838" stroke-width="1.9" stroke-linejoin="round" stroke-linecap="round"/>
<rect x="65.9" y="1055" width="531.7" height="402.29999999999995" fill="none" stroke="#2a2a2a" stroke-width="1.5"/>
<line x1="597.6" y1="1457.3" x2="597.6" y2="1465.3" stroke="#333" stroke-width="1.4"/>
<line x1="538.5" y1="1457.3" x2="538.5" y2="1465.3" stroke="#333" stroke-width="1.4"/>
<line x1="479.5" y1="1457.3" x2="479.5" y2="1465.3" stroke="#333" stroke-width="1.4"/>
<line x1="420.4" y1="1457.3" x2="420.4" y2="1465.3" stroke="#333" stroke-width="1.4"/>
<line x1="361.3" y1="1457.3" x2="361.3" y2="1465.3" stroke="#333" stroke-width="1.4"/>
<line x1="302.2" y1="1457.3" x2="302.2" y2="1465.3" stroke="#333" stroke-width="1.4"/>
<line x1="243.1" y1="1457.3" x2="243.1" y2="1465.3" stroke="#333" stroke-width="1.4"/>
<line x1="184.1" y1="1457.3" x2="184.1" y2="1465.3" stroke="#333" stroke-width="1.4"/>
<line x1="125" y1="1457.3" x2="125" y2="1465.3" stroke="#333" stroke-width="1.4"/>
<line x1="65.9" y1="1457.3" x2="65.9" y2="1465.3" stroke="#333" stroke-width="1.4"/>
<line x1="568.1" y1="1457.3" x2="568.1" y2="1462.3" stroke="#333" stroke-width="1.4"/>
<line x1="509" y1="1457.3" x2="509" y2="1462.3" stroke="#333" stroke-width="1.4"/>
<line x1="449.9" y1="1457.3" x2="449.9" y2="1462.3" stroke="#333" stroke-width="1.4"/>
<line x1="390.8" y1="1457.3" x2="390.8" y2="1462.3" stroke="#333" stroke-width="1.4"/>
<line x1="331.8" y1="1457.3" x2="331.8" y2="1462.3" stroke="#333" stroke-width="1.4"/>
<line x1="272.7" y1="1457.3" x2="272.7" y2="1462.3" stroke="#333" stroke-width="1.4"/>
<line x1="213.6" y1="1457.3" x2="213.6" y2="1462.3" stroke="#333" stroke-width="1.4"/>
<line x1="154.5" y1="1457.3" x2="154.5" y2="1462.3" stroke="#333" stroke-width="1.4"/>
<line x1="95.4" y1="1457.3" x2="95.4" y2="1462.3" stroke="#333" stroke-width="1.4"/>
<text x="597.6" y="1484.4" font-family='"Liberation Sans", sans-serif' font-size="15.5" text-anchor="middle" fill="#1a1a1a">156</text>
<text x="538.5" y="1484.4" font-family='"Liberation Sans", sans-serif' font-size="15.5" text-anchor="middle" fill="#1a1a1a">158</text>
<text x="479.5" y="1484.4" font-family='"Liberation Sans", sans-serif' font-size="15.5" text-anchor="middle" fill="#1a1a1a">160</text>
<text x="420.4" y="1484.4" font-family='"Liberation Sans", sans-serif' font-size="15.5" text-anchor="middle" fill="#1a1a1a">162</text>
<text x="361.3" y="1484.4" font-family='"Liberation Sans", sans-serif' font-size="15.5" text-anchor="middle" fill="#1a1a1a">164</text>
<text x="302.2" y="1484.4" font-family='"Liberation Sans", sans-serif' font-size="15.5" text-anchor="middle" fill="#1a1a1a">166</text>
<text x="243.1" y="1484.4" font-family='"Liberation Sans", sans-serif' font-size="15.5" text-anchor="middle" fill="#1a1a1a">168</text>
<text x="184.1" y="1484.4" font-family='"Liberation Sans", sans-serif' font-size="15.5" text-anchor="middle" fill="#1a1a1a">170</text>
<text x="125" y="1484.4" font-family='"Liberation Sans", sans-serif' font-size="15.5" text-anchor="middle" fill="#1a1a1a">172</text>
<text x="65.9" y="1484.4" font-family='"Liberation Sans", sans-serif' font-size="15.5" text-anchor="middle" fill="#1a1a1a">174</text>
<text x="331.8" y="1516.8" font-family='"Liberation Sans", sans-serif' font-size="19.6" text-anchor="middle" fill="#1a1a1a">Binding Energy (eV)</text>
<text x="29.9" y="1256.1" font-family='"Liberation Sans", sans-serif' font-size="20" text-anchor="middle" fill="#1a1a1a" transform="rotate(-90 29.9 1256.1)">Intensity (a.u.)</text>
<text x="25" y="1064.3" font-family='"Liberation Serif", serif' font-size="45" text-anchor="start" fill="#000">E</text>
<text x="87.7" y="1093.5" font-family='"Liberation Sans", sans-serif' font-size="19.5" text-anchor="start" fill="#1a1a1a">S 2p</text>
<polyline points="125.5,1415.8 126.5,1415.8 127.5,1415.8 128.5,1415.8 129.5,1415.8 130.5,1415.8 131.5,1415.8 132.5,1415.7 133.5,1415.7 134.5,1415.7 135.5,1415.7 136.5,1415.7 137.5,1415.7 138.5,1415.7 139.5,1415.7 140.5,1415.7 141.5,1415.7 142.5,1415.7 143.5,1415.7 144.5,1415.7 145.5,1415.7 146.5,1415.7 147.5,1415.6 148.5,1415.6 149.5,1415.6 150.5,1415.6 151.5,1415.6 152.5,1415.6 153.5,1415.6 154.5,1415.6 155.5,1415.6 156.5,1415.6 157.5,1415.6 158.5,1415.6 159.5,1415.6 160.5,1415.6 161.5,1415.6 162.5,1415.6 163.5,1415.6 164.5,1415.6 165.5,1415.6 166.5,1415.5 167.5,1415.5 168.5,1415.5 169.5,1415.5 170.5,1415.5 171.5,1415.5 172.5,1415.5 173.5,1415.5 174.5,1415.5 175.5,1415.5 176.5,1415.5 177.5,1415.5 178.5,1415.5 179.5,1415.5 180.5,1415.5 181.5,1415.5 182.5,1415.5 183.5,1415.5 184.5,1415.5 185.5,1415.5 186.5,1415.5 187.5,1415.5 188.5,1415.5 189.5,1415.5 190.5,1415.4 191.5,1415.4 192.5,1415.4 193.5,1415.4 194.5,1415.4 195.5,1415.4 196.5,1415.4 197.5,1415.4 198.5,1415.4 199.5,1415.4 200.5,1415.4 201.5,1415.4 202.5,1415.4 203.5,1415.4 204.5,1415.4 205.5,1415.4 206.5,1415.4 207.5,1415.4 208.5,1415.4 209.5,1415.4 210.5,1415.4 211.5,1415.4 212.5,1415.4 213.5,1415.4 214.5,1415.4 215.5,1415.4 216.5,1415.4 217.5,1415.4 218.5,1415.4 219.5,1415.4 220.5,1415.4 221.5,1415.4 222.5,1415.4 223.5,1415.4 224.5,1415.4 225.5,1415.4 226.5,1415.4 227.5,1415.4 228.5,1415.4 229.5,1415.4 230.5,1415.3 231.5,1415.3 232.5,1415.3 233.5,1415.3 234.5,1415.3 235.5,1415.3 236.5,1415.3 237.5,1415.3 238.5,1415.3 239.5,1415.3 240.5,1415.3 241.5,1415.3 242.5,1415.3 243.5,1415.3 244.5,1415.3 245.5,1415.3 246.5,1415.3 247.5,1415.3 248.5,1415.3 249.5,1415.3 250.5,1415.3 251.5,1415.3 252.5,1415.3 253.5,1415.3 254.5,1415.3 255.5,1415.3 256.5,1415.3 257.5,1415.3 258.5,1415.3 259.5,1415.3 260.5,1415.3 261.5,1415.3 262.5,1415.3 263.5,1415.3 264.5,1415.3 265.5,1415.3 266.5,1415.3 267.5,1415.3 268.5,1415.3 269.5,1415.3 270.5,1415.3 271.5,1415.3 272.5,1415.3 273.5,1415.3 274.5,1415.3 275.5,1415.3 276.5,1415.3 277.5,1415.3 278.5,1415.3 279.5,1415.3 280.5,1415.3 281.5,1415.3 282.5,1415.3 283.5,1415.3 284.5,1415.3 285.5,1415.3 286.5,1415.3 287.5,1415.3 288.5,1415.3 289.5,1415.3 290.5,1415.3 291.5,1415.3 292.5,1415.3 293.5,1415.3 294.5,1415.3 295.5,1415.3 296.5,1415.3 297.5,1415.3 298.5,1415.3 299.5,1415.3 300.5,1415.3 301.5,1415.3 302.5,1415.3 303.5,1415.3 304.5,1415.3 305.5,1415.3 306.5,1415.3 307.5,1415.3 308.5,1415.3 309.5,1415.3 310.5,1415.3 311.5,1415.3 312.5,1415.3 313.5,1415.3 314.5,1415.3 315.5,1415.3 316.5,1415.3 317.5,1415.3 318.5,1415.3 319.5,1415.3 320.5,1415.3 321.5,1415.3 322.5,1415.3 323.5,1415.3 324.5,1415.3 325.5,1415.3 326.5,1415.3 327.5,1415.3 328.5,1415.4 329.5,1415.4 330.5,1415.4 331.5,1415.4 332.5,1415.4 333.5,1415.4 334.5,1415.4 335.5,1415.5 336.5,1415.5 337.5,1415.5 338.5,1415.5 339.5,1415.6 340.5,1415.6 341.5,1415.6 342.5,1415.6 343.5,1415.7 344.5,1415.7 345.5,1415.7 346.5,1415.8 347.5,1415.8 348.5,1415.8 349.5,1415.9 350.5,1415.9 351.5,1415.9 352.5,1416.0 353.5,1416.0 354.5,1416.1 355.5,1416.1 356.5,1416.1 357.5,1416.2 358.5,1416.2 359.5,1416.3 360.5,1416.3 361.5,1416.4 362.5,1416.4 363.5,1416.5 364.5,1416.5 365.5,1416.6 366.5,1416.6 367.5,1416.7 368.5,1416.7 369.5,1416.8 370.5,1416.8 371.5,1416.9 372.5,1416.9 373.5,1417.0 374.5,1417.0 375.5,1417.1 376.5,1417.1 377.5,1417.2 378.5,1417.2 379.5,1417.3 380.5,1417.4 381.5,1417.4 382.5,1417.5 383.5,1417.5 384.5,1417.6 385.5,1417.7 386.5,1417.7 387.5,1417.8 388.5,1417.8 389.5,1417.9 390.5,1418.0 391.5,1418.0 392.5,1418.1 393.5,1418.2 394.5,1418.3 395.5,1418.4 396.5,1418.5 397.5,1418.6 398.5,1418.7 399.5,1418.9 400.5,1419.0 401.5,1419.1 402.5,1419.2 403.5,1419.4 404.5,1419.5 405.5,1419.6 406.5,1419.8 407.5,1419.9 408.5,1420.1 409.5,1420.2 410.5,1420.4 411.5,1420.5 412.5,1420.7 413.5,1420.8 414.5,1421.0 415.5,1421.1 416.5,1421.3 417.5,1421.4 418.5,1421.6 419.5,1421.7 420.5,1421.9 421.5,1422.0 422.5,1422.2 423.5,1422.3 424.5,1422.5 425.5,1422.6 426.5,1422.8 427.5,1422.9 428.5,1423.1 429.5,1423.2 430.5,1423.3 431.5,1423.5 432.5,1423.6 433.5,1423.7 434.5,1423.9 435.5,1424.0 436.5,1424.1 437.5,1424.2 438.5,1424.4 439.5,1424.5 440.5,1424.7 441.5,1424.8 442.5,1424.9 443.5,1425.1 444.5,1425.2 445.5,1425.3 446.5,1425.5 447.5,1425.6 448.5,1425.8 449.5,1425.9 450.5,1426.0 451.5,1426.2 452.5,1426.3 453.5,1426.4 454.5,1426.5 455.5,1426.7 456.5,1426.8 457.5,1426.9 458.5,1427.0 459.5,1427.1 460.5,1427.2 461.5,1427.3 462.5,1427.4 463.5,1427.5 464.5,1427.6 465.5,1427.6 466.5,1427.7 467.5,1427.8 468.5,1427.8 469.5,1427.9 470.5,1427.9 471.5,1428.0 472.5,1428.0 473.5,1428.1 474.5,1428.1 475.5,1428.2 476.5,1428.2 477.5,1428.3 478.5,1428.3 479.5,1428.4 480.5,1428.4 481.5,1428.5 482.5,1428.5 483.5,1428.6 484.5,1428.6 485.5,1428.7 486.5,1428.7 487.5,1428.8 488.5,1428.8 489.5,1428.9 490.5,1428.9 491.5,1428.9 492.5,1429.0 493.5,1429.0 494.5,1429.1 495.5,1429.1 496.5,1429.2 497.5,1429.2 498.5,1429.2 499.5,1429.3 500.5,1429.3 501.5,1429.4 502.5,1429.4 503.5,1429.4 504.5,1429.5 505.5,1429.5 506.5,1429.5 507.5,1429.6 508.5,1429.6 509.5,1429.6 510.5,1429.7 511.5,1429.7 512.5,1429.7 513.5,1429.8 514.5,1429.8 515.5,1429.8 516.5,1429.8 517.5,1429.9 518.5,1429.9 519.5,1429.9 520.5,1429.9 521.5,1430.0 522.5,1430.0 523.5,1430.0 524.5,1430.0 525.5,1430.1 526.5,1430.1 527.5,1430.1 528.5,1430.1 529.5,1430.1 530.5,1430.2 531.5,1430.2 532.5,1430.2 533.5,1430.2 534.5,1430.2 535.5,1430.2 536.5,1430.2 537.5,1430.2 538.5,1430.3 539.5,1430.3 540.5,1430.3 541.5,1430.3 542.5,1430.3 543.5,1430.3 544.5,1430.3 545.5,1430.3 546.5,1430.3 547.5,1430.3" fill="none" stroke="#118811" stroke-width="2" stroke-linejoin="round" stroke-linecap="round"/>
<polyline points="320.2,1414.2 320.9,1414.1 321.7,1414.1 322.4,1414.0 323.2,1414.0 323.9,1413.9 324.7,1413.9 325.4,1413.8 326.2,1413.7 326.9,1413.7 327.7,1413.6 328.4,1413.5 329.2,1413.4 329.9,1413.3 330.7,1413.1 331.4,1413.0 332.2,1412.9 332.9,1412.7 333.7,1412.5 334.4,1412.3 335.2,1412.1 335.9,1411.9 336.7,1411.7 337.4,1411.4 338.2,1411.1 338.9,1410.8 339.7,1410.5 340.4,1410.1 341.2,1409.7 341.9,1409.3 342.7,1408.9 343.4,1408.4 344.2,1407.9 344.9,1407.3 345.7,1406.7 346.4,1406.1 347.2,1405.4 347.9,1404.7 348.7,1404.0 349.4,1403.2 350.2,1402.3 350.9,1401.4 351.7,1400.5 352.4,1399.5 353.2,1398.4 353.9,1397.3 354.7,1396.1 355.4,1394.9 356.2,1393.6 356.9,1392.2 357.7,1390.8 358.4,1389.4 359.2,1387.8 359.9,1386.2 360.7,1384.5 361.4,1382.8 362.2,1381.0 362.9,1379.1 363.7,1377.2 364.4,1375.2 365.2,1373.2 365.9,1371.1 366.7,1368.9 367.4,1366.7 368.2,1364.4 368.9,1362.0 369.7,1359.7 370.4,1357.2 371.2,1354.7 371.9,1352.2 372.7,1349.7 373.4,1347.1 374.2,1344.5 374.9,1341.8 375.7,1339.2 376.4,1336.5 377.2,1333.8 377.9,1331.1 378.7,1328.4 379.4,1325.7 380.2,1323.1 380.9,1320.4 381.7,1317.8 382.4,1315.2 383.2,1312.6 383.9,1310.1 384.7,1307.7 385.4,1305.3 386.2,1302.9 386.9,1300.7 387.7,1298.5 388.4,1296.4 389.2,1294.4 389.9,1292.5 390.7,1290.7 391.4,1289.0 392.2,1287.4 392.9,1285.9 393.7,1284.6 394.4,1283.3 395.2,1282.3 395.9,1281.3 396.7,1280.5 397.4,1279.8 398.2,1279.3 398.9,1278.9 399.7,1278.7 400.4,1278.6 401.2,1278.7 401.9,1278.9 402.7,1279.2 403.4,1279.7 404.2,1280.4 404.9,1281.2 405.7,1282.1 406.4,1283.2 407.2,1284.4 407.9,1285.7 408.7,1287.2 409.4,1288.7 410.2,1290.4 410.9,1292.3 411.7,1294.2 412.4,1296.2 413.2,1298.4 413.9,1300.6 414.7,1302.9 415.4,1305.3 416.2,1307.7 416.9,1310.3 417.7,1312.8 418.4,1315.5 419.2,1318.2 419.9,1320.9 420.7,1323.7 421.4,1326.5 422.2,1329.3 422.9,1332.1 423.7,1335.0 424.4,1337.8 425.2,1340.7 425.9,1343.5 426.7,1346.3 427.4,1349.1 428.2,1351.9 428.9,1354.6 429.7,1357.4 430.4,1360.0 431.2,1362.7 431.9,1365.3 432.7,1367.8 433.4,1370.3 434.2,1372.8 434.9,1375.1 435.7,1377.5 436.4,1379.7 437.2,1382.0 437.9,1384.1 438.7,1386.2 439.4,1388.2 440.2,1390.2 440.9,1392.1 441.7,1393.9 442.4,1395.7 443.2,1397.4 443.9,1399.1 444.7,1400.6 445.4,1402.2 446.2,1403.6 446.9,1405.0 447.7,1406.3 448.4,1407.6 449.2,1408.8 449.9,1410.0 450.7,1411.1 451.4,1412.2 452.2,1413.2 452.9,1414.1 453.7,1415.0 454.4,1415.8 455.2,1416.7 455.9,1417.4 456.7,1418.1 457.4,1418.8 458.2,1419.4 458.9,1420.0 459.7,1420.6 460.4,1421.1 461.2,1421.6 461.9,1422.1 462.7,1422.5 463.4,1422.9 464.2,1423.3 464.9,1423.6 465.7,1424.0 466.4,1424.3 467.2,1424.5 467.9,1424.8 468.7,1425.0 469.4,1425.3 470.2,1425.5 470.9,1425.7 471.7,1425.8 472.4,1426.0 473.2,1426.2 473.9,1426.3 474.7,1426.4 475.4,1426.6 476.2,1426.7 476.9,1426.8 477.7,1426.9 478.4,1427.0 479.2,1427.1 479.9,1427.2 480.7,1427.3 481.4,1427.3 482.2,1427.4" fill="none" stroke="#118811" stroke-width="2" stroke-linejoin="round" stroke-linecap="round"/>
<polyline points="125.5,1414.1 126.5,1414.1 127.5,1414.1 128.5,1414.1 129.5,1414.1 130.5,1414.1 131.5,1414.1 132.5,1414.1 133.5,1414.1 134.5,1414.1 135.5,1414.1 136.5,1414.1 137.5,1414.1 138.5,1414.1 139.5,1414.1 140.5,1414.1 141.5,1414.0 142.5,1414.0 143.5,1414.0 144.5,1414.0 145.5,1413.9 146.5,1413.9 147.5,1413.8 148.5,1413.8 149.5,1413.7 150.5,1413.7 151.5,1413.6 152.5,1413.6 153.5,1413.5 154.5,1413.4 155.5,1413.3 156.5,1413.2 157.5,1413.2 158.5,1413.1 159.5,1412.9 160.5,1412.8 161.5,1412.7 162.5,1412.6 163.5,1412.4 164.5,1412.3 165.5,1412.1 166.5,1411.9 167.5,1411.8 168.5,1411.6 169.5,1411.4 170.5,1411.2 171.5,1410.9 172.5,1410.7 173.5,1410.5 174.5,1410.2 175.5,1409.9 176.5,1409.6 177.5,1409.4 178.5,1409.0 179.5,1408.7 180.5,1408.4 181.5,1408.1 182.5,1407.7 183.5,1407.3 184.5,1407.0 185.5,1406.6 186.5,1406.2 187.5,1405.8 188.5,1405.4 189.5,1404.9 190.5,1404.5 191.5,1404.0 192.5,1403.6 193.5,1403.1 194.5,1402.6 195.5,1402.2 196.5,1401.7 197.5,1401.2 198.5,1400.7 199.5,1400.2 200.5,1399.7 201.5,1399.2 202.5,1398.7 203.5,1398.2 204.5,1397.7 205.5,1397.2 206.5,1396.7 207.5,1396.2 208.5,1395.7 209.5,1395.2 210.5,1394.8 211.5,1394.3 212.5,1393.9 213.5,1393.4 214.5,1393.0 215.5,1392.6 216.5,1392.2 217.5,1391.8 218.5,1391.5 219.5,1391.1 220.5,1390.8 221.5,1390.5 222.5,1390.2 223.5,1390.0 224.5,1389.7 225.5,1389.5 226.5,1389.4 227.5,1389.2 228.5,1389.1 229.5,1389.0 230.5,1388.9 231.5,1388.8 232.5,1388.8 233.5,1388.8 234.5,1388.8 235.5,1388.9 236.5,1388.9 237.5,1389.0 238.5,1389.2 239.5,1389.3 240.5,1389.5 241.5,1389.7 242.5,1389.9 243.5,1390.2 244.5,1390.5 245.5,1390.8 246.5,1391.1 247.5,1391.4 248.5,1391.8 249.5,1392.2 250.5,1392.5 251.5,1393.0 252.5,1393.4 253.5,1393.8 254.5,1394.3 255.5,1394.7 256.5,1395.2 257.5,1395.7 258.5,1396.2 259.5,1396.7 260.5,1397.2 261.5,1397.7 262.5,1398.2 263.5,1398.7 264.5,1399.2 265.5,1399.7 266.5,1400.3 267.5,1400.8 268.5,1401.3 269.5,1401.8 270.5,1402.3 271.5,1402.8 272.5,1403.3 273.5,1403.8 274.5,1404.2 275.5,1404.7 276.5,1405.2 277.5,1405.6 278.5,1406.0 279.5,1406.5 280.5,1406.9 281.5,1407.3 282.5,1407.7 283.5,1408.0 284.5,1408.4 285.5,1408.7 286.5,1409.1 287.5,1409.4 288.5,1409.7 289.5,1410.0 290.5,1410.2 291.5,1410.5 292.5,1410.7 293.5,1411.0 294.5,1411.2 295.5,1411.4 296.5,1411.6 297.5,1411.8 298.5,1412.0 299.5,1412.1 300.5,1412.3 301.5,1412.4 302.5,1412.5 303.5,1412.7 304.5,1412.8 305.5,1412.9 306.5,1413.0 307.5,1413.1 308.5,1413.2 309.5,1413.3 310.5,1413.3 311.5,1413.4 312.5,1413.5 313.5,1413.5 314.5,1413.6 315.5,1413.7 316.5,1413.7 317.5,1413.8 318.5,1413.8 319.5,1413.9 320.5,1413.9 321.5,1414.0 322.5,1414.0 323.5,1414.1 324.5,1414.1 325.5,1414.2 326.5,1414.2 327.5,1414.2 328.5,1414.3 329.5,1414.3 330.5,1414.4 331.5,1414.4 332.5,1414.4 333.5,1414.5 334.5,1414.5 335.5,1414.6 336.5,1414.6 337.5,1414.6 338.5,1414.7 339.5,1414.7 340.5,1414.8 341.5,1414.8 342.5,1414.8 343.5,1414.9 344.5,1414.9 345.5,1415.0 346.5,1415.0 347.5,1415.1 348.5,1415.1 349.5,1415.2 350.5,1415.2 351.5,1415.2 352.5,1415.3 353.5,1415.3 354.5,1415.4 355.5,1415.4 356.5,1415.5 357.5,1415.5 358.5,1415.6 359.5,1415.6 360.5,1415.7 361.5,1415.8 362.5,1415.8 363.5,1415.9 364.5,1415.9 365.5,1416.0 366.5,1416.0 367.5,1416.1 368.5,1416.1 369.5,1416.2 370.5,1416.3 371.5,1416.3 372.5,1416.4 373.5,1416.4 374.5,1416.5 375.5,1416.6 376.5,1416.6 377.5,1416.7 378.5,1416.8 379.5,1416.8 380.5,1416.9 381.5,1417.0 382.5,1417.0 383.5,1417.1 384.5,1417.1 385.5,1417.2 386.5,1417.3 387.5,1417.3 388.5,1417.4 389.5,1417.5 390.5,1417.5 391.5,1417.6 392.5,1417.7 393.5,1417.8 394.5,1417.9 395.5,1418.0 396.5,1418.0 397.5,1418.1 398.5,1418.2 399.5,1418.3 400.5,1418.4 401.5,1418.5 402.5,1418.7 403.5,1418.8 404.5,1418.9 405.5,1419.0 406.5,1419.1 407.5,1419.2 408.5,1419.4 409.5,1419.5 410.5,1419.6 411.5,1419.7 412.5,1419.9 413.5,1420.0 414.5,1420.1 415.5,1420.3 416.5,1420.4 417.5,1420.6 418.5,1420.7 419.5,1420.9 420.5,1421.0 421.5,1421.2 422.5,1421.3 423.5,1421.4 424.5,1421.6 425.5,1421.8 426.5,1421.9 427.5,1422.1 428.5,1422.2 429.5,1422.4 430.5,1422.5 431.5,1422.7 432.5,1422.8 433.5,1423.0 434.5,1423.2 435.5,1423.3 436.5,1423.5 437.5,1423.7 438.5,1424.0 439.5,1424.2 440.5,1424.4 441.5,1424.7 442.5,1424.9 443.5,1425.2 444.5,1425.5 445.5,1425.7 446.5,1426.0 447.5,1426.2 448.5,1426.5 449.5,1426.8 450.5,1427.0 451.5,1427.2 452.5,1427.5 453.5,1427.7 454.5,1427.9 455.5,1428.1 456.5,1428.3 457.5,1428.4 458.5,1428.5 459.5,1428.6 460.5,1428.7 461.5,1428.8 462.5,1428.8 463.5,1428.9 464.5,1428.9 465.5,1429.0 466.5,1429.0 467.5,1429.1 468.5,1429.1 469.5,1429.1 470.5,1429.2 471.5,1429.2 472.5,1429.3 473.5,1429.3 474.5,1429.3 475.5,1429.3 476.5,1429.4 477.5,1429.4 478.5,1429.4 479.5,1429.4 480.5,1429.5 481.5,1429.5 482.5,1429.5 483.5,1429.5 484.5,1429.5 485.5,1429.6 486.5,1429.6 487.5,1429.6 488.5,1429.6 489.5,1429.6 490.5,1429.6 491.5,1429.6 492.5,1429.6 493.5,1429.6 494.5,1429.6 495.5,1429.6 496.5,1429.6 497.5,1429.6 498.5,1429.7 499.5,1429.7 500.5,1429.7 501.5,1429.7 502.5,1429.7 503.5,1429.7 504.5,1429.7 505.5,1429.7 506.5,1429.7 507.5,1429.7 508.5,1429.7 509.5,1429.7 510.5,1429.7 511.5,1429.7 512.5,1429.7 513.5,1429.7 514.5,1429.7 515.5,1429.7 516.5,1429.7 517.5,1429.7 518.5,1429.7 519.5,1429.8 520.5,1429.8 521.5,1429.8 522.5,1429.8 523.5,1429.8 524.5,1429.8 525.5,1429.8 526.5,1429.8 527.5,1429.8 528.5,1429.8 529.5,1429.8 530.5,1429.8 531.5,1429.8 532.5,1429.8 533.5,1429.8 534.5,1429.8 535.5,1429.8 536.5,1429.8 537.5,1429.8 538.5,1429.8 539.5,1429.8 540.5,1429.8 541.5,1429.8 542.5,1429.8 543.5,1429.8 544.5,1429.8 545.5,1429.8 546.5,1429.8 547.5,1429.8" fill="none" stroke="#1a1aa0" stroke-width="2.4" stroke-linejoin="round" stroke-linecap="round"/>
<polyline points="125.5,1414.4 126.7,1407.1 127.9,1402.8 129.1,1394.1 130.3,1401.5 131.5,1398.9 132.7,1395.7 133.9,1396.1 135.1,1397.2 136.3,1400.0 137.5,1406.7 138.7,1406.5 139.9,1402.3 141.1,1402.4 142.3,1410.1 143.5,1406.9 144.7,1401.7 145.9,1403.8 147.1,1403.0 148.3,1404.8 149.5,1407.1 150.7,1403.6 151.9,1405.6 153.1,1406.3 154.3,1407.0 155.5,1402.7 156.7,1404.0 157.9,1410.7 159.1,1404.1 160.3,1404.8 161.5,1406.1 162.7,1403.0 163.9,1403.6 165.1,1410.0 166.3,1408.8 167.5,1401.5 168.7,1405.1 169.9,1400.9 171.1,1400.2 172.3,1404.9 173.5,1409.6 174.7,1404.7 175.9,1409.5 177.1,1401.7 178.3,1405.4 179.5,1405.2 180.7,1405.3 181.9,1408.1 183.1,1406.8 184.3,1403.3 185.5,1400.8 186.7,1403.3 187.9,1404.9 189.1,1403.2 190.3,1399.9 191.5,1398.7 192.7,1406.1 193.9,1403.7 195.1,1400.4 196.3,1402.8 197.5,1402.1 198.7,1399.0 199.9,1397.5 201.1,1401.4 202.3,1399.7 203.5,1400.6 204.7,1398.6 205.9,1395.5 207.1,1392.8 208.3,1392.5 209.5,1391.2 210.7,1392.6 211.9,1392.4 213.1,1394.8 214.3,1394.7 215.5,1389.9 216.7,1390.5 217.9,1385.1 219.1,1386.0 220.3,1384.2 221.5,1387.4 222.7,1384.8 223.9,1383.6 225.1,1385.5 226.3,1379.4 227.5,1384.5 228.7,1385.9 229.9,1388.1 231.1,1380.5 232.3,1382.7 233.5,1377.7 234.7,1388.1 235.9,1383.4 237.1,1384.8 238.3,1379.4 239.5,1383.4 240.7,1382.4 241.9,1380.7 243.1,1380.9 244.3,1381.8 245.5,1382.2 246.7,1379.7 247.9,1389.3 249.1,1385.4 250.3,1386.0 251.5,1386.2 252.7,1385.3 253.9,1386.0 255.1,1388.3 256.3,1386.4 257.5,1392.0 258.7,1388.4 259.9,1393.6 261.1,1388.5 262.3,1393.4 263.5,1395.9 264.7,1399.2 265.9,1400.7 267.1,1394.9 268.3,1397.2 269.5,1405.2 270.7,1400.5 271.9,1398.1 273.1,1407.1 274.3,1406.3 275.5,1401.4 276.7,1403.7 277.9,1409.7 279.1,1404.7 280.3,1404.7 281.5,1405.4 282.7,1410.9 283.9,1402.1 285.1,1408.4 286.3,1407.8 287.5,1409.0 288.7,1410.0 289.9,1408.1 291.1,1409.9 292.3,1409.7 293.5,1412.8 294.7,1401.9 295.9,1408.4 297.1,1409.3 298.3,1405.1 299.5,1413.4 300.7,1410.9 301.9,1404.4 303.1,1408.7 304.3,1411.6 305.5,1409.8 306.7,1407.1 307.9,1410.8 309.1,1409.6 310.3,1405.4 311.5,1407.0 312.7,1411.0 313.9,1410.0 315.1,1402.8 316.3,1403.1 317.5,1408.4 318.7,1405.2 319.9,1402.8 321.1,1400.7 322.3,1400.8 323.5,1401.4 324.7,1389.8 325.9,1397.5 327.1,1390.4 328.3,1387.6 329.5,1388.2 330.7,1385.9 331.9,1385.7 333.1,1388.5 334.3,1386.9 335.5,1391.0 336.7,1383.2 337.9,1390.1 339.1,1383.9 340.3,1387.8 341.5,1386.0 342.7,1389.5 343.9,1381.7 345.1,1383.5 346.3,1385.0 347.5,1381.1 348.7,1373.7 349.9,1375.0 351.1,1374.8 352.3,1372.0 353.5,1373.2 354.7,1371.8 355.9,1361.3 357.1,1369.2 358.3,1377.3 359.5,1364.4 360.7,1363.5 361.9,1363.2 363.1,1359.2 364.3,1358.8 365.5,1357.1 366.7,1359.6 367.9,1346.6 369.1,1341.5 370.3,1331.1 371.5,1321.1 372.7,1315.3 373.9,1308.0 375.1,1309.7 376.3,1299.1 377.5,1290.0 378.7,1289.0 379.9,1290.3 381.1,1280.0 382.3,1274.6 383.5,1271.5 384.7,1265.6 385.9,1259.9 387.1,1263.1 388.3,1244.7 389.5,1248.2 390.7,1241.6 391.9,1237.8 393.1,1230.3 394.3,1230.3 395.5,1226.3 396.7,1216.8 397.9,1207.3 399.1,1204.4 400.3,1202.1 401.5,1197.7 402.7,1194.5 403.9,1201.6 405.1,1196.9 406.3,1188.5 407.5,1185.3 408.7,1183.5 409.9,1175.9 411.1,1174.5 412.3,1170.7 413.5,1165.5 414.7,1160.9 415.9,1161.7 417.1,1156.6 418.3,1159.6 419.5,1165.1 420.7,1156.3 421.9,1157.2 423.1,1154.9 424.3,1151.7 425.5,1138.1 426.7,1137.5 427.9,1133.3 429.1,1137.6 430.3,1136.8 431.5,1130.6 432.7,1132.7 433.9,1136.0 435.1,1141.7 436.3,1134.5 437.5,1125.9 438.7,1133.5 439.9,1148.4 441.1,1160.2 442.3,1159.1 443.5,1159.5 444.7,1170.7 445.9,1171.6 447.1,1169.7 448.3,1182.2 449.5,1190.8 450.7,1204.0 451.9,1213.5 453.1,1230.0 454.3,1237.9 455.5,1249.2 456.7,1269.0 457.9,1275.5 459.1,1287.7 460.3,1296.3 461.5,1305.1 462.7,1314.3 463.9,1326.2 465.1,1333.0 466.3,1338.9 467.5,1359.7 468.7,1373.8 469.9,1382.7 471.1,1390.7 472.3,1390.8 473.5,1393.8 474.7,1400.1 475.9,1400.8 477.1,1397.6 478.3,1402.5 479.5,1404.9 480.7,1412.8 481.9,1407.6 483.1,1406.4 484.3,1406.6 485.5,1410.5 486.7,1410.0 487.9,1412.6 489.1,1410.7 490.3,1409.6 491.5,1414.4 492.7,1417.0 493.9,1416.9 495.1,1412.4 496.3,1416.7 497.5,1420.6 498.7,1419.5 499.9,1417.2 501.1,1418.2 502.3,1418.6 503.5,1421.1 504.7,1419.7 505.9,1422.6 507.1,1422.1 508.3,1422.3 509.5,1424.6 510.7,1425.0 511.9,1421.5 513.1,1422.0 514.3,1425.9 515.5,1422.4 516.7,1419.6 517.9,1421.8 519.1,1420.4 520.3,1423.7 521.5,1424.2 522.7,1428.1 523.9,1425.4 525.1,1426.1 526.3,1428.9 527.5,1426.7 528.7,1421.8 529.9,1424.4 531.1,1422.7 532.3,1424.2 533.5,1428.6 534.7,1433.8 535.9,1427.7 537.1,1426.2 538.3,1423.4 539.5,1426.6 540.7,1430.8 541.9,1423.9 543.1,1427.8 544.3,1429.3 545.5,1430.0 546.7,1434.6 547.9,1427.6" fill="none" stroke="#000" stroke-width="2" stroke-linejoin="round" stroke-linecap="round"/>
<polyline points="125.5,1411.7 126.5,1411.6 127.5,1411.5 128.5,1411.4 129.5,1411.3 130.5,1411.2 131.5,1411.1 132.5,1411.0 133.5,1410.9 134.5,1410.8 135.5,1410.7 136.5,1410.6 137.5,1410.5 138.5,1410.4 139.5,1410.3 140.5,1410.2 141.5,1410.1 142.5,1409.9 143.5,1409.8 144.5,1409.7 145.5,1409.6 146.5,1409.5 147.5,1409.3 148.5,1409.2 149.5,1409.1 150.5,1408.9 151.5,1408.8 152.5,1408.7 153.5,1408.5 154.5,1408.4 155.5,1408.3 156.5,1408.1 157.5,1408.0 158.5,1407.8 159.5,1407.7 160.5,1407.5 161.5,1407.4 162.5,1407.2 163.5,1407.1 164.5,1406.9 165.5,1406.8 166.5,1406.6 167.5,1406.4 168.5,1406.3 169.5,1406.1 170.5,1405.9 171.5,1405.7 172.5,1405.6 173.5,1405.4 174.5,1405.2 175.5,1405.0 176.5,1404.8 177.5,1404.5 178.5,1404.3 179.5,1404.1 180.5,1403.9 181.5,1403.6 182.5,1403.4 183.5,1403.1 184.5,1402.8 185.5,1402.5 186.5,1402.2 187.5,1401.8 188.5,1401.5 189.5,1401.1 190.5,1400.8 191.5,1400.4 192.5,1400.0 193.5,1399.6 194.5,1399.2 195.5,1398.9 196.5,1398.5 197.5,1398.1 198.5,1397.7 199.5,1397.3 200.5,1396.9 201.5,1396.5 202.5,1396.1 203.5,1395.8 204.5,1395.4 205.5,1395.0 206.5,1394.7 207.5,1394.3 208.5,1393.9 209.5,1393.6 210.5,1393.2 211.5,1392.8 212.5,1392.3 213.5,1391.9 214.5,1391.5 215.5,1391.0 216.5,1390.6 217.5,1390.1 218.5,1389.7 219.5,1389.3 220.5,1388.9 221.5,1388.5 222.5,1388.1 223.5,1387.7 224.5,1387.4 225.5,1387.0 226.5,1386.8 227.5,1386.5 228.5,1386.3 229.5,1386.1 230.5,1385.9 231.5,1385.8 232.5,1385.8 233.5,1385.7 234.5,1385.7 235.5,1385.8 236.5,1385.9 237.5,1385.9 238.5,1386.1 239.5,1386.2 240.5,1386.4 241.5,1386.5 242.5,1386.7 243.5,1386.9 244.5,1387.2 245.5,1387.4 246.5,1387.7 247.5,1387.9 248.5,1388.2 249.5,1388.4 250.5,1388.7 251.5,1389.0 252.5,1389.3 253.5,1389.6 254.5,1389.9 255.5,1390.2 256.5,1390.5 257.5,1390.9 258.5,1391.3 259.5,1391.7 260.5,1392.2 261.5,1392.7 262.5,1393.2 263.5,1393.7 264.5,1394.3 265.5,1394.8 266.5,1395.4 267.5,1396.0 268.5,1396.5 269.5,1397.1 270.5,1397.6 271.5,1398.1 272.5,1398.6 273.5,1399.1 274.5,1399.6 275.5,1400.0 276.5,1400.4 277.5,1400.7 278.5,1401.1 279.5,1401.5 280.5,1401.8 281.5,1402.2 282.5,1402.6 283.5,1402.9 284.5,1403.3 285.5,1403.7 286.5,1404.0 287.5,1404.4 288.5,1404.7 289.5,1405.0 290.5,1405.4 291.5,1405.7 292.5,1406.0 293.5,1406.2 294.5,1406.5 295.5,1406.7 296.5,1406.9 297.5,1407.1 298.5,1407.3 299.5,1407.5 300.5,1407.6 301.5,1407.7 302.5,1407.7 303.5,1407.8 304.5,1407.8 305.5,1407.8 306.5,1407.7 307.5,1407.7 308.5,1407.6 309.5,1407.5 310.5,1407.4 311.5,1407.3 312.5,1407.2 313.5,1407.0 314.5,1406.9 315.5,1406.7 316.5,1406.6 317.5,1406.4 318.5,1406.3 319.5,1406.1 320.5,1405.9 321.5,1405.7 322.5,1405.4 323.5,1405.2 324.5,1404.9 325.5,1404.6 326.5,1404.2 327.5,1403.9 328.5,1403.5 329.5,1403.1 330.5,1402.7 331.5,1402.2 332.5,1401.8 333.5,1401.3 334.5,1400.8 335.5,1400.3 336.5,1399.8 337.5,1399.3 338.5,1398.8 339.5,1398.3 340.5,1397.7 341.5,1397.2 342.5,1396.6 343.5,1396.0 344.5,1395.3 345.5,1394.6 346.5,1393.7 347.5,1392.8 348.5,1391.7 349.5,1390.4 350.5,1388.8 351.5,1387.1 352.5,1385.2 353.5,1383.2 354.5,1381.0 355.5,1378.6 356.5,1376.2 357.5,1373.6 358.5,1371.0 359.5,1368.3 360.5,1365.5 361.5,1362.8 362.5,1359.9 363.5,1357.1 364.5,1354.3 365.5,1351.5 366.5,1348.6 367.5,1345.7 368.5,1342.6 369.5,1339.4 370.5,1336.1 371.5,1332.7 372.5,1329.2 373.5,1325.6 374.5,1322.0 375.5,1318.2 376.5,1314.4 377.5,1310.3 378.5,1306.2 379.5,1301.9 380.5,1297.5 381.5,1293.1 382.5,1288.6 383.5,1284.1 384.5,1279.5 385.5,1274.9 386.5,1270.3 387.5,1265.7 388.5,1261.3 389.5,1257.0 390.5,1252.8 391.5,1248.7 392.5,1244.8 393.5,1240.9 394.5,1237.3 395.5,1233.8 396.5,1230.6 397.5,1227.6 398.5,1224.9 399.5,1222.3 400.5,1219.9 401.5,1217.5 402.5,1215.2 403.5,1213.0 404.5,1210.9 405.5,1208.7 406.5,1206.5 407.5,1204.3 408.5,1202.1 409.5,1200.0 410.5,1197.9 411.5,1195.8 412.5,1193.6 413.5,1191.5 414.5,1189.2 415.5,1186.8 416.5,1184.4 417.5,1181.8 418.5,1179.2 419.5,1176.4 420.5,1173.5 421.5,1170.3 422.5,1166.8 423.5,1162.8 424.5,1158.2 425.5,1153.2 426.5,1147.8 427.5,1142.2 428.5,1136.3 429.5,1130.3 430.5,1124.5 431.5,1119.5 432.5,1115.7 433.5,1113.5 434.5,1112.9 435.5,1113.8 436.5,1116.0 437.5,1119.1 438.5,1123.0 439.5,1127.5 440.5,1132.5 441.5,1137.8 442.5,1143.4 443.5,1149.3 444.5,1155.9 445.5,1163.5 446.5,1171.9 447.5,1181.1 448.5,1190.6 449.5,1200.3 450.5,1210.0 451.5,1219.4 452.5,1228.6 453.5,1237.6 454.5,1246.7 455.5,1255.7 456.5,1264.8 457.5,1273.7 458.5,1282.4 459.5,1290.8 460.5,1298.8 461.5,1306.6 462.5,1314.1 463.5,1321.6 464.5,1328.9 465.5,1336.0 466.5,1342.8 467.5,1349.0 468.5,1354.5 469.5,1359.1 470.5,1363.0 471.5,1366.2 472.5,1369.1 473.5,1371.8 474.5,1374.3 475.5,1376.6 476.5,1378.9 477.5,1381.0 478.5,1383.0 479.5,1384.9 480.5,1386.7 481.5,1388.4 482.5,1390.0 483.5,1391.5 484.5,1392.9 485.5,1394.2 486.5,1395.4 487.5,1396.6 488.5,1397.7 489.5,1398.7 490.5,1399.7 491.5,1400.6 492.5,1401.5 493.5,1402.4 494.5,1403.2 495.5,1404.0 496.5,1404.7 497.5,1405.5 498.5,1406.2 499.5,1406.8 500.5,1407.5 501.5,1408.1 502.5,1408.7 503.5,1409.3 504.5,1409.9 505.5,1410.4 506.5,1410.9 507.5,1411.4 508.5,1411.8 509.5,1412.3 510.5,1412.7 511.5,1413.1 512.5,1413.5 513.5,1413.9 514.5,1414.2 515.5,1414.6 516.5,1414.9 517.5,1415.2 518.5,1415.6 519.5,1415.9 520.5,1416.2 521.5,1416.6 522.5,1416.9 523.5,1417.2 524.5,1417.5 525.5,1417.8 526.5,1418.2 527.5,1418.4 528.5,1418.7 529.5,1419.0 530.5,1419.3 531.5,1419.5 532.5,1419.8 533.5,1420.0 534.5,1420.3 535.5,1420.5 536.5,1420.7 537.5,1420.9 538.5,1421.1 539.5,1421.2 540.5,1421.4 541.5,1421.5 542.5,1421.6 543.5,1421.7 544.5,1421.8 545.5,1421.9 546.5,1421.9 547.5,1422.0" fill="none" stroke="#ff1111" stroke-width="2.4" stroke-linejoin="round" stroke-linecap="round"/>
<polyline points="125.5,1414.3 126.5,1414.3 127.5,1414.3 128.5,1414.2 129.5,1414.2 130.5,1414.2 131.5,1414.2 132.5,1414.2 133.5,1414.2 134.5,1414.2 135.5,1414.1 136.5,1414.1 137.5,1414.1 138.5,1414.1 139.5,1414.1 140.5,1414.1 141.5,1414.1 142.5,1414.1 143.5,1414.0 144.5,1414.0 145.5,1414.0 146.5,1414.0 147.5,1414.0 148.5,1414.0 149.5,1414.0 150.5,1413.9 151.5,1413.9 152.5,1413.9 153.5,1413.9 154.5,1413.9 155.5,1413.9 156.5,1413.9 157.5,1413.8 158.5,1413.8 159.5,1413.8 160.5,1413.8 161.5,1413.8 162.5,1413.8 163.5,1413.8 164.5,1413.7 165.5,1413.7 166.5,1413.7 167.5,1413.7 168.5,1413.7 169.5,1413.7 170.5,1413.6 171.5,1413.6 172.5,1413.6 173.5,1413.6 174.5,1413.6 175.5,1413.6 176.5,1413.6 177.5,1413.5 178.5,1413.5 179.5,1413.5 180.5,1413.5 181.5,1413.5 182.5,1413.5 183.5,1413.5 184.5,1413.4 185.5,1413.4 186.5,1413.4 187.5,1413.4 188.5,1413.4 189.5,1413.4 190.5,1413.3 191.5,1413.3 192.5,1413.3 193.5,1413.3 194.5,1413.3 195.5,1413.3 196.5,1413.2 197.5,1413.2 198.5,1413.2 199.5,1413.2 200.5,1413.2 201.5,1413.2 202.5,1413.1 203.5,1413.1 204.5,1413.1 205.5,1413.1 206.5,1413.1 207.5,1413.0 208.5,1413.0 209.5,1413.0 210.5,1413.0 211.5,1413.0 212.5,1412.9 213.5,1412.9 214.5,1412.9 215.5,1412.9 216.5,1412.9 217.5,1412.8 218.5,1412.8 219.5,1412.8 220.5,1412.8 221.5,1412.8 222.5,1412.7 223.5,1412.7 224.5,1412.7 225.5,1412.7 226.5,1412.7 227.5,1412.6 228.5,1412.6 229.5,1412.6 230.5,1412.6 231.5,1412.5 232.5,1412.5 233.5,1412.5 234.5,1412.5 235.5,1412.4 236.5,1412.4 237.5,1412.4 238.5,1412.4 239.5,1412.3 240.5,1412.3 241.5,1412.3 242.5,1412.3 243.5,1412.2 244.5,1412.2 245.5,1412.2 246.5,1412.1 247.5,1412.1 248.5,1412.1 249.5,1412.1 250.5,1412.0 251.5,1412.0 252.5,1412.0 253.5,1411.9 254.5,1411.9 255.5,1411.9 256.5,1411.8 257.5,1411.8 258.5,1411.8 259.5,1411.7 260.5,1411.7 261.5,1411.7 262.5,1411.6 263.5,1411.6 264.5,1411.5 265.5,1411.5 266.5,1411.5 267.5,1411.4 268.5,1411.4 269.5,1411.3 270.5,1411.3 271.5,1411.3 272.5,1411.2 273.5,1411.2 274.5,1411.1 275.5,1411.1 276.5,1411.0 277.5,1411.0 278.5,1410.9 279.5,1410.9 280.5,1410.8 281.5,1410.8 282.5,1410.7 283.5,1410.7 284.5,1410.6 285.5,1410.6 286.5,1410.5 287.5,1410.5 288.5,1410.4 289.5,1410.4 290.5,1410.3 291.5,1410.2 292.5,1410.2 293.5,1410.1 294.5,1410.0 295.5,1410.0 296.5,1409.9 297.5,1409.8 298.5,1409.8 299.5,1409.7 300.5,1409.6 301.5,1409.5 302.5,1409.5 303.5,1409.4 304.5,1409.3 305.5,1409.2 306.5,1409.1 307.5,1409.1 308.5,1409.0 309.5,1408.9 310.5,1408.8 311.5,1408.7 312.5,1408.6 313.5,1408.5 314.5,1408.4 315.5,1408.3 316.5,1408.2 317.5,1408.1 318.5,1408.0 319.5,1407.9 320.5,1407.7 321.5,1407.6 322.5,1407.5 323.5,1407.4 324.5,1407.3 325.5,1407.2 326.5,1407.1 327.5,1406.9 328.5,1406.8 329.5,1406.7 330.5,1406.6 331.5,1406.5 332.5,1406.4 333.5,1406.2 334.5,1406.1 335.5,1406.0 336.5,1405.9 337.5,1405.7 338.5,1405.6 339.5,1405.5 340.5,1405.3 341.5,1405.2 342.5,1405.1 343.5,1404.9 344.5,1404.8 345.5,1404.6 346.5,1404.4 347.5,1404.3 348.5,1404.1 349.5,1403.9 350.5,1403.7 351.5,1403.5 352.5,1403.3 353.5,1403.1 354.5,1402.9 355.5,1402.7 356.5,1402.5 357.5,1402.2 358.5,1402.0 359.5,1401.7 360.5,1401.4 361.5,1401.1 362.5,1400.8 363.5,1400.5 364.5,1400.2 365.5,1399.8 366.5,1399.5 367.5,1399.1 368.5,1398.7 369.5,1398.3 370.5,1397.8 371.5,1397.3 372.5,1396.8 373.5,1396.3 374.5,1395.7 375.5,1395.1 376.5,1394.5 377.5,1393.8 378.5,1393.1 379.5,1392.4 380.5,1391.6 381.5,1390.7 382.5,1389.8 383.5,1388.9 384.5,1387.8 385.5,1386.7 386.5,1385.6 387.5,1384.3 388.5,1383.0 389.5,1381.5 390.5,1380.0 391.5,1378.3 392.5,1376.6 393.5,1374.7 394.5,1372.7 395.5,1370.5 396.5,1368.2 397.5,1365.7 398.5,1363.1 399.5,1360.2 400.5,1357.2 401.5,1354.0 402.5,1350.6 403.5,1346.9 404.5,1343.1 405.5,1339.0 406.5,1334.6 407.5,1330.0 408.5,1325.1 409.5,1320.0 410.5,1314.6 411.5,1308.9 412.5,1302.9 413.5,1296.7 414.5,1290.1 415.5,1283.4 416.5,1276.3 417.5,1269.0 418.5,1261.5 419.5,1253.8 420.5,1245.9 421.5,1237.9 422.5,1229.8 423.5,1221.6 424.5,1213.5 425.5,1205.6 426.5,1197.8 427.5,1190.3 428.5,1183.2 429.5,1176.6 430.5,1170.7 431.5,1165.4 432.5,1161.0 433.5,1157.5 434.5,1155.0 435.5,1153.5 436.5,1153.2 437.5,1153.9 438.5,1155.7 439.5,1158.5 440.5,1162.3 441.5,1167.0 442.5,1172.5 443.5,1178.8 444.5,1185.6 445.5,1192.9 446.5,1200.6 447.5,1208.5 448.5,1216.7 449.5,1224.9 450.5,1233.2 451.5,1241.4 452.5,1249.6 453.5,1257.6 454.5,1265.4 455.5,1273.0 456.5,1280.4 457.5,1287.6 458.5,1294.5 459.5,1301.1 460.5,1307.4 461.5,1313.5 462.5,1319.3 463.5,1324.8 464.5,1330.1 465.5,1335.0 466.5,1339.8 467.5,1344.2 468.5,1348.5 469.5,1352.5 470.5,1356.2 471.5,1359.8 472.5,1363.1 473.5,1366.3 474.5,1369.2 475.5,1372.0 476.5,1374.6 477.5,1377.1 478.5,1379.4 479.5,1381.5 480.5,1383.6 481.5,1385.5 482.5,1387.3 483.5,1388.9 484.5,1390.5 485.5,1392.0 486.5,1393.4 487.5,1394.8 488.5,1396.0 489.5,1397.2 490.5,1398.3 491.5,1399.4 492.5,1400.4 493.5,1401.4 494.5,1402.3 495.5,1403.1 496.5,1403.9 497.5,1404.7 498.5,1405.5 499.5,1406.2 500.5,1406.9 501.5,1407.5 502.5,1408.2 503.5,1408.8 504.5,1409.3 505.5,1409.9 506.5,1410.4 507.5,1410.9 508.5,1411.4 509.5,1411.9 510.5,1412.4 511.5,1412.8 512.5,1413.2 513.5,1413.7 514.5,1414.1 515.5,1414.4 516.5,1414.8 517.5,1415.2 518.5,1415.5 519.5,1415.9 520.5,1416.2 521.5,1416.5 522.5,1416.8 523.5,1417.1 524.5,1417.4 525.5,1417.7 526.5,1418.0 527.5,1418.3 528.5,1418.5 529.5,1418.8 530.5,1419.0 531.5,1419.3 532.5,1419.5 533.5,1419.7 534.5,1419.9 535.5,1420.2 536.5,1420.4 537.5,1420.6 538.5,1420.8 539.5,1421.0 540.5,1421.1 541.5,1421.3 542.5,1421.5 543.5,1421.7 544.5,1421.8 545.5,1422.0 546.5,1422.2 547.5,1422.3" fill="none" stroke="#ff22ff" stroke-width="2.2" stroke-linejoin="round" stroke-linecap="round"/>
<text x="466.5" y="1162.8" font-family='"Liberation Sans", sans-serif' font-size="19.5" text-anchor="start" fill="#222">161.44eV</text>
<line x1="436.4" y1="1228" x2="476.8" y2="1178.7" stroke="#222" stroke-width="1"/>
<polygon points="483.1,1171.0 478.8,1181.7 473.5,1177.4" fill="#222"/>
<text x="280" y="1261" font-family='"Liberation Sans", sans-serif' font-size="19.5" text-anchor="start" fill="#222">162.6eV</text>
<line x1="394.2" y1="1314.7" x2="335.1" y2="1274.7" stroke="#222" stroke-width="1"/>
<polygon points="326.8,1269.1 337.8,1272.4 334.0,1278.1" fill="#222"/>
<text x="150" y="1323" font-family='"Liberation Sans", sans-serif' font-size="19.5" text-anchor="start" fill="#222">168.35eV</text>
<line x1="234.9" y1="1403.9" x2="198.8" y2="1348.3" stroke="#222" stroke-width="1"/>
<polygon points="193.4,1339.9 202.2,1347.3 196.5,1351.0" fill="#222"/>
<rect x="721.6" y="1056.2" width="528.9999999999999" height="400.5999999999999" fill="none" stroke="#2a2a2a" stroke-width="1.5"/>
<line x1="713.6" y1="1456.7" x2="721.6" y2="1456.7" stroke="#333" stroke-width="1.4"/>
<text x="708" y="1461.7" font-family='"Liberation Sans", sans-serif' font-size="15.2" text-anchor="end" fill="#1a1a1a">0</text>
<line x1="713.6" y1="1395" x2="721.6" y2="1395" stroke="#333" stroke-width="1.4"/>
<text x="708" y="1400" font-family='"Liberation Sans", sans-serif' font-size="15.2" text-anchor="end" fill="#1a1a1a">50</text>
<line x1="713.6" y1="1333.4" x2="721.6" y2="1333.4" stroke="#333" stroke-width="1.4"/>
<text x="708" y="1338.4" font-family='"Liberation Sans", sans-serif' font-size="15.2" text-anchor="end" fill="#1a1a1a">100</text>
<line x1="713.6" y1="1271.7" x2="721.6" y2="1271.7" stroke="#333" stroke-width="1.4"/>
<text x="708" y="1276.7" font-family='"Liberation Sans", sans-serif' font-size="15.2" text-anchor="end" fill="#1a1a1a">150</text>
<line x1="713.6" y1="1210" x2="721.6" y2="1210" stroke="#333" stroke-width="1.4"/>
<text x="708" y="1215" font-family='"Liberation Sans", sans-serif' font-size="15.2" text-anchor="end" fill="#1a1a1a">200</text>
<line x1="713.6" y1="1148.3" x2="721.6" y2="1148.3" stroke="#333" stroke-width="1.4"/>
<text x="708" y="1153.3" font-family='"Liberation Sans", sans-serif' font-size="15.2" text-anchor="end" fill="#1a1a1a">250</text>
<line x1="713.6" y1="1086.7" x2="721.6" y2="1086.7" stroke="#333" stroke-width="1.4"/>
<text x="708" y="1091.7" font-family='"Liberation Sans", sans-serif' font-size="15.2" text-anchor="end" fill="#1a1a1a">300</text>
<line x1="717.1" y1="1425.9" x2="721.6" y2="1425.9" stroke="#333" stroke-width="1.4"/>
<line x1="717.1" y1="1364.2" x2="721.6" y2="1364.2" stroke="#333" stroke-width="1.4"/>
<line x1="717.1" y1="1302.5" x2="721.6" y2="1302.5" stroke="#333" stroke-width="1.4"/>
<line x1="717.1" y1="1240.9" x2="721.6" y2="1240.9" stroke="#333" stroke-width="1.4"/>
<line x1="717.1" y1="1179.2" x2="721.6" y2="1179.2" stroke="#333" stroke-width="1.4"/>
<line x1="717.1" y1="1117.5" x2="721.6" y2="1117.5" stroke="#333" stroke-width="1.4"/>
<line x1="717.1" y1="1055.8" x2="721.6" y2="1055.8" stroke="#333" stroke-width="1.4"/>
<line x1="928.1" y1="1456.8" x2="928.1" y2="1465.8" stroke="#333" stroke-width="1.4"/>
<line x1="1185" y1="1456.8" x2="1185" y2="1465.8" stroke="#333" stroke-width="1.4"/>
<line x1="799.6" y1="1456.8" x2="799.6" y2="1462.3" stroke="#333" stroke-width="1.4"/>
<line x1="1056.5" y1="1456.8" x2="1056.5" y2="1462.3" stroke="#333" stroke-width="1.4"/>
<text x="928.1" y="1484" font-family='"Liberation Sans", sans-serif' font-size="15.6" text-anchor="middle" fill="#1a1a1a">1000</text>
<text x="1185" y="1484" font-family='"Liberation Sans", sans-serif' font-size="15.6" text-anchor="middle" fill="#1a1a1a">2000</text>
<text x="986.3" y="1518.9" font-family='"Liberation Sans", sans-serif' font-size="19.4" text-anchor="middle" fill="#1a1a1a">Raman shift(cm<tspan font-size="11" dy="-9.5">-1</tspan><tspan dy="9.5">)</tspan></text>
<text x="668.2" y="1269.2" font-family='"Liberation Sans", sans-serif' font-size="20" text-anchor="middle" fill="#1a1a1a" transform="rotate(-90 668.2 1269.2)">Intensity(a.u.)</text>
<text x="681" y="1061.8" font-family='"Liberation Serif", serif' font-size="45" text-anchor="start" fill="#000">F</text>
<clipPath id="clipF"><rect x="722.3" y="1000" width="527.6" height="456"/></clipPath>
<polyline points="721.6,1418.3 722.3,1417.7 723.0,1417.5 723.7,1417.7 724.4,1418.1 725.1,1417.6 725.8,1418.4 726.5,1418.8 727.2,1418.4 727.9,1418.8 728.6,1418.8 729.3,1418.3 730.0,1418.1 730.7,1418.3 731.4,1418.4 732.1,1417.8 732.8,1417.5 733.5,1417.3 734.2,1418.2 734.9,1417.8 735.6,1418.1 736.3,1418.5 737.0,1419.6 737.7,1418.8 738.4,1418.4 739.1,1418.8 739.8,1418.7 740.5,1417.6 741.2,1417.7 741.9,1418.1 742.6,1418.2 743.3,1417.7 744.0,1418.3 744.7,1418.7 745.4,1419.5 746.1,1418.4 746.8,1418.8 747.5,1418.4 748.2,1418.8 748.9,1417.7 749.6,1418.4 750.3,1418.6 751.0,1419.0 751.7,1418.6 752.4,1418.6 753.1,1419.5 753.8,1419.2 754.5,1419.2 755.2,1419.3 755.9,1419.7 756.6,1419.2 757.3,1419.0 758.0,1418.8 758.7,1418.3 759.4,1417.9 760.1,1417.5 760.8,1417.6 761.5,1418.0 762.2,1418.0 762.9,1418.0 763.6,1418.2 764.3,1418.4 765.0,1419.0 765.7,1420.0 766.4,1420.6 767.1,1420.4 767.8,1421.4 768.5,1420.6 769.2,1419.4 769.9,1419.5 770.6,1419.1 771.3,1418.8 772.0,1418.9 772.7,1419.1 773.4,1418.7 774.1,1418.6 774.8,1418.8 775.5,1418.7 776.2,1419.4 776.9,1420.1 777.6,1420.8 778.3,1419.9 779.0,1419.8 779.7,1419.7 780.4,1418.9 781.1,1418.9 781.8,1419.3 782.5,1419.6 783.2,1419.3 783.9,1419.2 784.6,1419.2 785.3,1419.3 786.0,1419.8 786.7,1420.5 787.4,1420.9 788.1,1421.4 788.8,1421.3 789.5,1421.4 790.2,1420.8 790.9,1421.4 791.6,1421.4 792.3,1421.3 793.0,1421.8 793.7,1423.0 794.4,1422.1 795.1,1422.1 795.8,1422.6 796.5,1422.3 797.2,1421.4 797.9,1422.3 798.6,1422.5 799.3,1422.1 800.0,1422.2 800.7,1422.6 801.4,1422.6 802.1,1422.4 802.8,1423.0 803.5,1423.1 804.2,1423.3 804.9,1423.2 805.6,1423.7 806.3,1423.8 807.0,1423.8 807.7,1424.0 808.4,1424.8 809.1,1424.8 809.8,1424.8 810.5,1425.4 811.2,1425.2 811.9,1424.9 812.6,1425.2 813.3,1424.9 814.0,1423.8 814.7,1423.8 815.4,1423.1 816.1,1423.0 816.8,1423.3 817.5,1424.1 818.2,1425.2 818.9,1426.1 819.6,1426.2 820.3,1426.4 821.0,1426.0 821.7,1424.8 822.4,1424.4 823.1,1424.4 823.8,1424.3 824.5,1424.5 825.2,1424.8 825.9,1425.2 826.6,1425.0 827.3,1425.0 828.0,1424.5 828.7,1424.4 829.4,1424.4 830.1,1425.1 830.8,1425.3 831.5,1426.0 832.2,1427.0 832.9,1427.1 833.6,1426.5 834.3,1425.7 835.0,1425.4 835.7,1425.2 836.4,1424.7 837.1,1424.7 837.8,1425.4 838.5,1425.6 839.2,1424.8 839.9,1425.5 840.6,1425.8 841.3,1425.5 842.0,1424.4 842.7,1425.0 843.4,1424.8 844.1,1424.6 844.8,1424.3 845.5,1425.1 846.2,1424.8 846.9,1424.9 847.6,1424.8 848.3,1425.9 849.0,1425.8 849.7,1425.5 850.4,1425.4 851.1,1425.9 851.8,1425.1 852.5,1425.0 853.2,1426.1 853.9,1425.9 854.6,1425.5 855.3,1426.5 856.0,1426.7 856.7,1426.1 857.4,1426.6 858.1,1426.6 858.8,1426.0 859.5,1426.1 860.2,1426.0 860.9,1426.2 861.6,1425.5 862.3,1425.8 863.0,1426.0 863.7,1426.2 864.4,1425.9 865.1,1426.7 865.8,1426.9 866.5,1426.2 867.2,1426.5 867.9,1426.7 868.6,1426.8 869.3,1426.6 870.0,1427.7 870.7,1428.2 871.4,1428.6 872.1,1429.1 872.8,1428.5 873.5,1428.8 874.2,1428.2 874.9,1427.4 875.6,1427.0 876.3,1428.2 877.0,1426.9 877.7,1427.2 878.4,1427.3 879.1,1427.2 879.8,1426.7 880.5,1427.6 881.2,1427.4 881.9,1427.4 882.6,1427.0 883.3,1427.0 884.0,1426.9 884.7,1426.7 885.4,1427.2 886.1,1428.0 886.8,1428.4 887.5,1427.4 888.2,1427.9 888.9,1427.8 889.6,1427.7 890.3,1427.7 891.0,1429.0 891.7,1429.4 892.4,1429.3 893.1,1429.3 893.8,1429.9 894.5,1429.6 895.2,1429.3 895.9,1430.0 896.6,1429.0 897.3,1428.8 898.0,1428.5 898.7,1427.5 899.4,1427.1 900.1,1428.4 900.8,1427.8 901.5,1428.1 902.2,1429.3 902.9,1428.8 903.6,1428.4 904.3,1428.6 905.0,1428.1 905.7,1427.7 906.4,1427.5 907.1,1426.9 907.8,1426.5 908.5,1426.9 909.2,1426.9 909.9,1427.4 910.6,1427.9 911.3,1428.1 912.0,1427.7 912.7,1427.4 913.4,1426.6 914.1,1426.8 914.8,1426.8 915.5,1426.7 916.2,1426.7 916.9,1427.4 917.6,1426.4 918.3,1425.8 919.0,1425.4 919.7,1425.3 920.4,1425.4 921.1,1425.4 921.8,1425.8 922.5,1426.1 923.2,1425.9 923.9,1425.6 924.6,1425.2 925.3,1424.7 926.0,1424.5 926.7,1425.2 927.4,1424.6 928.1,1425.0 928.8,1424.3 929.5,1423.8 930.2,1423.1 930.9,1423.7 931.6,1423.9 932.3,1423.6 933.0,1423.4 933.7,1422.5 934.4,1421.7 935.1,1421.4 935.8,1422.0 936.5,1422.2 937.2,1422.4 937.9,1421.3 938.6,1419.4 939.3,1418.6 940.0,1417.7 940.7,1417.3 941.4,1417.4 942.1,1418.6 942.8,1418.1 943.5,1418.1 944.2,1417.7 944.9,1418.2 945.6,1417.4 946.3,1417.8 947.0,1417.4 947.7,1416.6 948.4,1415.8 949.1,1415.6 949.8,1415.0 950.5,1415.1 951.2,1415.2 951.9,1414.4 952.6,1414.6 953.3,1413.8 954.0,1413.6 954.7,1413.4 955.4,1414.3 956.1,1412.9 956.8,1412.6 957.5,1412.7 958.2,1411.5 958.9,1410.2 959.6,1410.4 960.3,1410.1 961.0,1408.7 961.7,1409.4 962.4,1408.7 963.1,1408.8 963.8,1408.2 964.5,1407.8 965.2,1407.5 965.9,1407.5 966.6,1406.8 967.3,1406.7 968.0,1406.5 968.7,1405.3 969.4,1404.8 970.1,1404.5 970.8,1403.8 971.5,1403.2 972.2,1403.3 972.9,1402.3 973.6,1401.0 974.3,1400.0 975.0,1399.5 975.7,1398.3 976.4,1398.0 977.1,1397.0 977.8,1396.0 978.5,1395.4 979.2,1394.5 979.9,1393.0 980.6,1392.5 981.3,1391.6 982.0,1390.2 982.7,1388.8 983.4,1387.9 984.1,1386.0 984.8,1384.7 985.5,1382.9 986.2,1381.3 986.9,1379.4 987.6,1377.7 988.3,1375.7 989.0,1374.0 989.7,1371.9 990.4,1369.6 991.1,1367.1 991.8,1364.5 992.5,1361.9 993.2,1358.6 993.9,1355.4 994.6,1351.5 995.3,1346.8 996.0,1342.7 996.7,1338.2 997.4,1333.4 998.1,1328.0 998.8,1322.3 999.5,1316.1 1000.2,1309.4 1000.9,1302.3 1001.6,1294.7 1002.3,1286.7 1003.0,1278.2 1003.7,1268.3 1004.4,1256.5 1005.1,1243.5 1005.8,1230.1 1006.5,1217.1 1007.2,1205.0 1007.9,1194.0 1008.6,1183.5 1009.3,1173.0 1010.0,1162.8 1010.7,1153.0 1011.4,1141.8 1012.1,1126.6 1012.8,1110.0 1013.5,1093.8 1014.2,1088.0 1014.9,1088.0 1015.6,1088.0 1016.3,1088.0 1017.0,1088.0 1017.7,1088.0 1018.4,1091.5 1019.1,1108.1 1019.8,1126.9 1020.5,1150.0 1021.2,1172.3 1021.9,1186.9 1022.6,1200.0 1023.3,1222.3 1024.0,1244.7 1024.7,1257.8 1025.4,1268.5 1026.1,1277.4 1026.8,1285.3 1027.5,1292.7 1028.2,1300.0 1028.9,1306.8 1029.6,1313.0 1030.3,1318.7 1031.0,1323.8 1031.7,1328.3 1032.4,1332.5 1033.1,1336.4 1033.8,1340.0 1034.5,1343.3 1035.2,1346.1 1035.9,1348.6 1036.6,1350.7 1037.3,1352.6 1038.0,1354.3 1038.7,1355.8 1039.4,1357.3 1040.1,1358.7 1040.8,1360.1 1041.5,1361.5 1042.2,1362.9 1042.9,1364.5 1043.6,1366.2 1044.3,1367.9 1045.0,1369.3 1045.7,1370.2 1046.4,1370.8 1047.1,1371.2 1047.8,1371.6 1048.5,1371.9 1049.2,1372.2 1049.9,1372.4 1050.6,1372.6 1051.3,1372.7 1052.0,1372.8 1052.7,1372.8 1053.4,1372.7 1054.1,1372.6 1054.8,1372.4 1055.5,1372.2 1056.2,1372.0 1056.9,1371.6 1057.6,1371.3 1058.3,1370.9 1059.0,1370.5 1059.7,1370.0 1060.4,1369.4 1061.1,1368.6 1061.8,1367.3 1062.5,1365.8 1063.2,1363.9 1063.9,1361.9 1064.6,1359.7 1065.3,1356.9 1066.0,1353.3 1066.7,1349.1 1067.4,1344.4 1068.1,1339.2 1068.8,1332.6 1069.5,1324.8 1070.2,1316.2 1070.9,1307.4 1071.6,1299.1 1072.3,1291.9 1073.0,1285.8 1073.7,1280.6 1074.4,1275.6 1075.1,1270.4 1075.8,1264.5 1076.5,1257.3 1077.2,1248.4 1077.9,1229.5 1078.6,1216.5 1079.3,1216.5 1080.0,1216.5 1080.7,1216.5 1081.4,1216.5 1082.1,1216.5 1082.8,1216.5 1083.5,1217.0 1084.2,1219.0 1084.9,1222.5 1085.6,1227.1 1086.3,1232.6 1087.0,1239.6 1087.7,1252.6 1088.4,1266.3 1089.1,1279.6 1089.8,1293.3 1090.5,1307.2 1091.2,1321.1 1091.9,1335.9 1092.6,1352.8 1093.3,1369.1 1094.0,1382.1 1094.7,1389.2 1095.4,1393.8 1096.1,1397.7 1096.8,1401.0 1097.5,1403.8 1098.2,1406.2 1098.9,1408.3 1099.6,1410.1 1100.3,1413.3 1101.0,1415.4 1101.7,1416.0 1102.4,1416.4 1103.1,1417.6 1103.8,1417.5 1104.5,1417.6 1105.2,1419.2 1105.9,1420.1 1106.6,1420.2 1107.3,1419.5 1108.0,1420.0 1108.7,1419.3 1109.4,1418.8 1110.1,1419.1 1110.8,1420.1 1111.5,1420.3 1112.2,1421.5 1112.9,1421.9 1113.6,1421.3 1114.3,1421.4 1115.0,1421.5 1115.7,1421.1 1116.4,1421.5 1117.1,1422.6 1117.8,1422.7 1118.5,1422.9 1119.2,1422.9 1119.9,1422.9 1120.6,1422.6 1121.3,1422.9 1122.0,1423.3 1122.7,1423.7 1123.4,1424.6 1124.1,1425.2 1124.8,1425.4 1125.5,1425.9 1126.2,1426.9 1126.9,1426.5 1127.6,1425.7 1128.3,1426.3 1129.0,1426.4 1129.7,1425.3 1130.4,1424.7 1131.1,1424.9 1131.8,1425.3 1132.5,1425.2 1133.2,1426.1 1133.9,1426.4 1134.6,1426.6 1135.3,1425.6 1136.0,1425.3 1136.7,1425.5 1137.4,1426.1 1138.1,1426.4 1138.8,1426.9 1139.5,1427.2 1140.2,1427.1 1140.9,1426.9 1141.6,1427.1 1142.3,1427.2 1143.0,1427.9 1143.7,1427.1 1144.4,1427.5 1145.1,1427.1 1145.8,1427.3 1146.5,1426.7 1147.2,1427.2 1147.9,1427.3 1148.6,1428.0 1149.3,1428.1 1150.0,1428.7 1150.7,1429.1 1151.4,1429.4 1152.1,1428.8 1152.8,1428.4 1153.5,1428.2 1154.2,1427.7 1154.9,1427.1 1155.6,1427.4 1156.3,1427.4 1157.0,1427.7 1157.7,1428.6 1158.4,1428.6 1159.1,1428.7 1159.8,1428.8 1160.5,1428.3 1161.2,1427.9 1161.9,1428.2 1162.6,1427.9 1163.3,1427.8 1164.0,1427.2 1164.7,1427.3 1165.4,1427.5 1166.1,1427.4 1166.8,1427.9 1167.5,1428.4 1168.2,1428.8 1168.9,1428.6 1169.6,1429.2 1170.3,1429.4 1171.0,1430.3 1171.7,1429.5 1172.4,1429.7 1173.1,1430.0 1173.8,1429.1 1174.5,1428.2 1175.2,1428.3 1175.9,1428.2 1176.6,1427.9 1177.3,1428.4 1178.0,1428.9 1178.7,1429.4 1179.4,1429.1 1180.1,1428.9 1180.8,1429.0 1181.5,1429.0 1182.2,1429.0 1182.9,1429.4 1183.6,1429.0 1184.3,1429.3 1185.0,1429.7 1185.7,1429.4 1186.4,1429.7 1187.1,1429.6 1187.8,1430.3 1188.5,1429.9 1189.2,1429.6 1189.9,1429.6 1190.6,1430.5 1191.3,1429.9 1192.0,1429.9 1192.7,1430.2 1193.4,1429.6 1194.1,1428.8 1194.8,1428.5 1195.5,1428.6 1196.2,1428.8 1196.9,1429.5 1197.6,1430.0 1198.3,1429.6 1199.0,1429.0 1199.7,1428.7 1200.4,1429.0 1201.1,1428.9 1201.8,1429.4 1202.5,1429.6 1203.2,1429.7 1203.9,1429.4 1204.6,1429.0 1205.3,1428.6 1206.0,1428.9 1206.7,1428.9 1207.4,1428.8 1208.1,1429.6 1208.8,1430.3 1209.5,1430.0 1210.2,1430.2 1210.9,1430.3 1211.6,1429.7 1212.3,1429.6 1213.0,1429.8 1213.7,1429.6 1214.4,1429.8 1215.1,1429.7 1215.8,1429.3 1216.5,1429.7 1217.2,1430.0 1217.9,1429.6 1218.6,1430.2 1219.3,1430.3 1220.0,1430.0 1220.7,1430.0 1221.4,1430.2 1222.1,1429.8 1222.8,1430.2 1223.5,1431.0 1224.2,1431.4 1224.9,1431.7 1225.6,1431.9 1226.3,1431.4 1227.0,1431.4 1227.7,1430.7 1228.4,1430.9 1229.1,1431.3 1229.8,1432.0 1230.5,1431.1 1231.2,1430.3 1231.9,1429.5 1232.6,1428.8 1233.3,1428.2 1234.0,1428.9 1234.7,1430.4 1235.4,1431.1 1236.1,1432.1 1236.8,1432.6 1237.5,1432.1 1238.2,1431.6 1238.9,1431.3 1239.6,1430.6 1240.3,1430.7 1241.0,1431.1 1241.7,1431.1 1242.4,1431.3 1243.1,1431.3 1243.8,1431.4 1244.5,1430.5 1245.2,1430.8 1245.9,1430.5 1246.6,1430.2 1247.3,1429.0 1248.0,1429.0 1248.7,1428.7 1249.4,1428.8 1250.1,1429.8" fill="none" stroke="#990000" stroke-width="10.5" stroke-linejoin="bevel" stroke-linecap="butt" clip-path="url(#clipF)"/>
<line x1="1017.6" y1="1197.8" x2="1026.4" y2="1197.8" stroke="#fff" stroke-width="2"/>
<text x="994" y="1080.9" font-family='"Liberation Sans", sans-serif' font-size="17.2" text-anchor="start" fill="#1a1a1a">1340</text>
<text x="1059.3" y="1205.5" font-family='"Liberation Sans", sans-serif' font-size="17.2" text-anchor="start" fill="#1a1a1a">1588</text>
</svg></body></html>
